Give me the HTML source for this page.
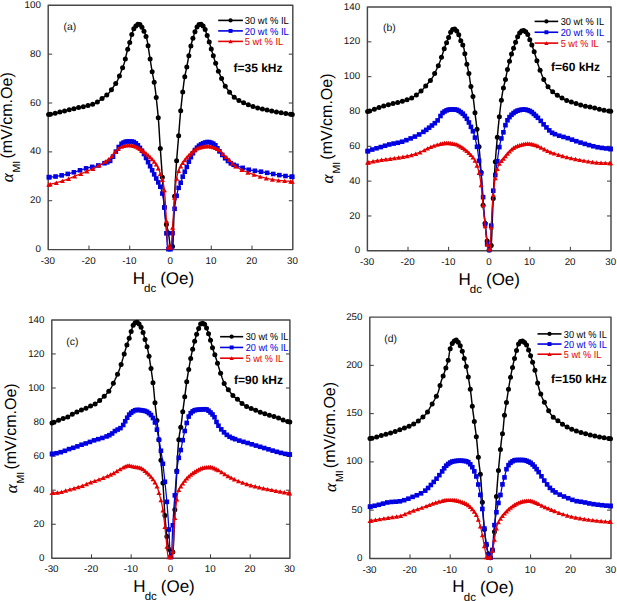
<!DOCTYPE html>
<html><head><meta charset="utf-8"><style>
html,body{margin:0;padding:0;background:#fff;}
svg{display:block;}
text{font-family:"Liberation Sans", sans-serif;text-rendering:geometricPrecision;}
.t{font-size:9.8px;fill:#111;}
.lg{font-size:10.2px;}
.pl{font-size:10.4px;fill:#111;}
.fq{font-size:12px;font-weight:bold;fill:#000;}
.ax{font-size:16px;fill:#000;}
.sub{font-size:10.5px;fill:#000;}
.axx{font-size:17px;fill:#000;}
.alpha{font-family:"Liberation Serif",serif !important;font-style:italic;font-size:17px;fill:#000;}
.subx{font-size:11.5px;fill:#000;}
</style></head><body>
<svg width="617" height="601" viewBox="0 0 617 601">
<rect width="617" height="601" fill="#fff"/>
<rect x="48.20" y="5.30" width="244.60" height="244.30" fill="none" stroke="#474747" stroke-width="1.45" stroke-linejoin="round"/>
<text x="40.90" y="252.20" text-anchor="end" class="t">0</text>
<path d="M48.20 200.74h4.0M292.80 200.74h-4.0" stroke="#3a3a3a" stroke-width="1"/>
<text x="40.90" y="203.34" text-anchor="end" class="t">20</text>
<path d="M48.20 151.88h4.0M292.80 151.88h-4.0" stroke="#3a3a3a" stroke-width="1"/>
<text x="40.90" y="154.48" text-anchor="end" class="t">40</text>
<path d="M48.20 103.02h4.0M292.80 103.02h-4.0" stroke="#3a3a3a" stroke-width="1"/>
<text x="40.90" y="105.62" text-anchor="end" class="t">60</text>
<path d="M48.20 54.16h4.0M292.80 54.16h-4.0" stroke="#3a3a3a" stroke-width="1"/>
<text x="40.90" y="56.76" text-anchor="end" class="t">80</text>
<text x="40.90" y="7.90" text-anchor="end" class="t">100</text>
<text x="47.90" y="264.10" text-anchor="middle" class="t">-30</text>
<path d="M88.97 249.60v-4.0" stroke="#3a3a3a" stroke-width="1"/>
<text x="88.67" y="264.10" text-anchor="middle" class="t">-20</text>
<path d="M129.73 249.60v-4.0" stroke="#3a3a3a" stroke-width="1"/>
<text x="129.43" y="264.10" text-anchor="middle" class="t">-10</text>
<path d="M170.50 249.60v-4.0" stroke="#3a3a3a" stroke-width="1"/>
<text x="170.20" y="264.10" text-anchor="middle" class="t">0</text>
<path d="M211.27 249.60v-4.0" stroke="#3a3a3a" stroke-width="1"/>
<text x="210.97" y="264.10" text-anchor="middle" class="t">10</text>
<path d="M252.03 249.60v-4.0" stroke="#3a3a3a" stroke-width="1"/>
<text x="251.73" y="264.10" text-anchor="middle" class="t">20</text>
<text x="292.50" y="264.10" text-anchor="middle" class="t">30</text>
<path d="M48.6 114.5 L49.0 114.5 L49.4 114.4 L49.8 114.3 L50.2 114.3 L50.6 114.2 L51.0 114.2 L51.4 114.1 L51.8 114.0 L52.2 113.9 L52.6 113.9 L53.0 113.8 L53.4 113.7 L53.8 113.6 L54.2 113.5 L54.6 113.4 L55.0 113.3 L55.4 113.2 L55.8 113.1 L56.2 113.0 L56.6 112.9 L57.0 112.7 L57.4 112.6 L57.8 112.5 L58.2 112.4 L58.6 112.4 L59.0 112.3 L59.4 112.2 L59.8 112.1 L60.2 112.0 L60.6 111.9 L61.0 111.8 L61.4 111.7 L61.8 111.7 L62.2 111.6 L62.6 111.5 L63.0 111.4 L63.4 111.3 L63.8 111.2 L64.2 111.1 L64.6 111.0 L65.0 110.9 L65.4 110.8 L65.8 110.7 L66.2 110.5 L66.6 110.4 L67.0 110.3 L67.4 110.2 L67.8 110.1 L68.2 110.0 L68.6 109.8 L69.0 109.8 L69.4 109.7 L69.8 109.6 L70.2 109.5 L70.6 109.4 L71.0 109.3 L71.4 109.3 L71.8 109.2 L72.2 109.1 L72.6 109.0 L73.0 108.9 L73.4 108.8 L73.8 108.7 L74.2 108.6 L74.6 108.5 L75.0 108.4 L75.4 108.3 L75.8 108.2 L76.2 108.1 L76.6 108.0 L77.0 107.9 L77.4 107.8 L77.8 107.8 L78.2 107.7 L78.6 107.6 L79.0 107.6 L79.4 107.5 L79.8 107.4 L80.2 107.4 L80.6 107.3 L81.0 107.2 L81.4 107.1 L81.8 107.1 L82.2 107.0 L82.6 106.9 L83.0 106.8 L83.4 106.8 L83.8 106.7 L84.2 106.6 L84.6 106.5 L85.0 106.4 L85.4 106.3 L85.8 106.2 L86.2 106.1 L86.6 106.0 L87.0 105.9 L87.4 105.7 L87.8 105.6 L88.2 105.5 L88.6 105.4 L89.0 105.3 L89.4 105.2 L89.8 105.1 L90.2 104.9 L90.6 104.8 L91.0 104.7 L91.4 104.6 L91.8 104.5 L92.2 104.4 L92.6 104.3 L93.0 104.1 L93.4 104.0 L93.8 103.8 L94.2 103.7 L94.6 103.5 L95.0 103.3 L95.4 103.1 L95.8 102.9 L96.2 102.6 L96.6 102.4 L97.0 102.2 L97.4 101.9 L97.8 101.7 L98.2 101.4 L98.6 101.1 L99.0 100.9 L99.4 100.6 L99.8 100.3 L100.2 100.0 L100.6 99.7 L101.0 99.3 L101.4 99.1 L101.8 98.8 L102.2 98.5 L102.6 98.2 L103.0 97.8 L103.4 97.5 L103.8 97.2 L104.2 96.9 L104.6 96.6 L105.0 96.3 L105.4 96.0 L105.8 95.6 L106.2 95.3 L106.6 95.0 L107.0 94.7 L107.4 94.4 L107.8 94.0 L108.2 93.7 L108.6 93.3 L109.0 92.9 L109.4 92.5 L109.8 92.1 L110.2 91.6 L110.6 91.1 L111.0 90.5 L111.4 89.9 L111.8 89.3 L112.2 88.7 L112.6 88.1 L113.0 87.5 L113.4 86.9 L113.8 86.3 L114.2 85.7 L114.6 85.1 L115.0 84.5 L115.4 83.9 L115.8 83.3 L116.2 82.7 L116.6 82.0 L117.0 81.3 L117.4 80.6 L117.8 79.8 L118.2 78.9 L118.6 78.0 L119.0 77.1 L119.4 76.1 L119.8 75.1 L120.2 74.0 L120.6 73.0 L121.0 71.9 L121.4 70.8 L121.8 69.8 L122.2 68.7 L122.6 67.7 L123.0 66.7 L123.4 65.6 L123.8 64.4 L124.2 63.2 L124.6 61.9 L125.0 60.4 L125.4 58.7 L125.8 57.0 L126.2 55.2 L126.6 53.5 L127.0 51.8 L127.4 50.3 L127.8 48.8 L128.2 47.5 L128.6 46.2 L129.0 44.9 L129.4 43.6 L129.8 42.3 L130.2 40.7 L130.6 39.1 L131.0 37.4 L131.4 35.7 L131.8 34.3 L132.2 33.1 L132.6 32.0 L133.0 30.8 L133.4 29.8 L133.8 28.9 L134.2 28.1 L134.6 27.4 L135.0 26.9 L135.4 26.4 L135.8 26.0 L136.2 25.6 L136.6 25.2 L137.0 24.8 L137.4 24.5 L137.8 24.3 L138.2 24.1 L138.6 24.0 L139.0 24.0 L139.4 24.1 L139.8 24.4 L140.2 24.7 L140.6 25.2 L141.0 25.8 L141.4 26.4 L141.8 27.1 L142.2 27.8 L142.6 28.5 L143.0 29.3 L143.4 30.0 L143.8 30.8 L144.2 31.6 L144.6 32.5 L145.0 33.4 L145.4 34.5 L145.8 35.7 L146.2 36.9 L146.6 38.3 L147.0 39.8 L147.4 41.7 L147.8 44.0 L148.2 46.4 L148.6 49.1 L149.0 51.8 L149.4 54.5 L149.8 57.0 L150.2 59.5 L150.6 62.0 L151.0 64.6 L151.4 67.1 L151.8 69.5 L152.2 71.9 L152.6 74.1 L153.0 76.1 L153.4 78.1 L153.8 80.1 L154.2 82.3 L154.6 84.6 L155.0 87.3 L155.4 90.3 L155.8 93.7 L156.2 97.3 L156.6 101.0 L157.0 104.8 L157.4 108.6 L157.8 112.6 L158.2 117.0 L158.6 121.8 L159.0 127.6 L159.4 134.2 L159.8 140.9 L160.2 146.9 L160.6 152.6 L161.0 158.1 L161.4 163.6 L161.8 169.1 L162.2 175.0 L162.6 181.3 L163.0 187.7 L163.4 194.0 L163.8 199.9 L164.2 204.9 L164.6 209.6 L165.0 213.9 L165.4 217.9 L165.8 221.1 L166.2 223.5 L166.6 225.4 L167.0 226.9 L167.4 228.4 L167.8 229.8 L168.2 231.5 L168.6 233.8 L169.0 236.7 L169.4 240.0 L169.8 243.3 L170.2 246.1 L170.6 248.1 L171.0 248.8 L171.4 248.6 L171.8 248.2 L172.2 247.4 L172.6 246.3 L173.0 243.6 L173.4 233.0 L173.8 218.2 L174.2 204.8 L174.6 195.7 L175.0 187.6 L175.4 180.1 L175.8 173.3 L176.2 166.9 L176.6 161.0 L177.0 155.8 L177.4 150.9 L177.8 146.2 L178.2 141.5 L178.6 136.5 L179.0 131.2 L179.4 126.0 L179.8 120.8 L180.2 116.0 L180.6 111.7 L181.0 107.6 L181.4 103.8 L181.8 100.2 L182.2 96.6 L182.6 93.2 L183.0 89.7 L183.4 86.3 L183.8 83.1 L184.2 80.2 L184.6 77.7 L185.0 75.5 L185.4 73.5 L185.8 71.6 L186.2 69.8 L186.6 67.9 L187.0 65.9 L187.4 63.7 L187.8 61.5 L188.2 59.2 L188.6 57.0 L189.0 54.9 L189.4 52.9 L189.8 50.9 L190.2 49.0 L190.6 47.2 L191.0 45.5 L191.4 43.9 L191.8 42.3 L192.2 40.8 L192.6 39.3 L193.0 37.9 L193.4 36.6 L193.8 35.4 L194.2 34.1 L194.6 32.9 L195.0 31.7 L195.4 30.5 L195.8 29.4 L196.2 28.5 L196.6 27.7 L197.0 27.0 L197.4 26.4 L197.8 25.9 L198.2 25.3 L198.6 24.8 L199.0 24.5 L199.4 24.2 L199.8 24.0 L200.2 24.0 L200.6 24.1 L201.0 24.2 L201.4 24.5 L201.8 24.7 L202.2 25.1 L202.6 25.4 L203.0 25.8 L203.4 26.3 L203.8 26.8 L204.2 27.3 L204.6 28.1 L205.0 29.1 L205.4 30.3 L205.8 31.5 L206.2 32.7 L206.6 33.9 L207.0 35.0 L207.4 36.2 L207.8 37.5 L208.2 38.7 L208.6 40.0 L209.0 41.3 L209.4 42.7 L209.8 44.0 L210.2 45.4 L210.6 46.8 L211.0 48.2 L211.4 49.6 L211.8 50.9 L212.2 52.2 L212.6 53.5 L213.0 54.8 L213.4 56.1 L213.8 57.4 L214.2 58.7 L214.6 60.0 L215.0 61.2 L215.4 62.5 L215.8 63.7 L216.2 65.0 L216.6 66.2 L217.0 67.4 L217.4 68.5 L217.8 69.6 L218.2 70.7 L218.6 71.7 L219.0 72.6 L219.4 73.5 L219.8 74.4 L220.2 75.3 L220.6 76.2 L221.0 77.1 L221.4 78.1 L221.8 79.1 L222.2 80.1 L222.6 81.1 L223.0 82.0 L223.4 82.9 L223.8 83.7 L224.2 84.4 L224.6 85.1 L225.0 85.8 L225.4 86.4 L225.8 87.0 L226.2 87.6 L226.6 88.1 L227.0 88.7 L227.4 89.2 L227.8 89.8 L228.2 90.3 L228.6 90.9 L229.0 91.4 L229.4 91.9 L229.8 92.4 L230.2 93.0 L230.6 93.4 L231.0 93.9 L231.4 94.4 L231.8 94.8 L232.2 95.2 L232.6 95.6 L233.0 96.0 L233.4 96.4 L233.8 96.7 L234.2 97.1 L234.6 97.4 L235.0 97.8 L235.4 98.1 L235.8 98.4 L236.2 98.7 L236.6 99.0 L237.0 99.3 L237.4 99.6 L237.8 99.8 L238.2 100.1 L238.6 100.3 L239.0 100.6 L239.4 100.8 L239.8 101.0 L240.2 101.2 L240.6 101.4 L241.0 101.6 L241.4 101.8 L241.8 102.0 L242.2 102.2 L242.6 102.4 L243.0 102.6 L243.4 102.7 L243.8 102.9 L244.2 103.1 L244.6 103.2 L245.0 103.4 L245.4 103.6 L245.8 103.8 L246.2 103.9 L246.6 104.1 L247.0 104.3 L247.4 104.4 L247.8 104.6 L248.2 104.7 L248.6 104.9 L249.0 105.1 L249.4 105.2 L249.8 105.4 L250.2 105.5 L250.6 105.7 L251.0 105.8 L251.4 106.0 L251.8 106.1 L252.2 106.2 L252.6 106.4 L253.0 106.5 L253.4 106.6 L253.8 106.8 L254.2 106.9 L254.6 107.0 L255.0 107.1 L255.4 107.3 L255.8 107.4 L256.2 107.5 L256.6 107.6 L257.0 107.7 L257.4 107.8 L257.8 107.9 L258.2 108.0 L258.6 108.1 L259.0 108.2 L259.4 108.3 L259.8 108.4 L260.2 108.5 L260.6 108.6 L261.0 108.7 L261.4 108.8 L261.8 108.9 L262.2 109.0 L262.6 109.1 L263.0 109.2 L263.4 109.3 L263.8 109.4 L264.2 109.5 L264.6 109.6 L265.0 109.7 L265.4 109.8 L265.8 109.8 L266.2 109.9 L266.6 110.0 L267.0 110.1 L267.4 110.2 L267.8 110.3 L268.2 110.3 L268.6 110.4 L269.0 110.5 L269.4 110.6 L269.8 110.7 L270.2 110.7 L270.6 110.8 L271.0 110.9 L271.4 111.0 L271.8 111.1 L272.2 111.1 L272.6 111.2 L273.0 111.3 L273.4 111.4 L273.8 111.4 L274.2 111.5 L274.6 111.6 L275.0 111.7 L275.4 111.7 L275.8 111.8 L276.2 111.9 L276.6 111.9 L277.0 112.0 L277.4 112.1 L277.8 112.2 L278.2 112.2 L278.6 112.3 L279.0 112.4 L279.4 112.4 L279.8 112.5 L280.2 112.6 L280.6 112.6 L281.0 112.7 L281.4 112.8 L281.8 112.8 L282.2 112.9 L282.6 113.0 L283.0 113.0 L283.4 113.1 L283.8 113.2 L284.2 113.2 L284.6 113.3 L285.0 113.4 L285.4 113.4 L285.8 113.5 L286.2 113.5 L286.6 113.6 L287.0 113.7 L287.4 113.7 L287.8 113.8 L288.2 113.9 L288.6 113.9 L289.0 114.0 L289.4 114.1 L289.8 114.1 L290.2 114.2 L290.6 114.2 L291.0 114.3 L291.4 114.4 L291.8 114.4 L292.2 114.5 L292.3 114.5" fill="none" stroke="#000" stroke-width="1.45" stroke-linejoin="round"/>
<circle cx="48.60" cy="114.50" r="2.50" fill="#000"/>
<circle cx="50.49" cy="114.24" r="2.50" fill="#000"/>
<circle cx="55.18" cy="113.23" r="2.50" fill="#000"/>
<circle cx="59.86" cy="112.07" r="2.50" fill="#000"/>
<circle cx="64.55" cy="111.01" r="2.50" fill="#000"/>
<circle cx="69.24" cy="109.70" r="2.50" fill="#000"/>
<circle cx="73.93" cy="108.66" r="2.50" fill="#000"/>
<circle cx="78.62" cy="107.62" r="2.50" fill="#000"/>
<circle cx="83.31" cy="106.77" r="2.50" fill="#000"/>
<circle cx="87.99" cy="105.56" r="2.50" fill="#000"/>
<circle cx="92.68" cy="104.25" r="2.50" fill="#000"/>
<circle cx="97.37" cy="101.96" r="2.50" fill="#000"/>
<circle cx="102.06" cy="98.56" r="2.50" fill="#000"/>
<circle cx="106.75" cy="94.89" r="2.50" fill="#000"/>
<circle cx="111.43" cy="89.87" r="2.50" fill="#000"/>
<circle cx="115.72" cy="83.45" r="2.50" fill="#000"/>
<circle cx="119.41" cy="76.07" r="2.50" fill="#000"/>
<circle cx="122.59" cy="67.73" r="2.50" fill="#000"/>
<circle cx="125.33" cy="59.00" r="2.50" fill="#000"/>
<circle cx="127.70" cy="49.20" r="2.50" fill="#000"/>
<circle cx="129.73" cy="42.49" r="2.50" fill="#000"/>
<circle cx="131.77" cy="34.40" r="2.50" fill="#000"/>
<circle cx="133.81" cy="28.86" r="2.50" fill="#000"/>
<circle cx="135.85" cy="25.93" r="2.50" fill="#000"/>
<circle cx="137.89" cy="24.26" r="2.50" fill="#000"/>
<circle cx="139.93" cy="24.47" r="2.50" fill="#000"/>
<circle cx="141.96" cy="27.36" r="2.50" fill="#000"/>
<circle cx="144.00" cy="31.16" r="2.50" fill="#000"/>
<circle cx="146.04" cy="36.39" r="2.50" fill="#000"/>
<circle cx="148.08" cy="45.67" r="2.50" fill="#000"/>
<circle cx="150.12" cy="58.96" r="2.50" fill="#000"/>
<circle cx="152.16" cy="71.64" r="2.50" fill="#000"/>
<circle cx="154.19" cy="82.22" r="2.50" fill="#000"/>
<circle cx="156.23" cy="97.59" r="2.50" fill="#000"/>
<circle cx="158.27" cy="117.79" r="2.50" fill="#000"/>
<circle cx="160.31" cy="148.50" r="2.50" fill="#000"/>
<circle cx="162.35" cy="177.25" r="2.50" fill="#000"/>
<circle cx="164.38" cy="207.07" r="2.50" fill="#000"/>
<circle cx="166.42" cy="224.61" r="2.50" fill="#000"/>
<circle cx="168.46" cy="232.88" r="2.50" fill="#000"/>
<circle cx="170.50" cy="247.66" r="2.50" fill="#000"/>
<circle cx="172.54" cy="246.52" r="2.50" fill="#000"/>
<circle cx="174.58" cy="196.21" r="2.50" fill="#000"/>
<circle cx="176.62" cy="160.82" r="2.50" fill="#000"/>
<circle cx="178.65" cy="135.77" r="2.50" fill="#000"/>
<circle cx="180.69" cy="110.73" r="2.50" fill="#000"/>
<circle cx="182.73" cy="92.03" r="2.50" fill="#000"/>
<circle cx="184.77" cy="76.74" r="2.50" fill="#000"/>
<circle cx="186.81" cy="66.89" r="2.50" fill="#000"/>
<circle cx="188.85" cy="55.70" r="2.50" fill="#000"/>
<circle cx="190.88" cy="45.99" r="2.50" fill="#000"/>
<circle cx="192.92" cy="38.21" r="2.50" fill="#000"/>
<circle cx="194.96" cy="31.79" r="2.50" fill="#000"/>
<circle cx="197.00" cy="27.00" r="2.50" fill="#000"/>
<circle cx="199.04" cy="24.43" r="2.50" fill="#000"/>
<circle cx="201.07" cy="24.27" r="2.50" fill="#000"/>
<circle cx="203.11" cy="25.96" r="2.50" fill="#000"/>
<circle cx="205.15" cy="29.55" r="2.50" fill="#000"/>
<circle cx="207.19" cy="35.61" r="2.50" fill="#000"/>
<circle cx="209.23" cy="42.08" r="2.50" fill="#000"/>
<circle cx="211.27" cy="49.12" r="2.50" fill="#000"/>
<circle cx="213.31" cy="55.83" r="2.50" fill="#000"/>
<circle cx="215.67" cy="63.31" r="2.50" fill="#000"/>
<circle cx="218.41" cy="71.20" r="2.50" fill="#000"/>
<circle cx="221.59" cy="78.58" r="2.50" fill="#000"/>
<circle cx="225.28" cy="86.22" r="2.50" fill="#000"/>
<circle cx="229.57" cy="92.14" r="2.50" fill="#000"/>
<circle cx="234.25" cy="97.14" r="2.50" fill="#000"/>
<circle cx="238.94" cy="100.52" r="2.50" fill="#000"/>
<circle cx="243.63" cy="102.83" r="2.50" fill="#000"/>
<circle cx="248.32" cy="104.80" r="2.50" fill="#000"/>
<circle cx="253.01" cy="106.51" r="2.50" fill="#000"/>
<circle cx="257.69" cy="107.90" r="2.50" fill="#000"/>
<circle cx="262.38" cy="109.07" r="2.50" fill="#000"/>
<circle cx="267.07" cy="110.11" r="2.50" fill="#000"/>
<circle cx="271.76" cy="111.05" r="2.50" fill="#000"/>
<circle cx="276.45" cy="111.92" r="2.50" fill="#000"/>
<circle cx="281.14" cy="112.72" r="2.50" fill="#000"/>
<circle cx="285.82" cy="113.48" r="2.50" fill="#000"/>
<circle cx="290.51" cy="114.23" r="2.50" fill="#000"/>
<circle cx="292.30" cy="114.50" r="2.50" fill="#000"/>
<path d="M48.8 177.2 L49.2 177.2 L49.6 177.2 L50.0 177.1 L50.4 177.1 L50.8 177.1 L51.2 177.0 L51.6 177.0 L52.0 176.9 L52.4 176.9 L52.8 176.9 L53.2 176.8 L53.6 176.8 L54.0 176.7 L54.4 176.7 L54.8 176.6 L55.2 176.6 L55.6 176.5 L56.0 176.4 L56.4 176.4 L56.8 176.3 L57.2 176.2 L57.6 176.2 L58.0 176.1 L58.4 176.0 L58.8 175.9 L59.2 175.9 L59.6 175.8 L60.0 175.7 L60.4 175.6 L60.8 175.5 L61.2 175.5 L61.6 175.4 L62.0 175.3 L62.4 175.2 L62.8 175.1 L63.2 175.0 L63.6 174.9 L64.0 174.8 L64.4 174.8 L64.8 174.7 L65.2 174.6 L65.6 174.5 L66.0 174.4 L66.4 174.3 L66.8 174.2 L67.2 174.1 L67.6 174.0 L68.0 173.9 L68.4 173.8 L68.8 173.7 L69.2 173.6 L69.6 173.5 L70.0 173.3 L70.4 173.2 L70.8 173.1 L71.2 173.0 L71.6 172.9 L72.0 172.8 L72.4 172.7 L72.8 172.6 L73.2 172.5 L73.6 172.4 L74.0 172.2 L74.4 172.1 L74.8 172.0 L75.2 171.9 L75.6 171.8 L76.0 171.6 L76.4 171.5 L76.8 171.4 L77.2 171.2 L77.6 171.1 L78.0 171.0 L78.4 170.9 L78.8 170.7 L79.2 170.6 L79.6 170.5 L80.0 170.3 L80.4 170.2 L80.8 170.1 L81.2 169.9 L81.6 169.8 L82.0 169.7 L82.4 169.5 L82.8 169.4 L83.2 169.3 L83.6 169.1 L84.0 169.0 L84.4 168.9 L84.8 168.8 L85.2 168.6 L85.6 168.5 L86.0 168.4 L86.4 168.3 L86.8 168.2 L87.2 168.0 L87.6 167.9 L88.0 167.8 L88.4 167.7 L88.8 167.6 L89.2 167.5 L89.6 167.4 L90.0 167.3 L90.4 167.3 L90.8 167.2 L91.2 167.1 L91.6 167.0 L92.0 166.9 L92.4 166.9 L92.8 166.8 L93.2 166.7 L93.6 166.6 L94.0 166.5 L94.4 166.5 L94.8 166.4 L95.2 166.3 L95.6 166.2 L96.0 166.1 L96.4 166.0 L96.8 165.9 L97.2 165.8 L97.6 165.7 L98.0 165.6 L98.4 165.4 L98.8 165.3 L99.2 165.2 L99.6 165.0 L100.0 164.9 L100.4 164.8 L100.8 164.6 L101.2 164.5 L101.6 164.3 L102.0 164.2 L102.4 164.0 L102.8 163.9 L103.2 163.7 L103.6 163.6 L104.0 163.4 L104.4 163.3 L104.8 163.1 L105.2 163.0 L105.6 162.8 L106.0 162.7 L106.4 162.6 L106.8 162.4 L107.2 162.3 L107.6 162.2 L108.0 162.0 L108.4 161.8 L108.8 161.7 L109.2 161.5 L109.6 161.2 L110.0 161.0 L110.4 160.7 L110.8 160.2 L111.2 159.7 L111.6 159.1 L112.0 158.5 L112.4 157.8 L112.8 157.1 L113.2 156.4 L113.6 155.7 L114.0 155.0 L114.4 154.3 L114.8 153.6 L115.2 152.9 L115.6 152.1 L116.0 151.4 L116.4 150.6 L116.8 149.9 L117.2 149.2 L117.6 148.6 L118.0 148.0 L118.4 147.5 L118.8 146.9 L119.2 146.4 L119.6 145.9 L120.0 145.4 L120.4 144.9 L120.8 144.5 L121.2 144.1 L121.6 143.8 L122.0 143.5 L122.4 143.3 L122.8 143.0 L123.2 142.8 L123.6 142.6 L124.0 142.4 L124.4 142.2 L124.8 142.0 L125.2 141.8 L125.6 141.7 L126.0 141.6 L126.4 141.5 L126.8 141.5 L127.2 141.5 L127.6 141.5 L128.0 141.5 L128.4 141.5 L128.8 141.5 L129.2 141.5 L129.6 141.5 L130.0 141.5 L130.4 141.5 L130.8 141.5 L131.2 141.5 L131.6 141.5 L132.0 141.5 L132.4 141.5 L132.8 141.6 L133.2 141.8 L133.6 141.9 L134.0 142.2 L134.4 142.4 L134.8 142.7 L135.2 142.9 L135.6 143.2 L136.0 143.5 L136.4 143.8 L136.8 144.2 L137.2 144.6 L137.6 145.0 L138.0 145.5 L138.4 145.9 L138.8 146.4 L139.2 147.0 L139.6 147.5 L140.0 148.0 L140.4 148.5 L140.8 149.1 L141.2 149.6 L141.6 150.2 L142.0 150.8 L142.4 151.4 L142.8 152.0 L143.2 152.7 L143.6 153.3 L144.0 154.0 L144.4 154.7 L144.8 155.5 L145.2 156.2 L145.6 157.0 L146.0 157.9 L146.4 158.7 L146.8 159.5 L147.2 160.4 L147.6 161.2 L148.0 162.0 L148.4 162.8 L148.8 163.6 L149.2 164.4 L149.6 165.2 L150.0 166.0 L150.4 166.8 L150.8 167.6 L151.2 168.4 L151.6 169.2 L152.0 170.0 L152.4 170.8 L152.8 171.6 L153.2 172.4 L153.6 173.2 L154.0 174.0 L154.4 174.8 L154.8 175.6 L155.2 176.4 L155.6 177.2 L156.0 178.0 L156.4 178.8 L156.8 179.6 L157.2 180.4 L157.6 181.2 L158.0 181.9 L158.4 182.6 L158.8 183.4 L159.2 184.2 L159.6 185.1 L160.0 186.0 L160.4 187.0 L160.8 188.0 L161.2 189.2 L161.6 190.5 L162.0 192.0 L162.4 193.8 L162.8 195.9 L163.2 198.4 L163.6 201.1 L164.0 204.2 L164.4 207.8 L164.8 212.2 L165.2 217.2 L165.6 222.4 L166.0 227.4 L166.4 233.0 L166.8 239.3 L167.2 244.9 L167.6 248.5 L168.0 249.1 L168.4 249.1 L168.8 249.2 L169.2 249.3 L169.6 249.3 L170.0 249.3 L170.4 249.2 L170.8 249.0 L171.2 248.7 L171.6 248.1 L172.0 246.8 L172.4 236.7 L172.8 228.8 L173.2 223.0 L173.6 217.9 L174.0 213.7 L174.4 210.2 L174.8 207.1 L175.2 204.2 L175.6 201.6 L176.0 199.2 L176.4 197.0 L176.8 194.9 L177.2 193.1 L177.6 191.4 L178.0 189.9 L178.4 188.6 L178.8 187.4 L179.2 186.4 L179.6 185.4 L180.0 184.4 L180.4 183.5 L180.8 182.5 L181.2 181.3 L181.6 180.1 L182.0 178.9 L182.4 177.6 L182.8 176.4 L183.2 175.4 L183.6 174.4 L184.0 173.4 L184.4 172.5 L184.8 171.6 L185.2 170.7 L185.6 169.8 L186.0 168.9 L186.4 167.9 L186.8 166.9 L187.2 165.9 L187.6 164.8 L188.0 163.8 L188.4 162.8 L188.8 161.8 L189.2 160.8 L189.6 159.9 L190.0 159.0 L190.4 158.2 L190.8 157.3 L191.2 156.5 L191.6 155.7 L192.0 154.9 L192.4 154.2 L192.8 153.4 L193.2 152.7 L193.6 152.0 L194.0 151.4 L194.4 150.8 L194.8 150.3 L195.2 149.8 L195.6 149.3 L196.0 148.8 L196.4 148.3 L196.8 147.9 L197.2 147.5 L197.6 147.0 L198.0 146.7 L198.4 146.3 L198.8 145.9 L199.2 145.6 L199.6 145.3 L200.0 145.0 L200.4 144.7 L200.8 144.5 L201.2 144.3 L201.6 144.1 L202.0 143.9 L202.4 143.7 L202.8 143.5 L203.2 143.3 L203.6 143.1 L204.0 142.9 L204.4 142.8 L204.8 142.6 L205.2 142.5 L205.6 142.4 L206.0 142.3 L206.4 142.2 L206.8 142.1 L207.2 142.0 L207.6 142.0 L208.0 142.0 L208.4 142.0 L208.8 142.1 L209.2 142.1 L209.6 142.2 L210.0 142.3 L210.4 142.4 L210.8 142.6 L211.2 142.7 L211.6 142.9 L212.0 143.1 L212.4 143.2 L212.8 143.4 L213.2 143.6 L213.6 143.8 L214.0 144.1 L214.4 144.3 L214.8 144.7 L215.2 145.1 L215.6 145.6 L216.0 146.1 L216.4 146.7 L216.8 147.3 L217.2 147.9 L217.6 148.6 L218.0 149.2 L218.4 149.8 L218.8 150.5 L219.2 151.1 L219.6 151.6 L220.0 152.1 L220.4 152.6 L220.8 153.1 L221.2 153.6 L221.6 154.1 L222.0 154.6 L222.4 155.1 L222.8 155.6 L223.2 156.1 L223.6 156.5 L224.0 157.0 L224.4 157.4 L224.8 157.9 L225.2 158.3 L225.6 158.7 L226.0 159.1 L226.4 159.5 L226.8 159.9 L227.2 160.3 L227.6 160.6 L228.0 161.0 L228.4 161.4 L228.8 161.8 L229.2 162.1 L229.6 162.4 L230.0 162.8 L230.4 163.1 L230.8 163.3 L231.2 163.6 L231.6 163.8 L232.0 164.1 L232.4 164.2 L232.8 164.4 L233.2 164.6 L233.6 164.8 L234.0 164.9 L234.4 165.1 L234.8 165.2 L235.2 165.4 L235.6 165.5 L236.0 165.7 L236.4 165.8 L236.8 165.9 L237.2 166.0 L237.6 166.2 L238.0 166.3 L238.4 166.4 L238.8 166.5 L239.2 166.7 L239.6 166.8 L240.0 166.9 L240.4 167.1 L240.8 167.2 L241.2 167.3 L241.6 167.5 L242.0 167.6 L242.4 167.8 L242.8 167.9 L243.2 168.0 L243.6 168.2 L244.0 168.3 L244.4 168.4 L244.8 168.6 L245.2 168.7 L245.6 168.8 L246.0 169.0 L246.4 169.1 L246.8 169.2 L247.2 169.3 L247.6 169.4 L248.0 169.6 L248.4 169.7 L248.8 169.8 L249.2 169.8 L249.6 169.9 L250.0 170.0 L250.4 170.1 L250.8 170.2 L251.2 170.2 L251.6 170.3 L252.0 170.4 L252.4 170.4 L252.8 170.5 L253.2 170.6 L253.6 170.6 L254.0 170.7 L254.4 170.7 L254.8 170.8 L255.2 170.8 L255.6 170.9 L256.0 170.9 L256.4 171.0 L256.8 171.0 L257.2 171.1 L257.6 171.2 L258.0 171.2 L258.4 171.3 L258.8 171.3 L259.2 171.4 L259.6 171.5 L260.0 171.5 L260.4 171.6 L260.8 171.7 L261.2 171.7 L261.6 171.8 L262.0 171.9 L262.4 171.9 L262.8 172.0 L263.2 172.1 L263.6 172.2 L264.0 172.2 L264.4 172.3 L264.8 172.4 L265.2 172.5 L265.6 172.5 L266.0 172.6 L266.4 172.7 L266.8 172.8 L267.2 172.8 L267.6 172.9 L268.0 173.0 L268.4 173.1 L268.8 173.1 L269.2 173.2 L269.6 173.3 L270.0 173.4 L270.4 173.5 L270.8 173.5 L271.2 173.6 L271.6 173.7 L272.0 173.8 L272.4 173.8 L272.8 173.9 L273.2 174.0 L273.6 174.0 L274.0 174.1 L274.4 174.2 L274.8 174.3 L275.2 174.3 L275.6 174.4 L276.0 174.5 L276.4 174.6 L276.8 174.6 L277.2 174.7 L277.6 174.8 L278.0 174.9 L278.4 174.9 L278.8 175.0 L279.2 175.1 L279.6 175.1 L280.0 175.2 L280.4 175.3 L280.8 175.3 L281.2 175.4 L281.6 175.5 L282.0 175.5 L282.4 175.6 L282.8 175.6 L283.2 175.7 L283.6 175.8 L284.0 175.8 L284.4 175.9 L284.8 175.9 L285.2 176.0 L285.6 176.0 L286.0 176.1 L286.4 176.1 L286.8 176.2 L287.2 176.2 L287.6 176.3 L288.0 176.3 L288.4 176.4 L288.8 176.4 L289.2 176.5 L289.6 176.5 L290.0 176.6 L290.4 176.6 L290.8 176.6 L291.2 176.7 L291.6 176.7 L292.0 176.8 L292.3 176.8" fill="none" stroke="#0000e0" stroke-width="1.25" stroke-linejoin="round"/>
<rect x="46.50" y="174.90" width="4.60" height="4.60" fill="#0000e0"/>
<rect x="47.12" y="174.86" width="4.60" height="4.60" fill="#0000e0"/>
<rect x="53.24" y="174.22" width="4.60" height="4.60" fill="#0000e0"/>
<rect x="59.35" y="173.07" width="4.60" height="4.60" fill="#0000e0"/>
<rect x="65.47" y="171.63" width="4.60" height="4.60" fill="#0000e0"/>
<rect x="71.58" y="169.98" width="4.60" height="4.60" fill="#0000e0"/>
<rect x="77.70" y="168.02" width="4.60" height="4.60" fill="#0000e0"/>
<rect x="83.81" y="166.06" width="4.60" height="4.60" fill="#0000e0"/>
<rect x="89.93" y="164.59" width="4.60" height="4.60" fill="#0000e0"/>
<rect x="96.04" y="163.15" width="4.60" height="4.60" fill="#0000e0"/>
<rect x="102.16" y="160.93" width="4.60" height="4.60" fill="#0000e0"/>
<rect x="105.01" y="159.96" width="4.60" height="4.60" fill="#0000e0"/>
<rect x="107.87" y="158.58" width="4.60" height="4.60" fill="#0000e0"/>
<rect x="110.72" y="154.39" width="4.60" height="4.60" fill="#0000e0"/>
<rect x="113.57" y="149.32" width="4.60" height="4.60" fill="#0000e0"/>
<rect x="116.43" y="144.71" width="4.60" height="4.60" fill="#0000e0"/>
<rect x="119.28" y="141.49" width="4.60" height="4.60" fill="#0000e0"/>
<rect x="121.32" y="140.26" width="4.60" height="4.60" fill="#0000e0"/>
<rect x="123.36" y="139.40" width="4.60" height="4.60" fill="#0000e0"/>
<rect x="125.40" y="139.20" width="4.60" height="4.60" fill="#0000e0"/>
<rect x="127.43" y="139.20" width="4.60" height="4.60" fill="#0000e0"/>
<rect x="129.47" y="139.20" width="4.60" height="4.60" fill="#0000e0"/>
<rect x="131.51" y="139.75" width="4.60" height="4.60" fill="#0000e0"/>
<rect x="133.55" y="141.09" width="4.60" height="4.60" fill="#0000e0"/>
<rect x="135.59" y="143.02" width="4.60" height="4.60" fill="#0000e0"/>
<rect x="137.62" y="145.60" width="4.60" height="4.60" fill="#0000e0"/>
<rect x="139.66" y="148.43" width="4.60" height="4.60" fill="#0000e0"/>
<rect x="141.70" y="151.70" width="4.60" height="4.60" fill="#0000e0"/>
<rect x="143.74" y="155.64" width="4.60" height="4.60" fill="#0000e0"/>
<rect x="145.78" y="159.86" width="4.60" height="4.60" fill="#0000e0"/>
<rect x="147.82" y="163.93" width="4.60" height="4.60" fill="#0000e0"/>
<rect x="149.85" y="168.01" width="4.60" height="4.60" fill="#0000e0"/>
<rect x="151.89" y="172.09" width="4.60" height="4.60" fill="#0000e0"/>
<rect x="153.93" y="176.16" width="4.60" height="4.60" fill="#0000e0"/>
<rect x="155.97" y="180.11" width="4.60" height="4.60" fill="#0000e0"/>
<rect x="158.01" y="184.46" width="4.60" height="4.60" fill="#0000e0"/>
<rect x="160.05" y="191.23" width="4.60" height="4.60" fill="#0000e0"/>
<rect x="162.08" y="205.31" width="4.60" height="4.60" fill="#0000e0"/>
<rect x="164.12" y="231.05" width="4.60" height="4.60" fill="#0000e0"/>
<rect x="166.16" y="246.86" width="4.60" height="4.60" fill="#0000e0"/>
<rect x="168.20" y="246.90" width="4.60" height="4.60" fill="#0000e0"/>
<rect x="170.24" y="230.88" width="4.60" height="4.60" fill="#0000e0"/>
<rect x="172.28" y="206.50" width="4.60" height="4.60" fill="#0000e0"/>
<rect x="174.31" y="193.55" width="4.60" height="4.60" fill="#0000e0"/>
<rect x="176.35" y="185.51" width="4.60" height="4.60" fill="#0000e0"/>
<rect x="178.39" y="180.44" width="4.60" height="4.60" fill="#0000e0"/>
<rect x="180.43" y="174.34" width="4.60" height="4.60" fill="#0000e0"/>
<rect x="182.47" y="169.41" width="4.60" height="4.60" fill="#0000e0"/>
<rect x="184.51" y="164.59" width="4.60" height="4.60" fill="#0000e0"/>
<rect x="186.55" y="159.36" width="4.60" height="4.60" fill="#0000e0"/>
<rect x="188.58" y="154.86" width="4.60" height="4.60" fill="#0000e0"/>
<rect x="190.62" y="150.89" width="4.60" height="4.60" fill="#0000e0"/>
<rect x="192.66" y="147.75" width="4.60" height="4.60" fill="#0000e0"/>
<rect x="194.70" y="145.37" width="4.60" height="4.60" fill="#0000e0"/>
<rect x="196.74" y="143.43" width="4.60" height="4.60" fill="#0000e0"/>
<rect x="198.77" y="142.06" width="4.60" height="4.60" fill="#0000e0"/>
<rect x="200.81" y="141.04" width="4.60" height="4.60" fill="#0000e0"/>
<rect x="202.85" y="140.20" width="4.60" height="4.60" fill="#0000e0"/>
<rect x="204.89" y="139.74" width="4.60" height="4.60" fill="#0000e0"/>
<rect x="206.93" y="139.83" width="4.60" height="4.60" fill="#0000e0"/>
<rect x="208.97" y="140.44" width="4.60" height="4.60" fill="#0000e0"/>
<rect x="211.00" y="141.39" width="4.60" height="4.60" fill="#0000e0"/>
<rect x="213.04" y="142.98" width="4.60" height="4.60" fill="#0000e0"/>
<rect x="215.08" y="145.93" width="4.60" height="4.60" fill="#0000e0"/>
<rect x="217.12" y="149.07" width="4.60" height="4.60" fill="#0000e0"/>
<rect x="219.97" y="152.65" width="4.60" height="4.60" fill="#0000e0"/>
<rect x="222.83" y="155.92" width="4.60" height="4.60" fill="#0000e0"/>
<rect x="225.68" y="158.71" width="4.60" height="4.60" fill="#0000e0"/>
<rect x="228.53" y="161.06" width="4.60" height="4.60" fill="#0000e0"/>
<rect x="231.39" y="162.52" width="4.60" height="4.60" fill="#0000e0"/>
<rect x="234.24" y="163.54" width="4.60" height="4.60" fill="#0000e0"/>
<rect x="240.36" y="165.55" width="4.60" height="4.60" fill="#0000e0"/>
<rect x="246.47" y="167.45" width="4.60" height="4.60" fill="#0000e0"/>
<rect x="252.59" y="168.49" width="4.60" height="4.60" fill="#0000e0"/>
<rect x="258.70" y="169.39" width="4.60" height="4.60" fill="#0000e0"/>
<rect x="264.82" y="170.52" width="4.60" height="4.60" fill="#0000e0"/>
<rect x="270.93" y="171.68" width="4.60" height="4.60" fill="#0000e0"/>
<rect x="277.05" y="172.80" width="4.60" height="4.60" fill="#0000e0"/>
<rect x="283.16" y="173.71" width="4.60" height="4.60" fill="#0000e0"/>
<rect x="289.28" y="174.43" width="4.60" height="4.60" fill="#0000e0"/>
<rect x="290.00" y="174.50" width="4.60" height="4.60" fill="#0000e0"/>
<path d="M48.8 184.5 L49.2 184.4 L49.6 184.3 L50.0 184.3 L50.4 184.2 L50.8 184.1 L51.2 184.0 L51.6 183.9 L52.0 183.8 L52.4 183.7 L52.8 183.6 L53.2 183.5 L53.6 183.4 L54.0 183.3 L54.4 183.2 L54.8 183.1 L55.2 183.0 L55.6 182.9 L56.0 182.8 L56.4 182.7 L56.8 182.6 L57.2 182.5 L57.6 182.4 L58.0 182.3 L58.4 182.1 L58.8 182.0 L59.2 181.9 L59.6 181.8 L60.0 181.7 L60.4 181.6 L60.8 181.4 L61.2 181.3 L61.6 181.2 L62.0 181.1 L62.4 180.9 L62.8 180.8 L63.2 180.7 L63.6 180.6 L64.0 180.4 L64.4 180.3 L64.8 180.2 L65.2 180.0 L65.6 179.9 L66.0 179.8 L66.4 179.6 L66.8 179.5 L67.2 179.3 L67.6 179.2 L68.0 179.0 L68.4 178.8 L68.8 178.7 L69.2 178.5 L69.6 178.4 L70.0 178.2 L70.4 178.0 L70.8 177.8 L71.2 177.7 L71.6 177.5 L72.0 177.3 L72.4 177.2 L72.8 177.0 L73.2 176.8 L73.6 176.6 L74.0 176.5 L74.4 176.3 L74.8 176.1 L75.2 176.0 L75.6 175.8 L76.0 175.7 L76.4 175.5 L76.8 175.3 L77.2 175.2 L77.6 175.0 L78.0 174.9 L78.4 174.7 L78.8 174.6 L79.2 174.5 L79.6 174.3 L80.0 174.2 L80.4 174.0 L80.8 173.8 L81.2 173.7 L81.6 173.5 L82.0 173.4 L82.4 173.2 L82.8 173.0 L83.2 172.8 L83.6 172.7 L84.0 172.5 L84.4 172.3 L84.8 172.1 L85.2 172.0 L85.6 171.8 L86.0 171.6 L86.4 171.4 L86.8 171.3 L87.2 171.1 L87.6 170.9 L88.0 170.8 L88.4 170.6 L88.8 170.4 L89.2 170.3 L89.6 170.1 L90.0 170.0 L90.4 169.9 L90.8 169.7 L91.2 169.6 L91.6 169.4 L92.0 169.3 L92.4 169.1 L92.8 169.0 L93.2 168.8 L93.6 168.6 L94.0 168.4 L94.4 168.2 L94.8 167.9 L95.2 167.6 L95.6 167.4 L96.0 167.1 L96.4 166.8 L96.8 166.6 L97.2 166.3 L97.6 166.1 L98.0 165.8 L98.4 165.6 L98.8 165.4 L99.2 165.2 L99.6 165.1 L100.0 164.9 L100.4 164.7 L100.8 164.5 L101.2 164.3 L101.6 164.1 L102.0 163.9 L102.4 163.7 L102.8 163.4 L103.2 163.1 L103.6 162.9 L104.0 162.5 L104.4 162.2 L104.8 161.9 L105.2 161.6 L105.6 161.3 L106.0 160.9 L106.4 160.6 L106.8 160.3 L107.2 160.1 L107.6 159.8 L108.0 159.6 L108.4 159.4 L108.8 159.1 L109.2 158.9 L109.6 158.6 L110.0 158.3 L110.4 157.9 L110.8 157.5 L111.2 156.9 L111.6 156.4 L112.0 155.8 L112.4 155.2 L112.8 154.6 L113.2 154.0 L113.6 153.5 L114.0 153.0 L114.4 152.5 L114.8 152.1 L115.2 151.7 L115.6 151.2 L116.0 150.8 L116.4 150.4 L116.8 150.0 L117.2 149.7 L117.6 149.3 L118.0 149.0 L118.4 148.7 L118.8 148.4 L119.2 148.1 L119.6 147.8 L120.0 147.5 L120.4 147.3 L120.8 147.0 L121.2 146.8 L121.6 146.6 L122.0 146.4 L122.4 146.2 L122.8 146.1 L123.2 145.9 L123.6 145.8 L124.0 145.7 L124.4 145.6 L124.8 145.5 L125.2 145.4 L125.6 145.3 L126.0 145.2 L126.4 145.1 L126.8 145.1 L127.2 145.0 L127.6 145.0 L128.0 145.0 L128.4 145.0 L128.8 145.0 L129.2 145.0 L129.6 145.1 L130.0 145.1 L130.4 145.1 L130.8 145.2 L131.2 145.2 L131.6 145.3 L132.0 145.3 L132.4 145.4 L132.8 145.5 L133.2 145.5 L133.6 145.6 L134.0 145.7 L134.4 145.9 L134.8 146.0 L135.2 146.2 L135.6 146.3 L136.0 146.5 L136.4 146.7 L136.8 146.9 L137.2 147.1 L137.6 147.3 L138.0 147.5 L138.4 147.7 L138.8 147.9 L139.2 148.2 L139.6 148.5 L140.0 148.7 L140.4 149.0 L140.8 149.3 L141.2 149.6 L141.6 149.9 L142.0 150.2 L142.4 150.5 L142.8 150.8 L143.2 151.1 L143.6 151.4 L144.0 151.8 L144.4 152.1 L144.8 152.4 L145.2 152.7 L145.6 153.0 L146.0 153.3 L146.4 153.6 L146.8 154.0 L147.2 154.3 L147.6 154.6 L148.0 155.0 L148.4 155.4 L148.8 155.7 L149.2 156.1 L149.6 156.5 L150.0 156.9 L150.4 157.3 L150.8 157.7 L151.2 158.1 L151.6 158.6 L152.0 159.0 L152.4 159.4 L152.8 159.9 L153.2 160.3 L153.6 160.8 L154.0 161.3 L154.4 161.8 L154.8 162.3 L155.2 162.8 L155.6 163.4 L156.0 164.0 L156.4 164.6 L156.8 165.3 L157.2 166.1 L157.6 166.9 L158.0 167.7 L158.4 168.6 L158.8 169.5 L159.2 170.5 L159.6 171.6 L160.0 172.9 L160.4 174.1 L160.8 175.4 L161.2 176.6 L161.6 177.7 L162.0 178.7 L162.4 179.9 L162.8 181.2 L163.2 182.9 L163.6 184.8 L164.0 187.2 L164.4 190.2 L164.8 194.1 L165.2 199.7 L165.6 206.4 L166.0 213.4 L166.4 220.2 L166.8 228.5 L167.2 236.9 L167.6 243.2 L168.0 245.6 L168.4 247.1 L168.8 248.2 L169.2 248.8 L169.6 249.0 L170.0 248.6 L170.4 247.6 L170.8 246.3 L171.2 244.5 L171.6 242.3 L172.0 236.9 L172.4 229.8 L172.8 223.5 L173.2 217.3 L173.6 211.2 L174.0 205.3 L174.4 199.9 L174.8 194.7 L175.2 189.6 L175.6 185.2 L176.0 181.9 L176.4 179.6 L176.8 177.5 L177.2 175.7 L177.6 174.2 L178.0 172.8 L178.4 171.5 L178.8 170.4 L179.2 169.4 L179.6 168.5 L180.0 167.6 L180.4 166.8 L180.8 166.0 L181.2 165.3 L181.6 164.6 L182.0 163.9 L182.4 163.3 L182.8 162.7 L183.2 162.1 L183.6 161.6 L184.0 161.0 L184.4 160.4 L184.8 159.9 L185.2 159.4 L185.6 158.8 L186.0 158.3 L186.4 157.8 L186.8 157.4 L187.2 156.9 L187.6 156.4 L188.0 156.0 L188.4 155.6 L188.8 155.2 L189.2 154.8 L189.6 154.4 L190.0 154.0 L190.4 153.6 L190.8 153.3 L191.2 152.9 L191.6 152.5 L192.0 152.1 L192.4 151.8 L192.8 151.4 L193.2 151.1 L193.6 150.7 L194.0 150.4 L194.4 150.1 L194.8 149.8 L195.2 149.5 L195.6 149.2 L196.0 149.0 L196.4 148.7 L196.8 148.5 L197.2 148.3 L197.6 148.1 L198.0 148.0 L198.4 147.9 L198.8 147.7 L199.2 147.6 L199.6 147.5 L200.0 147.4 L200.4 147.3 L200.8 147.1 L201.2 147.0 L201.6 146.9 L202.0 146.8 L202.4 146.7 L202.8 146.6 L203.2 146.5 L203.6 146.5 L204.0 146.4 L204.4 146.3 L204.8 146.2 L205.2 146.2 L205.6 146.1 L206.0 146.1 L206.4 146.1 L206.8 146.0 L207.2 146.0 L207.6 146.0 L208.0 146.0 L208.4 146.0 L208.8 146.0 L209.2 146.1 L209.6 146.1 L210.0 146.2 L210.4 146.2 L210.8 146.3 L211.2 146.4 L211.6 146.5 L212.0 146.6 L212.4 146.7 L212.8 146.9 L213.2 147.0 L213.6 147.1 L214.0 147.3 L214.4 147.4 L214.8 147.6 L215.2 147.8 L215.6 147.9 L216.0 148.1 L216.4 148.3 L216.8 148.5 L217.2 148.7 L217.6 148.9 L218.0 149.1 L218.4 149.3 L218.8 149.6 L219.2 149.9 L219.6 150.3 L220.0 150.7 L220.4 151.1 L220.8 151.5 L221.2 152.0 L221.6 152.5 L222.0 152.9 L222.4 153.4 L222.8 153.9 L223.2 154.3 L223.6 154.7 L224.0 155.1 L224.4 155.5 L224.8 155.8 L225.2 156.2 L225.6 156.5 L226.0 156.8 L226.4 157.2 L226.8 157.5 L227.2 157.9 L227.6 158.2 L228.0 158.6 L228.4 158.9 L228.8 159.3 L229.2 159.7 L229.6 160.1 L230.0 160.5 L230.4 161.0 L230.8 161.5 L231.2 161.9 L231.6 162.4 L232.0 162.9 L232.4 163.3 L232.8 163.8 L233.2 164.2 L233.6 164.6 L234.0 165.0 L234.4 165.3 L234.8 165.6 L235.2 165.9 L235.6 166.2 L236.0 166.5 L236.4 166.8 L236.8 167.1 L237.2 167.3 L237.6 167.6 L238.0 167.8 L238.4 168.1 L238.8 168.3 L239.2 168.5 L239.6 168.8 L240.0 169.0 L240.4 169.2 L240.8 169.4 L241.2 169.6 L241.6 169.8 L242.0 170.0 L242.4 170.2 L242.8 170.4 L243.2 170.5 L243.6 170.7 L244.0 170.9 L244.4 171.0 L244.8 171.2 L245.2 171.4 L245.6 171.5 L246.0 171.7 L246.4 171.8 L246.8 172.0 L247.2 172.1 L247.6 172.3 L248.0 172.4 L248.4 172.6 L248.8 172.7 L249.2 172.9 L249.6 173.0 L250.0 173.2 L250.4 173.3 L250.8 173.5 L251.2 173.6 L251.6 173.8 L252.0 173.9 L252.4 174.1 L252.8 174.2 L253.2 174.4 L253.6 174.5 L254.0 174.6 L254.4 174.8 L254.8 174.9 L255.2 175.0 L255.6 175.2 L256.0 175.3 L256.4 175.4 L256.8 175.6 L257.2 175.7 L257.6 175.8 L258.0 176.0 L258.4 176.1 L258.8 176.2 L259.2 176.3 L259.6 176.4 L260.0 176.6 L260.4 176.7 L260.8 176.8 L261.2 176.9 L261.6 177.0 L262.0 177.1 L262.4 177.2 L262.8 177.3 L263.2 177.5 L263.6 177.6 L264.0 177.7 L264.4 177.8 L264.8 177.9 L265.2 178.0 L265.6 178.1 L266.0 178.2 L266.4 178.3 L266.8 178.4 L267.2 178.5 L267.6 178.5 L268.0 178.6 L268.4 178.7 L268.8 178.8 L269.2 178.9 L269.6 179.0 L270.0 179.0 L270.4 179.1 L270.8 179.2 L271.2 179.3 L271.6 179.3 L272.0 179.4 L272.4 179.5 L272.8 179.5 L273.2 179.6 L273.6 179.7 L274.0 179.7 L274.4 179.8 L274.8 179.9 L275.2 179.9 L275.6 180.0 L276.0 180.0 L276.4 180.1 L276.8 180.2 L277.2 180.2 L277.6 180.3 L278.0 180.3 L278.4 180.4 L278.8 180.4 L279.2 180.4 L279.6 180.5 L280.0 180.5 L280.4 180.6 L280.8 180.6 L281.2 180.6 L281.6 180.7 L282.0 180.7 L282.4 180.7 L282.8 180.8 L283.2 180.8 L283.6 180.8 L284.0 180.9 L284.4 180.9 L284.8 180.9 L285.2 180.9 L285.6 181.0 L286.0 181.0 L286.4 181.0 L286.8 181.1 L287.2 181.1 L287.6 181.1 L288.0 181.2 L288.4 181.2 L288.8 181.2 L289.2 181.3 L289.6 181.3 L290.0 181.4 L290.4 181.4 L290.8 181.4 L291.2 181.5 L291.6 181.5 L292.0 181.6 L292.3 181.6" fill="none" stroke="#e40000" stroke-width="1.25" stroke-linejoin="round"/>
<path d="M46.30 186.70L48.80 182.30L51.30 186.70Z" fill="#e40000"/>
<path d="M47.74 186.41L50.24 182.01L52.74 186.41Z" fill="#e40000"/>
<path d="M53.85 184.92L56.35 180.52L58.85 184.92Z" fill="#e40000"/>
<path d="M59.97 183.12L62.47 178.72L64.97 183.12Z" fill="#e40000"/>
<path d="M66.08 180.97L68.58 176.57L71.08 180.97Z" fill="#e40000"/>
<path d="M72.20 178.38L74.70 173.98L77.20 178.38Z" fill="#e40000"/>
<path d="M78.31 176.03L80.81 171.63L83.31 176.03Z" fill="#e40000"/>
<path d="M84.43 173.42L86.93 169.02L89.43 173.42Z" fill="#e40000"/>
<path d="M90.54 171.06L93.04 166.66L95.54 171.06Z" fill="#e40000"/>
<path d="M96.66 167.46L99.16 163.06L101.66 167.46Z" fill="#e40000"/>
<path d="M102.77 163.72L105.27 159.32L107.77 163.72Z" fill="#e40000"/>
<path d="M106.03 161.49L108.53 157.09L111.03 161.49Z" fill="#e40000"/>
<path d="M109.30 158.30L111.80 153.90L114.30 158.30Z" fill="#e40000"/>
<path d="M112.56 154.01L115.06 149.61L117.56 154.01Z" fill="#e40000"/>
<path d="M115.82 150.96L118.32 146.56L120.82 150.96Z" fill="#e40000"/>
<path d="M119.08 148.79L121.58 144.39L124.08 148.79Z" fill="#e40000"/>
<path d="M121.12 148.02L123.62 143.62L126.12 148.02Z" fill="#e40000"/>
<path d="M123.16 147.48L125.66 143.08L128.16 147.48Z" fill="#e40000"/>
<path d="M125.20 147.21L127.70 142.81L130.20 147.21Z" fill="#e40000"/>
<path d="M127.23 147.28L129.73 142.88L132.23 147.28Z" fill="#e40000"/>
<path d="M129.27 147.51L131.77 143.11L134.27 147.51Z" fill="#e40000"/>
<path d="M131.31 147.88L133.81 143.48L136.31 147.88Z" fill="#e40000"/>
<path d="M133.35 148.64L135.85 144.24L138.35 148.64Z" fill="#e40000"/>
<path d="M135.39 149.64L137.89 145.24L140.39 149.64Z" fill="#e40000"/>
<path d="M137.43 150.89L139.93 146.49L142.43 150.89Z" fill="#e40000"/>
<path d="M139.46 152.41L141.96 148.01L144.46 152.41Z" fill="#e40000"/>
<path d="M141.50 153.95L144.00 149.55L146.50 153.95Z" fill="#e40000"/>
<path d="M143.54 155.54L146.04 151.14L148.54 155.54Z" fill="#e40000"/>
<path d="M145.58 157.27L148.08 152.87L150.58 157.27Z" fill="#e40000"/>
<path d="M147.62 159.21L150.12 154.81L152.62 159.21Z" fill="#e40000"/>
<path d="M149.66 161.37L152.16 156.97L154.66 161.37Z" fill="#e40000"/>
<path d="M151.69 163.71L154.19 159.31L156.69 163.71Z" fill="#e40000"/>
<path d="M153.73 166.57L156.23 162.17L158.73 166.57Z" fill="#e40000"/>
<path d="M155.77 170.50L158.27 166.10L160.77 170.50Z" fill="#e40000"/>
<path d="M157.81 176.04L160.31 171.64L162.81 176.04Z" fill="#e40000"/>
<path d="M159.85 181.92L162.35 177.52L164.85 181.92Z" fill="#e40000"/>
<path d="M161.88 192.25L164.38 187.85L166.88 192.25Z" fill="#e40000"/>
<path d="M163.92 222.86L166.42 218.46L168.92 222.86Z" fill="#e40000"/>
<path d="M165.96 249.50L168.46 245.10L170.96 249.50Z" fill="#e40000"/>
<path d="M168.00 249.54L170.50 245.14L173.00 249.54Z" fill="#e40000"/>
<path d="M170.04 229.65L172.54 225.25L175.04 229.65Z" fill="#e40000"/>
<path d="M172.08 199.82L174.58 195.42L177.08 199.82Z" fill="#e40000"/>
<path d="M174.12 180.64L176.62 176.24L179.12 180.64Z" fill="#e40000"/>
<path d="M176.15 173.01L178.65 168.61L181.15 173.01Z" fill="#e40000"/>
<path d="M178.19 168.39L180.69 163.99L183.19 168.39Z" fill="#e40000"/>
<path d="M180.23 165.02L182.73 160.62L185.23 165.02Z" fill="#e40000"/>
<path d="M182.27 162.14L184.77 157.74L187.27 162.14Z" fill="#e40000"/>
<path d="M184.31 159.55L186.81 155.15L189.31 159.55Z" fill="#e40000"/>
<path d="M186.35 157.32L188.85 152.92L191.35 157.32Z" fill="#e40000"/>
<path d="M188.38 155.38L190.88 150.98L193.38 155.38Z" fill="#e40000"/>
<path d="M190.42 153.52L192.92 149.12L195.42 153.52Z" fill="#e40000"/>
<path d="M192.46 151.86L194.96 147.46L197.46 151.86Z" fill="#e40000"/>
<path d="M194.50 150.61L197.00 146.21L199.50 150.61Z" fill="#e40000"/>
<path d="M196.54 149.87L199.04 145.47L201.54 149.87Z" fill="#e40000"/>
<path d="M198.57 149.27L201.07 144.87L203.57 149.27Z" fill="#e40000"/>
<path d="M200.61 148.76L203.11 144.36L205.61 148.76Z" fill="#e40000"/>
<path d="M202.65 148.40L205.15 144.00L207.65 148.40Z" fill="#e40000"/>
<path d="M204.69 148.21L207.19 143.81L209.69 148.21Z" fill="#e40000"/>
<path d="M206.73 148.27L209.23 143.87L211.73 148.27Z" fill="#e40000"/>
<path d="M208.77 148.63L211.27 144.23L213.77 148.63Z" fill="#e40000"/>
<path d="M210.81 149.23L213.31 144.83L215.81 149.23Z" fill="#e40000"/>
<path d="M212.84 150.03L215.34 145.63L217.84 150.03Z" fill="#e40000"/>
<path d="M214.88 150.95L217.38 146.55L219.88 150.95Z" fill="#e40000"/>
<path d="M216.92 152.30L219.42 147.90L221.92 152.30Z" fill="#e40000"/>
<path d="M220.18 155.93L222.68 151.53L225.18 155.93Z" fill="#e40000"/>
<path d="M223.44 159.00L225.94 154.60L228.44 159.00Z" fill="#e40000"/>
<path d="M226.70 161.90L229.20 157.50L231.70 161.90Z" fill="#e40000"/>
<path d="M229.97 165.59L232.47 161.19L234.97 165.59Z" fill="#e40000"/>
<path d="M233.23 168.54L235.73 164.14L238.23 168.54Z" fill="#e40000"/>
<path d="M239.34 172.11L241.84 167.71L244.34 172.11Z" fill="#e40000"/>
<path d="M245.46 174.63L247.96 170.23L250.46 174.63Z" fill="#e40000"/>
<path d="M251.57 176.86L254.07 172.46L256.57 176.86Z" fill="#e40000"/>
<path d="M257.69 178.81L260.19 174.41L262.69 178.81Z" fill="#e40000"/>
<path d="M263.80 180.45L266.30 176.05L268.80 180.45Z" fill="#e40000"/>
<path d="M269.92 181.68L272.42 177.28L274.92 181.68Z" fill="#e40000"/>
<path d="M276.03 182.57L278.53 178.17L281.03 182.57Z" fill="#e40000"/>
<path d="M282.15 183.10L284.65 178.70L287.15 183.10Z" fill="#e40000"/>
<path d="M288.26 183.64L290.76 179.24L293.26 183.64Z" fill="#e40000"/>
<path d="M289.80 183.80L292.30 179.40L294.80 183.80Z" fill="#e40000"/>
<text x="63.5" y="29.8" class="pl">(a)</text>
<path d="M218.2 20.40H242.9" stroke="#000" stroke-width="1.6"/>
<circle cx="230.55" cy="20.40" r="2.12" fill="#000"/>
<text x="244.7" y="24.10" class="lg" fill="#000" textLength="44.1" lengthAdjust="spacingAndGlyphs">30 wt % IL</text>
<path d="M218.2 30.90H242.9" stroke="#0000e0" stroke-width="1.6"/>
<rect x="228.59" y="28.95" width="3.91" height="3.91" fill="#0000e0"/>
<text x="244.7" y="34.60" class="lg" fill="#0000e0" textLength="44.1" lengthAdjust="spacingAndGlyphs">20 wt % IL</text>
<path d="M218.2 41.40H242.9" stroke="#e40000" stroke-width="1.6"/>
<path d="M228.43 43.27L230.55 39.53L232.68 43.27Z" fill="#e40000"/>
<text x="244.7" y="45.10" class="lg" fill="#e40000" textLength="38.5" lengthAdjust="spacingAndGlyphs">5 wt % IL</text>
<text x="233.5" y="72" class="fq">f=35 kHz</text>
<text x="132.64" y="284.00" class="axx">H</text>
<text x="144.04" y="292.30" class="subx">dc</text>
<text x="160.18" y="284.20" class="axx">(Oe)</text>
<text transform="translate(12.40,158.50) rotate(-90)" class="ax">(mV/cm.Oe)</text>
<text transform="translate(13.30,182.30) rotate(-90)" class="alpha">α</text>
<text transform="translate(20.40,172.40) rotate(-90)" class="sub">MI</text>
<rect x="367.40" y="7.00" width="243.60" height="243.80" fill="none" stroke="#474747" stroke-width="1.45" stroke-linejoin="round"/>
<text x="360.10" y="253.40" text-anchor="end" class="t">0</text>
<path d="M367.40 215.97h4.0M611.00 215.97h-4.0" stroke="#3a3a3a" stroke-width="1"/>
<text x="360.10" y="218.57" text-anchor="end" class="t">20</text>
<path d="M367.40 181.14h4.0M611.00 181.14h-4.0" stroke="#3a3a3a" stroke-width="1"/>
<text x="360.10" y="183.74" text-anchor="end" class="t">40</text>
<path d="M367.40 146.31h4.0M611.00 146.31h-4.0" stroke="#3a3a3a" stroke-width="1"/>
<text x="360.10" y="148.91" text-anchor="end" class="t">60</text>
<path d="M367.40 111.49h4.0M611.00 111.49h-4.0" stroke="#3a3a3a" stroke-width="1"/>
<text x="360.10" y="114.09" text-anchor="end" class="t">80</text>
<path d="M367.40 76.66h4.0M611.00 76.66h-4.0" stroke="#3a3a3a" stroke-width="1"/>
<text x="360.10" y="79.26" text-anchor="end" class="t">100</text>
<path d="M367.40 41.83h4.0M611.00 41.83h-4.0" stroke="#3a3a3a" stroke-width="1"/>
<text x="360.10" y="44.43" text-anchor="end" class="t">120</text>
<text x="360.10" y="9.60" text-anchor="end" class="t">140</text>
<text x="367.10" y="265.30" text-anchor="middle" class="t">-30</text>
<path d="M408.00 250.80v-4.0" stroke="#3a3a3a" stroke-width="1"/>
<text x="407.70" y="265.30" text-anchor="middle" class="t">-20</text>
<path d="M448.60 250.80v-4.0" stroke="#3a3a3a" stroke-width="1"/>
<text x="448.30" y="265.30" text-anchor="middle" class="t">-10</text>
<path d="M489.20 250.80v-4.0" stroke="#3a3a3a" stroke-width="1"/>
<text x="488.90" y="265.30" text-anchor="middle" class="t">0</text>
<path d="M529.80 250.80v-4.0" stroke="#3a3a3a" stroke-width="1"/>
<text x="529.50" y="265.30" text-anchor="middle" class="t">10</text>
<path d="M570.40 250.80v-4.0" stroke="#3a3a3a" stroke-width="1"/>
<text x="570.10" y="265.30" text-anchor="middle" class="t">20</text>
<text x="610.70" y="265.30" text-anchor="middle" class="t">30</text>
<path d="M367.6 111.4 L368.0 111.3 L368.4 111.2 L368.8 111.1 L369.2 111.1 L369.6 111.0 L370.0 110.9 L370.4 110.7 L370.8 110.6 L371.2 110.5 L371.6 110.4 L372.0 110.2 L372.4 110.1 L372.8 109.9 L373.2 109.8 L373.6 109.6 L374.0 109.4 L374.4 109.3 L374.8 109.1 L375.2 108.9 L375.6 108.7 L376.0 108.6 L376.4 108.4 L376.8 108.2 L377.2 108.1 L377.6 107.9 L378.0 107.8 L378.4 107.6 L378.8 107.5 L379.2 107.3 L379.6 107.2 L380.0 107.0 L380.4 106.9 L380.8 106.8 L381.2 106.6 L381.6 106.5 L382.0 106.4 L382.4 106.3 L382.8 106.1 L383.2 106.0 L383.6 105.9 L384.0 105.9 L384.4 105.8 L384.8 105.7 L385.2 105.6 L385.6 105.5 L386.0 105.4 L386.4 105.3 L386.8 105.2 L387.2 105.1 L387.6 105.1 L388.0 104.9 L388.4 104.8 L388.8 104.7 L389.2 104.6 L389.6 104.5 L390.0 104.3 L390.4 104.2 L390.8 104.1 L391.2 104.0 L391.6 103.9 L392.0 103.7 L392.4 103.6 L392.8 103.5 L393.2 103.4 L393.6 103.3 L394.0 103.3 L394.4 103.2 L394.8 103.1 L395.2 103.0 L395.6 103.0 L396.0 102.9 L396.4 102.8 L396.8 102.7 L397.2 102.7 L397.6 102.6 L398.0 102.5 L398.4 102.4 L398.8 102.3 L399.2 102.2 L399.6 102.1 L400.0 102.0 L400.4 101.9 L400.8 101.8 L401.2 101.7 L401.6 101.5 L402.0 101.4 L402.4 101.3 L402.8 101.1 L403.2 101.0 L403.6 100.8 L404.0 100.7 L404.4 100.6 L404.8 100.4 L405.2 100.3 L405.6 100.2 L406.0 100.1 L406.4 99.9 L406.8 99.8 L407.2 99.7 L407.6 99.6 L408.0 99.4 L408.4 99.3 L408.8 99.2 L409.2 99.0 L409.6 98.9 L410.0 98.8 L410.4 98.6 L410.8 98.4 L411.2 98.3 L411.6 98.1 L412.0 97.9 L412.4 97.6 L412.8 97.4 L413.2 97.2 L413.6 96.9 L414.0 96.6 L414.4 96.4 L414.8 96.1 L415.2 95.8 L415.6 95.5 L416.0 95.2 L416.4 94.9 L416.8 94.6 L417.2 94.3 L417.6 94.0 L418.0 93.7 L418.4 93.4 L418.8 93.0 L419.2 92.7 L419.6 92.3 L420.0 92.0 L420.4 91.6 L420.8 91.2 L421.2 90.9 L421.6 90.5 L422.0 90.1 L422.4 89.7 L422.8 89.3 L423.2 88.9 L423.6 88.4 L424.0 88.0 L424.4 87.6 L424.8 87.1 L425.2 86.7 L425.6 86.2 L426.0 85.7 L426.4 85.3 L426.8 84.8 L427.2 84.3 L427.6 83.8 L428.0 83.3 L428.4 82.8 L428.8 82.3 L429.2 81.9 L429.6 81.4 L430.0 80.9 L430.4 80.4 L430.8 79.9 L431.2 79.4 L431.6 78.8 L432.0 78.3 L432.4 77.7 L432.8 77.0 L433.2 76.3 L433.6 75.6 L434.0 74.8 L434.4 74.0 L434.8 73.1 L435.2 72.3 L435.6 71.4 L436.0 70.6 L436.4 69.7 L436.8 68.9 L437.2 68.0 L437.6 67.2 L438.0 66.3 L438.4 65.4 L438.8 64.5 L439.2 63.6 L439.6 62.6 L440.0 61.6 L440.4 60.4 L440.8 59.3 L441.2 58.1 L441.6 56.9 L442.0 55.6 L442.4 54.4 L442.8 53.2 L443.2 52.0 L443.6 50.8 L444.0 49.5 L444.4 48.3 L444.8 47.2 L445.2 46.1 L445.6 45.1 L446.0 44.1 L446.4 43.2 L446.8 42.2 L447.2 41.3 L447.6 40.2 L448.0 39.1 L448.4 38.0 L448.8 36.9 L449.2 35.8 L449.6 34.8 L450.0 33.8 L450.4 32.7 L450.8 31.8 L451.2 30.9 L451.6 30.3 L452.0 29.9 L452.4 29.7 L452.8 29.5 L453.2 29.3 L453.6 29.1 L454.0 29.0 L454.4 29.0 L454.8 29.0 L455.2 29.3 L455.6 29.6 L456.0 30.0 L456.4 30.6 L456.8 31.2 L457.2 31.8 L457.6 32.5 L458.0 33.2 L458.4 34.0 L458.8 35.0 L459.2 36.1 L459.6 37.3 L460.0 38.5 L460.4 39.6 L460.8 40.7 L461.2 41.7 L461.6 42.6 L462.0 43.4 L462.4 44.2 L462.8 45.1 L463.2 46.1 L463.6 47.2 L464.0 48.7 L464.4 51.0 L464.8 53.5 L465.2 55.9 L465.6 58.0 L466.0 60.0 L466.4 62.0 L466.8 63.9 L467.2 65.7 L467.6 67.4 L468.0 69.1 L468.4 70.9 L468.8 72.9 L469.2 75.3 L469.6 77.9 L470.0 80.7 L470.4 83.4 L470.8 85.9 L471.2 88.0 L471.6 89.9 L472.0 91.7 L472.4 93.5 L472.8 95.6 L473.2 97.9 L473.6 100.8 L474.0 104.1 L474.4 107.7 L474.8 111.2 L475.2 114.5 L475.6 117.8 L476.0 121.0 L476.4 124.2 L476.8 127.5 L477.2 130.9 L477.6 134.1 L478.0 137.4 L478.4 140.8 L478.8 144.4 L479.2 148.3 L479.6 152.7 L480.0 157.5 L480.4 162.7 L480.8 168.2 L481.2 173.9 L481.6 180.4 L482.0 187.7 L482.4 195.0 L482.8 201.4 L483.2 206.2 L483.6 210.2 L484.0 213.7 L484.4 216.9 L484.8 220.2 L485.2 223.8 L485.6 227.7 L486.0 231.6 L486.4 235.4 L486.8 238.6 L487.2 241.3 L487.6 244.0 L488.0 246.6 L488.4 248.6 L488.8 249.8 L489.2 250.0 L489.6 249.7 L490.0 249.2 L490.4 248.5 L490.8 247.5 L491.2 245.7 L491.6 239.4 L492.0 229.7 L492.4 218.7 L492.8 208.2 L493.2 199.7 L493.6 191.6 L494.0 183.6 L494.4 176.0 L494.8 169.0 L495.2 163.0 L495.6 157.5 L496.0 152.5 L496.4 147.7 L496.8 143.2 L497.2 138.6 L497.6 134.2 L498.0 129.9 L498.4 125.8 L498.8 121.9 L499.2 118.1 L499.6 114.5 L500.0 111.0 L500.4 107.7 L500.8 104.5 L501.2 101.5 L501.6 98.6 L502.0 95.9 L502.4 93.3 L502.8 91.0 L503.2 88.9 L503.6 87.1 L504.0 85.4 L504.4 83.8 L504.8 82.3 L505.2 80.6 L505.6 78.9 L506.0 77.0 L506.4 74.9 L506.8 72.8 L507.2 70.8 L507.6 68.9 L508.0 67.2 L508.4 65.5 L508.8 63.9 L509.2 62.4 L509.6 60.9 L510.0 59.4 L510.4 58.0 L510.8 56.6 L511.2 55.2 L511.6 53.9 L512.0 52.7 L512.4 51.5 L512.8 50.3 L513.2 49.2 L513.6 48.1 L514.0 46.9 L514.4 45.7 L514.8 44.5 L515.2 43.3 L515.6 42.1 L516.0 41.0 L516.4 39.9 L516.8 38.9 L517.2 37.8 L517.6 36.8 L518.0 35.8 L518.4 35.0 L518.8 34.3 L519.2 33.7 L519.6 33.2 L520.0 32.7 L520.4 32.2 L520.8 31.7 L521.2 31.3 L521.6 30.9 L522.0 30.7 L522.4 30.5 L522.8 30.4 L523.2 30.4 L523.6 30.5 L524.0 30.7 L524.4 30.9 L524.8 31.1 L525.2 31.4 L525.6 31.7 L526.0 32.1 L526.4 32.5 L526.8 32.9 L527.2 33.4 L527.6 34.1 L528.0 35.0 L528.4 36.0 L528.8 37.0 L529.2 38.1 L529.6 39.2 L530.0 40.2 L530.4 41.2 L530.8 42.3 L531.2 43.3 L531.6 44.3 L532.0 45.4 L532.4 46.5 L532.8 47.6 L533.2 48.8 L533.6 49.9 L534.0 51.2 L534.4 52.4 L534.8 53.7 L535.2 54.9 L535.6 56.2 L536.0 57.5 L536.4 58.9 L536.8 60.3 L537.2 61.6 L537.6 63.0 L538.0 64.2 L538.4 65.4 L538.8 66.6 L539.2 67.7 L539.6 68.8 L540.0 70.0 L540.4 71.0 L540.8 72.1 L541.2 73.1 L541.6 74.2 L542.0 75.2 L542.4 76.2 L542.8 77.2 L543.2 78.2 L543.6 79.2 L544.0 80.1 L544.4 80.9 L544.8 81.7 L545.2 82.4 L545.6 83.1 L546.0 83.8 L546.4 84.5 L546.8 85.1 L547.2 85.7 L547.6 86.2 L548.0 86.8 L548.4 87.3 L548.8 87.8 L549.2 88.3 L549.6 88.7 L550.0 89.2 L550.4 89.6 L550.8 90.0 L551.2 90.5 L551.6 90.9 L552.0 91.2 L552.4 91.6 L552.8 92.0 L553.2 92.3 L553.6 92.7 L554.0 93.0 L554.4 93.3 L554.8 93.6 L555.2 93.9 L555.6 94.2 L556.0 94.5 L556.4 94.7 L556.8 95.0 L557.2 95.3 L557.6 95.5 L558.0 95.8 L558.4 96.0 L558.8 96.3 L559.2 96.5 L559.6 96.7 L560.0 97.0 L560.4 97.2 L560.8 97.4 L561.2 97.6 L561.6 97.9 L562.0 98.1 L562.4 98.3 L562.8 98.5 L563.2 98.7 L563.6 98.9 L564.0 99.1 L564.4 99.3 L564.8 99.5 L565.2 99.7 L565.6 99.9 L566.0 100.1 L566.4 100.3 L566.8 100.4 L567.2 100.6 L567.6 100.8 L568.0 100.9 L568.4 101.1 L568.8 101.2 L569.2 101.4 L569.6 101.5 L570.0 101.7 L570.4 101.8 L570.8 101.9 L571.2 102.1 L571.6 102.2 L572.0 102.3 L572.4 102.4 L572.8 102.6 L573.2 102.7 L573.6 102.8 L574.0 102.9 L574.4 103.0 L574.8 103.2 L575.2 103.3 L575.6 103.4 L576.0 103.5 L576.4 103.7 L576.8 103.8 L577.2 103.9 L577.6 104.0 L578.0 104.1 L578.4 104.3 L578.8 104.4 L579.2 104.5 L579.6 104.6 L580.0 104.7 L580.4 104.9 L580.8 105.0 L581.2 105.1 L581.6 105.2 L582.0 105.3 L582.4 105.4 L582.8 105.5 L583.2 105.6 L583.6 105.7 L584.0 105.8 L584.4 105.9 L584.8 106.0 L585.2 106.1 L585.6 106.2 L586.0 106.3 L586.4 106.3 L586.8 106.4 L587.2 106.5 L587.6 106.6 L588.0 106.7 L588.4 106.7 L588.8 106.8 L589.2 106.9 L589.6 107.0 L590.0 107.0 L590.4 107.1 L590.8 107.2 L591.2 107.3 L591.6 107.3 L592.0 107.4 L592.4 107.5 L592.8 107.6 L593.2 107.7 L593.6 107.8 L594.0 107.8 L594.4 107.9 L594.8 108.0 L595.2 108.1 L595.6 108.2 L596.0 108.3 L596.4 108.4 L596.8 108.6 L597.2 108.7 L597.6 108.8 L598.0 108.9 L598.4 109.0 L598.8 109.1 L599.2 109.2 L599.6 109.3 L600.0 109.4 L600.4 109.5 L600.8 109.6 L601.2 109.7 L601.6 109.8 L602.0 109.8 L602.4 109.9 L602.8 110.0 L603.2 110.1 L603.6 110.1 L604.0 110.2 L604.4 110.3 L604.8 110.3 L605.2 110.4 L605.6 110.5 L606.0 110.5 L606.4 110.6 L606.8 110.6 L607.2 110.7 L607.6 110.8 L608.0 110.8 L608.4 110.9 L608.8 110.9 L609.2 111.0 L609.6 111.1 L610.0 111.1 L610.4 111.2 L610.7 111.2" fill="none" stroke="#000" stroke-width="1.45" stroke-linejoin="round"/>
<circle cx="367.60" cy="111.40" r="2.50" fill="#000"/>
<circle cx="369.68" cy="110.94" r="2.50" fill="#000"/>
<circle cx="374.35" cy="109.28" r="2.50" fill="#000"/>
<circle cx="379.02" cy="107.40" r="2.50" fill="#000"/>
<circle cx="383.69" cy="105.92" r="2.50" fill="#000"/>
<circle cx="388.35" cy="104.85" r="2.50" fill="#000"/>
<circle cx="393.02" cy="103.47" r="2.50" fill="#000"/>
<circle cx="397.69" cy="102.58" r="2.50" fill="#000"/>
<circle cx="402.36" cy="101.28" r="2.50" fill="#000"/>
<circle cx="407.03" cy="99.74" r="2.50" fill="#000"/>
<circle cx="411.70" cy="98.01" r="2.50" fill="#000"/>
<circle cx="416.37" cy="94.95" r="2.50" fill="#000"/>
<circle cx="421.04" cy="91.02" r="2.50" fill="#000"/>
<circle cx="425.71" cy="86.08" r="2.50" fill="#000"/>
<circle cx="430.38" cy="80.44" r="2.50" fill="#000"/>
<circle cx="434.64" cy="73.46" r="2.50" fill="#000"/>
<circle cx="438.32" cy="65.63" r="2.50" fill="#000"/>
<circle cx="441.48" cy="57.22" r="2.50" fill="#000"/>
<circle cx="444.22" cy="48.87" r="2.50" fill="#000"/>
<circle cx="446.57" cy="42.80" r="2.50" fill="#000"/>
<circle cx="448.60" cy="37.42" r="2.50" fill="#000"/>
<circle cx="450.63" cy="32.16" r="2.50" fill="#000"/>
<circle cx="452.66" cy="29.55" r="2.50" fill="#000"/>
<circle cx="454.69" cy="29.02" r="2.50" fill="#000"/>
<circle cx="456.72" cy="31.06" r="2.50" fill="#000"/>
<circle cx="458.75" cy="34.85" r="2.50" fill="#000"/>
<circle cx="460.78" cy="40.69" r="2.50" fill="#000"/>
<circle cx="462.81" cy="45.08" r="2.50" fill="#000"/>
<circle cx="464.84" cy="53.77" r="2.50" fill="#000"/>
<circle cx="466.87" cy="64.23" r="2.50" fill="#000"/>
<circle cx="468.90" cy="73.45" r="2.50" fill="#000"/>
<circle cx="470.93" cy="86.62" r="2.50" fill="#000"/>
<circle cx="472.96" cy="96.46" r="2.50" fill="#000"/>
<circle cx="474.99" cy="112.82" r="2.50" fill="#000"/>
<circle cx="477.02" cy="129.37" r="2.50" fill="#000"/>
<circle cx="479.05" cy="146.77" r="2.50" fill="#000"/>
<circle cx="481.08" cy="172.16" r="2.50" fill="#000"/>
<circle cx="483.11" cy="205.26" r="2.50" fill="#000"/>
<circle cx="485.14" cy="223.28" r="2.50" fill="#000"/>
<circle cx="487.17" cy="241.12" r="2.50" fill="#000"/>
<circle cx="489.20" cy="249.97" r="2.50" fill="#000"/>
<circle cx="491.23" cy="245.38" r="2.50" fill="#000"/>
<circle cx="493.26" cy="198.52" r="2.50" fill="#000"/>
<circle cx="495.29" cy="161.69" r="2.50" fill="#000"/>
<circle cx="497.32" cy="137.30" r="2.50" fill="#000"/>
<circle cx="499.35" cy="116.76" r="2.50" fill="#000"/>
<circle cx="501.38" cy="100.22" r="2.50" fill="#000"/>
<circle cx="503.41" cy="87.91" r="2.50" fill="#000"/>
<circle cx="505.44" cy="79.62" r="2.50" fill="#000"/>
<circle cx="507.47" cy="69.49" r="2.50" fill="#000"/>
<circle cx="509.50" cy="61.27" r="2.50" fill="#000"/>
<circle cx="511.53" cy="54.12" r="2.50" fill="#000"/>
<circle cx="513.56" cy="48.17" r="2.50" fill="#000"/>
<circle cx="515.59" cy="42.13" r="2.50" fill="#000"/>
<circle cx="517.62" cy="36.72" r="2.50" fill="#000"/>
<circle cx="519.65" cy="33.12" r="2.50" fill="#000"/>
<circle cx="521.68" cy="30.88" r="2.50" fill="#000"/>
<circle cx="523.71" cy="30.54" r="2.50" fill="#000"/>
<circle cx="525.74" cy="31.86" r="2.50" fill="#000"/>
<circle cx="527.77" cy="34.44" r="2.50" fill="#000"/>
<circle cx="529.80" cy="39.75" r="2.50" fill="#000"/>
<circle cx="531.83" cy="44.95" r="2.50" fill="#000"/>
<circle cx="534.18" cy="51.74" r="2.50" fill="#000"/>
<circle cx="536.92" cy="60.69" r="2.50" fill="#000"/>
<circle cx="540.08" cy="70.18" r="2.50" fill="#000"/>
<circle cx="543.76" cy="79.52" r="2.50" fill="#000"/>
<circle cx="548.02" cy="86.79" r="2.50" fill="#000"/>
<circle cx="552.69" cy="91.87" r="2.50" fill="#000"/>
<circle cx="557.36" cy="95.37" r="2.50" fill="#000"/>
<circle cx="562.03" cy="98.10" r="2.50" fill="#000"/>
<circle cx="566.70" cy="100.40" r="2.50" fill="#000"/>
<circle cx="571.37" cy="102.12" r="2.50" fill="#000"/>
<circle cx="576.04" cy="103.54" r="2.50" fill="#000"/>
<circle cx="580.71" cy="104.95" r="2.50" fill="#000"/>
<circle cx="585.38" cy="106.13" r="2.50" fill="#000"/>
<circle cx="590.05" cy="107.04" r="2.50" fill="#000"/>
<circle cx="594.71" cy="108.01" r="2.50" fill="#000"/>
<circle cx="599.38" cy="109.24" r="2.50" fill="#000"/>
<circle cx="604.05" cy="110.21" r="2.50" fill="#000"/>
<circle cx="608.72" cy="110.93" r="2.50" fill="#000"/>
<circle cx="610.70" cy="111.20" r="2.50" fill="#000"/>
<path d="M367.6 151.2 L368.0 151.1 L368.4 150.9 L368.8 150.8 L369.2 150.6 L369.6 150.5 L370.0 150.3 L370.4 150.2 L370.8 150.0 L371.2 149.9 L371.6 149.8 L372.0 149.6 L372.4 149.5 L372.8 149.4 L373.2 149.3 L373.6 149.1 L374.0 149.0 L374.4 148.9 L374.8 148.8 L375.2 148.6 L375.6 148.5 L376.0 148.4 L376.4 148.3 L376.8 148.2 L377.2 148.1 L377.6 148.0 L378.0 147.9 L378.4 147.8 L378.8 147.6 L379.2 147.5 L379.6 147.4 L380.0 147.3 L380.4 147.2 L380.8 147.1 L381.2 146.9 L381.6 146.8 L382.0 146.7 L382.4 146.6 L382.8 146.4 L383.2 146.3 L383.6 146.2 L384.0 146.1 L384.4 145.9 L384.8 145.8 L385.2 145.7 L385.6 145.5 L386.0 145.4 L386.4 145.3 L386.8 145.2 L387.2 145.1 L387.6 144.9 L388.0 144.8 L388.4 144.7 L388.8 144.6 L389.2 144.5 L389.6 144.4 L390.0 144.3 L390.4 144.2 L390.8 144.1 L391.2 144.0 L391.6 143.9 L392.0 143.9 L392.4 143.8 L392.8 143.7 L393.2 143.6 L393.6 143.6 L394.0 143.5 L394.4 143.4 L394.8 143.4 L395.2 143.3 L395.6 143.2 L396.0 143.1 L396.4 143.1 L396.8 143.0 L397.2 142.9 L397.6 142.8 L398.0 142.8 L398.4 142.7 L398.8 142.6 L399.2 142.5 L399.6 142.4 L400.0 142.3 L400.4 142.2 L400.8 142.1 L401.2 142.0 L401.6 141.9 L402.0 141.7 L402.4 141.6 L402.8 141.5 L403.2 141.3 L403.6 141.2 L404.0 141.1 L404.4 140.9 L404.8 140.8 L405.2 140.6 L405.6 140.5 L406.0 140.3 L406.4 140.2 L406.8 140.0 L407.2 139.8 L407.6 139.7 L408.0 139.5 L408.4 139.4 L408.8 139.2 L409.2 139.0 L409.6 138.9 L410.0 138.7 L410.4 138.5 L410.8 138.4 L411.2 138.2 L411.6 138.0 L412.0 137.9 L412.4 137.7 L412.8 137.5 L413.2 137.4 L413.6 137.2 L414.0 137.0 L414.4 136.8 L414.8 136.6 L415.2 136.5 L415.6 136.3 L416.0 136.1 L416.4 135.9 L416.8 135.7 L417.2 135.5 L417.6 135.3 L418.0 135.1 L418.4 134.9 L418.8 134.7 L419.2 134.4 L419.6 134.2 L420.0 134.0 L420.4 133.8 L420.8 133.5 L421.2 133.3 L421.6 133.1 L422.0 132.8 L422.4 132.5 L422.8 132.3 L423.2 132.0 L423.6 131.8 L424.0 131.5 L424.4 131.2 L424.8 130.9 L425.2 130.6 L425.6 130.3 L426.0 130.0 L426.4 129.8 L426.8 129.5 L427.2 129.2 L427.6 128.9 L428.0 128.5 L428.4 128.2 L428.8 127.9 L429.2 127.6 L429.6 127.3 L430.0 127.0 L430.4 126.7 L430.8 126.4 L431.2 126.1 L431.6 125.8 L432.0 125.5 L432.4 125.1 L432.8 124.8 L433.2 124.5 L433.6 124.2 L434.0 123.8 L434.4 123.5 L434.8 123.2 L435.2 122.8 L435.6 122.4 L436.0 122.1 L436.4 121.7 L436.8 121.3 L437.2 120.9 L437.6 120.4 L438.0 120.0 L438.4 119.5 L438.8 118.9 L439.2 118.3 L439.6 117.6 L440.0 116.9 L440.4 116.2 L440.8 115.4 L441.2 114.8 L441.6 114.1 L442.0 113.5 L442.4 113.0 L442.8 112.7 L443.2 112.4 L443.6 112.1 L444.0 111.8 L444.4 111.6 L444.8 111.3 L445.2 111.1 L445.6 110.9 L446.0 110.6 L446.4 110.4 L446.8 110.3 L447.2 110.1 L447.6 109.9 L448.0 109.8 L448.4 109.7 L448.8 109.6 L449.2 109.6 L449.6 109.5 L450.0 109.5 L450.4 109.5 L450.8 109.5 L451.2 109.5 L451.6 109.5 L452.0 109.5 L452.4 109.5 L452.8 109.5 L453.2 109.5 L453.6 109.5 L454.0 109.5 L454.4 109.5 L454.8 109.5 L455.2 109.5 L455.6 109.5 L456.0 109.6 L456.4 109.7 L456.8 109.8 L457.2 110.0 L457.6 110.2 L458.0 110.3 L458.4 110.6 L458.8 110.8 L459.2 111.0 L459.6 111.3 L460.0 111.6 L460.4 111.8 L460.8 112.1 L461.2 112.4 L461.6 112.7 L462.0 113.0 L462.4 113.3 L462.8 113.7 L463.2 114.0 L463.6 114.5 L464.0 114.9 L464.4 115.4 L464.8 115.9 L465.2 116.4 L465.6 117.0 L466.0 117.5 L466.4 118.1 L466.8 118.7 L467.2 119.3 L467.6 120.0 L468.0 120.7 L468.4 121.5 L468.8 122.3 L469.2 123.1 L469.6 123.9 L470.0 124.8 L470.4 125.7 L470.8 126.6 L471.2 127.4 L471.6 128.3 L472.0 129.1 L472.4 130.0 L472.8 130.9 L473.2 131.8 L473.6 132.9 L474.0 134.0 L474.4 135.3 L474.8 136.8 L475.2 138.5 L475.6 140.2 L476.0 142.0 L476.4 143.8 L476.8 145.7 L477.2 147.7 L477.6 150.0 L478.0 152.7 L478.4 155.8 L478.8 159.0 L479.2 161.9 L479.6 164.4 L480.0 166.6 L480.4 168.9 L480.8 171.4 L481.2 174.3 L481.6 178.1 L482.0 182.7 L482.4 187.7 L482.8 192.9 L483.2 198.4 L483.6 204.5 L484.0 210.4 L484.4 215.8 L484.8 220.5 L485.2 225.0 L485.6 229.1 L486.0 233.0 L486.4 236.9 L486.8 240.7 L487.2 244.0 L487.6 246.3 L488.0 247.8 L488.4 249.1 L488.8 249.9 L489.2 250.0 L489.6 249.9 L490.0 249.6 L490.4 249.1 L490.8 239.9 L491.2 226.2 L491.6 221.0 L492.0 215.8 L492.4 206.9 L492.8 197.2 L493.2 191.4 L493.6 187.3 L494.0 183.8 L494.4 180.9 L494.8 178.3 L495.2 175.7 L495.6 172.9 L496.0 170.1 L496.4 167.4 L496.8 164.7 L497.2 162.1 L497.6 159.3 L498.0 156.2 L498.4 153.1 L498.8 150.2 L499.2 147.9 L499.6 145.8 L500.0 144.0 L500.4 142.2 L500.8 140.6 L501.2 139.1 L501.6 137.7 L502.0 136.4 L502.4 135.2 L502.8 134.1 L503.2 132.9 L503.6 131.7 L504.0 130.3 L504.4 128.7 L504.8 127.3 L505.2 125.9 L505.6 124.7 L506.0 123.7 L506.4 122.7 L506.8 121.7 L507.2 120.9 L507.6 120.1 L508.0 119.3 L508.4 118.7 L508.8 118.1 L509.2 117.5 L509.6 117.0 L510.0 116.5 L510.4 116.0 L510.8 115.5 L511.2 115.1 L511.6 114.7 L512.0 114.3 L512.4 114.0 L512.8 113.7 L513.2 113.3 L513.6 113.0 L514.0 112.7 L514.4 112.4 L514.8 112.1 L515.2 111.9 L515.6 111.6 L516.0 111.4 L516.4 111.1 L516.8 110.9 L517.2 110.8 L517.6 110.6 L518.0 110.5 L518.4 110.4 L518.8 110.3 L519.2 110.2 L519.6 110.1 L520.0 110.0 L520.4 109.9 L520.8 109.8 L521.2 109.8 L521.6 109.7 L522.0 109.6 L522.4 109.6 L522.8 109.6 L523.2 109.5 L523.6 109.5 L524.0 109.5 L524.4 109.5 L524.8 109.5 L525.2 109.6 L525.6 109.6 L526.0 109.7 L526.4 109.8 L526.8 109.9 L527.2 110.0 L527.6 110.1 L528.0 110.3 L528.4 110.4 L528.8 110.5 L529.2 110.7 L529.6 110.8 L530.0 111.0 L530.4 111.2 L530.8 111.4 L531.2 111.7 L531.6 111.9 L532.0 112.3 L532.4 112.6 L532.8 113.0 L533.2 113.3 L533.6 113.7 L534.0 114.1 L534.4 114.5 L534.8 114.8 L535.2 115.2 L535.6 115.5 L536.0 115.9 L536.4 116.3 L536.8 116.7 L537.2 117.1 L537.6 117.5 L538.0 117.9 L538.4 118.3 L538.8 118.7 L539.2 119.1 L539.6 119.6 L540.0 120.0 L540.4 120.4 L540.8 120.9 L541.2 121.4 L541.6 121.9 L542.0 122.4 L542.4 122.9 L542.8 123.4 L543.2 123.9 L543.6 124.4 L544.0 124.9 L544.4 125.3 L544.8 125.8 L545.2 126.2 L545.6 126.6 L546.0 127.0 L546.4 127.4 L546.8 127.8 L547.2 128.2 L547.6 128.5 L548.0 128.9 L548.4 129.3 L548.8 129.8 L549.2 130.3 L549.6 130.8 L550.0 131.3 L550.4 131.6 L550.8 131.9 L551.2 132.2 L551.6 132.5 L552.0 132.7 L552.4 132.9 L552.8 133.2 L553.2 133.4 L553.6 133.6 L554.0 133.7 L554.4 133.9 L554.8 134.1 L555.2 134.3 L555.6 134.4 L556.0 134.6 L556.4 134.7 L556.8 134.9 L557.2 135.0 L557.6 135.2 L558.0 135.3 L558.4 135.4 L558.8 135.6 L559.2 135.7 L559.6 135.8 L560.0 136.0 L560.4 136.1 L560.8 136.2 L561.2 136.3 L561.6 136.4 L562.0 136.5 L562.4 136.6 L562.8 136.7 L563.2 136.9 L563.6 137.0 L564.0 137.1 L564.4 137.2 L564.8 137.3 L565.2 137.4 L565.6 137.5 L566.0 137.6 L566.4 137.7 L566.8 137.8 L567.2 138.0 L567.6 138.1 L568.0 138.2 L568.4 138.4 L568.8 138.5 L569.2 138.6 L569.6 138.8 L570.0 138.9 L570.4 139.1 L570.8 139.2 L571.2 139.4 L571.6 139.5 L572.0 139.7 L572.4 139.8 L572.8 140.0 L573.2 140.1 L573.6 140.2 L574.0 140.4 L574.4 140.5 L574.8 140.7 L575.2 140.8 L575.6 141.0 L576.0 141.1 L576.4 141.2 L576.8 141.4 L577.2 141.5 L577.6 141.6 L578.0 141.8 L578.4 141.9 L578.8 142.0 L579.2 142.1 L579.6 142.3 L580.0 142.4 L580.4 142.5 L580.8 142.7 L581.2 142.8 L581.6 142.9 L582.0 143.0 L582.4 143.2 L582.8 143.3 L583.2 143.4 L583.6 143.5 L584.0 143.6 L584.4 143.8 L584.8 143.9 L585.2 144.0 L585.6 144.1 L586.0 144.2 L586.4 144.3 L586.8 144.5 L587.2 144.6 L587.6 144.7 L588.0 144.8 L588.4 144.9 L588.8 145.0 L589.2 145.1 L589.6 145.2 L590.0 145.4 L590.4 145.5 L590.8 145.6 L591.2 145.7 L591.6 145.8 L592.0 145.9 L592.4 146.0 L592.8 146.1 L593.2 146.2 L593.6 146.3 L594.0 146.4 L594.4 146.5 L594.8 146.6 L595.2 146.7 L595.6 146.8 L596.0 146.9 L596.4 147.0 L596.8 147.1 L597.2 147.1 L597.6 147.2 L598.0 147.3 L598.4 147.4 L598.8 147.4 L599.2 147.5 L599.6 147.6 L600.0 147.6 L600.4 147.7 L600.8 147.8 L601.2 147.8 L601.6 147.9 L602.0 147.9 L602.4 148.0 L602.8 148.0 L603.2 148.1 L603.6 148.1 L604.0 148.2 L604.4 148.2 L604.8 148.3 L605.2 148.3 L605.6 148.4 L606.0 148.4 L606.4 148.5 L606.8 148.5 L607.2 148.6 L607.6 148.6 L608.0 148.7 L608.4 148.7 L608.8 148.8 L609.2 148.8 L609.6 148.9 L610.0 148.9 L610.4 149.0 L610.7 149.0" fill="none" stroke="#0000e0" stroke-width="1.25" stroke-linejoin="round"/>
<rect x="365.30" y="148.90" width="4.60" height="4.60" fill="#0000e0"/>
<rect x="365.71" y="148.75" width="4.60" height="4.60" fill="#0000e0"/>
<rect x="369.97" y="147.25" width="4.60" height="4.60" fill="#0000e0"/>
<rect x="374.23" y="145.96" width="4.60" height="4.60" fill="#0000e0"/>
<rect x="378.50" y="144.76" width="4.60" height="4.60" fill="#0000e0"/>
<rect x="382.76" y="143.42" width="4.60" height="4.60" fill="#0000e0"/>
<rect x="387.02" y="142.17" width="4.60" height="4.60" fill="#0000e0"/>
<rect x="391.29" y="141.27" width="4.60" height="4.60" fill="#0000e0"/>
<rect x="395.55" y="140.49" width="4.60" height="4.60" fill="#0000e0"/>
<rect x="399.81" y="139.39" width="4.60" height="4.60" fill="#0000e0"/>
<rect x="404.08" y="137.86" width="4.60" height="4.60" fill="#0000e0"/>
<rect x="408.34" y="136.14" width="4.60" height="4.60" fill="#0000e0"/>
<rect x="412.60" y="134.29" width="4.60" height="4.60" fill="#0000e0"/>
<rect x="416.86" y="132.16" width="4.60" height="4.60" fill="#0000e0"/>
<rect x="421.13" y="129.57" width="4.60" height="4.60" fill="#0000e0"/>
<rect x="423.97" y="127.55" width="4.60" height="4.60" fill="#0000e0"/>
<rect x="426.81" y="125.39" width="4.60" height="4.60" fill="#0000e0"/>
<rect x="429.65" y="123.19" width="4.60" height="4.60" fill="#0000e0"/>
<rect x="432.50" y="120.87" width="4.60" height="4.60" fill="#0000e0"/>
<rect x="435.34" y="118.10" width="4.60" height="4.60" fill="#0000e0"/>
<rect x="438.18" y="113.71" width="4.60" height="4.60" fill="#0000e0"/>
<rect x="440.21" y="110.63" width="4.60" height="4.60" fill="#0000e0"/>
<rect x="442.24" y="109.18" width="4.60" height="4.60" fill="#0000e0"/>
<rect x="444.27" y="108.07" width="4.60" height="4.60" fill="#0000e0"/>
<rect x="446.30" y="107.36" width="4.60" height="4.60" fill="#0000e0"/>
<rect x="448.33" y="107.20" width="4.60" height="4.60" fill="#0000e0"/>
<rect x="450.36" y="107.20" width="4.60" height="4.60" fill="#0000e0"/>
<rect x="452.39" y="107.20" width="4.60" height="4.60" fill="#0000e0"/>
<rect x="454.42" y="107.50" width="4.60" height="4.60" fill="#0000e0"/>
<rect x="456.45" y="108.46" width="4.60" height="4.60" fill="#0000e0"/>
<rect x="458.48" y="109.82" width="4.60" height="4.60" fill="#0000e0"/>
<rect x="460.51" y="111.37" width="4.60" height="4.60" fill="#0000e0"/>
<rect x="462.54" y="113.64" width="4.60" height="4.60" fill="#0000e0"/>
<rect x="464.57" y="116.50" width="4.60" height="4.60" fill="#0000e0"/>
<rect x="466.60" y="120.17" width="4.60" height="4.60" fill="#0000e0"/>
<rect x="468.63" y="124.55" width="4.60" height="4.60" fill="#0000e0"/>
<rect x="470.66" y="128.94" width="4.60" height="4.60" fill="#0000e0"/>
<rect x="472.69" y="135.29" width="4.60" height="4.60" fill="#0000e0"/>
<rect x="474.72" y="144.50" width="4.60" height="4.60" fill="#0000e0"/>
<rect x="476.75" y="158.55" width="4.60" height="4.60" fill="#0000e0"/>
<rect x="478.78" y="171.05" width="4.60" height="4.60" fill="#0000e0"/>
<rect x="480.81" y="194.84" width="4.60" height="4.60" fill="#0000e0"/>
<rect x="482.84" y="222.03" width="4.60" height="4.60" fill="#0000e0"/>
<rect x="484.87" y="241.52" width="4.60" height="4.60" fill="#0000e0"/>
<rect x="486.90" y="247.69" width="4.60" height="4.60" fill="#0000e0"/>
<rect x="488.93" y="223.36" width="4.60" height="4.60" fill="#0000e0"/>
<rect x="490.96" y="188.42" width="4.60" height="4.60" fill="#0000e0"/>
<rect x="492.99" y="172.77" width="4.60" height="4.60" fill="#0000e0"/>
<rect x="495.02" y="158.95" width="4.60" height="4.60" fill="#0000e0"/>
<rect x="497.05" y="144.81" width="4.60" height="4.60" fill="#0000e0"/>
<rect x="499.08" y="136.13" width="4.60" height="4.60" fill="#0000e0"/>
<rect x="501.11" y="129.99" width="4.60" height="4.60" fill="#0000e0"/>
<rect x="503.14" y="122.87" width="4.60" height="4.60" fill="#0000e0"/>
<rect x="505.17" y="118.01" width="4.60" height="4.60" fill="#0000e0"/>
<rect x="507.20" y="114.80" width="4.60" height="4.60" fill="#0000e0"/>
<rect x="509.23" y="112.49" width="4.60" height="4.60" fill="#0000e0"/>
<rect x="511.26" y="110.76" width="4.60" height="4.60" fill="#0000e0"/>
<rect x="513.29" y="109.32" width="4.60" height="4.60" fill="#0000e0"/>
<rect x="515.32" y="108.31" width="4.60" height="4.60" fill="#0000e0"/>
<rect x="517.35" y="107.78" width="4.60" height="4.60" fill="#0000e0"/>
<rect x="519.38" y="107.39" width="4.60" height="4.60" fill="#0000e0"/>
<rect x="521.41" y="107.20" width="4.60" height="4.60" fill="#0000e0"/>
<rect x="523.44" y="107.37" width="4.60" height="4.60" fill="#0000e0"/>
<rect x="525.47" y="107.89" width="4.60" height="4.60" fill="#0000e0"/>
<rect x="527.50" y="108.62" width="4.60" height="4.60" fill="#0000e0"/>
<rect x="529.53" y="109.82" width="4.60" height="4.60" fill="#0000e0"/>
<rect x="531.56" y="111.64" width="4.60" height="4.60" fill="#0000e0"/>
<rect x="533.59" y="113.51" width="4.60" height="4.60" fill="#0000e0"/>
<rect x="535.62" y="115.50" width="4.60" height="4.60" fill="#0000e0"/>
<rect x="538.46" y="118.57" width="4.60" height="4.60" fill="#0000e0"/>
<rect x="541.30" y="122.08" width="4.60" height="4.60" fill="#0000e0"/>
<rect x="544.15" y="125.14" width="4.60" height="4.60" fill="#0000e0"/>
<rect x="546.99" y="128.08" width="4.60" height="4.60" fill="#0000e0"/>
<rect x="549.83" y="130.48" width="4.60" height="4.60" fill="#0000e0"/>
<rect x="552.67" y="131.86" width="4.60" height="4.60" fill="#0000e0"/>
<rect x="556.94" y="133.43" width="4.60" height="4.60" fill="#0000e0"/>
<rect x="561.20" y="134.63" width="4.60" height="4.60" fill="#0000e0"/>
<rect x="565.46" y="135.85" width="4.60" height="4.60" fill="#0000e0"/>
<rect x="569.72" y="137.36" width="4.60" height="4.60" fill="#0000e0"/>
<rect x="573.99" y="138.90" width="4.60" height="4.60" fill="#0000e0"/>
<rect x="578.25" y="140.28" width="4.60" height="4.60" fill="#0000e0"/>
<rect x="582.51" y="141.59" width="4.60" height="4.60" fill="#0000e0"/>
<rect x="586.78" y="142.80" width="4.60" height="4.60" fill="#0000e0"/>
<rect x="591.04" y="143.96" width="4.60" height="4.60" fill="#0000e0"/>
<rect x="595.30" y="144.93" width="4.60" height="4.60" fill="#0000e0"/>
<rect x="599.57" y="145.60" width="4.60" height="4.60" fill="#0000e0"/>
<rect x="603.83" y="146.15" width="4.60" height="4.60" fill="#0000e0"/>
<rect x="608.09" y="146.67" width="4.60" height="4.60" fill="#0000e0"/>
<rect x="608.40" y="146.70" width="4.60" height="4.60" fill="#0000e0"/>
<path d="M367.6 162.5 L368.0 162.4 L368.4 162.3 L368.8 162.2 L369.2 162.1 L369.6 162.0 L370.0 161.9 L370.4 161.8 L370.8 161.8 L371.2 161.7 L371.6 161.6 L372.0 161.5 L372.4 161.4 L372.8 161.3 L373.2 161.2 L373.6 161.2 L374.0 161.1 L374.4 161.0 L374.8 160.9 L375.2 160.8 L375.6 160.8 L376.0 160.7 L376.4 160.6 L376.8 160.5 L377.2 160.5 L377.6 160.4 L378.0 160.3 L378.4 160.3 L378.8 160.2 L379.2 160.1 L379.6 160.1 L380.0 160.0 L380.4 159.9 L380.8 159.9 L381.2 159.8 L381.6 159.8 L382.0 159.7 L382.4 159.7 L382.8 159.6 L383.2 159.5 L383.6 159.5 L384.0 159.4 L384.4 159.4 L384.8 159.3 L385.2 159.3 L385.6 159.2 L386.0 159.2 L386.4 159.2 L386.8 159.1 L387.2 159.1 L387.6 159.0 L388.0 159.0 L388.4 158.9 L388.8 158.9 L389.2 158.8 L389.6 158.8 L390.0 158.7 L390.4 158.6 L390.8 158.6 L391.2 158.5 L391.6 158.5 L392.0 158.4 L392.4 158.4 L392.8 158.3 L393.2 158.3 L393.6 158.2 L394.0 158.2 L394.4 158.1 L394.8 158.1 L395.2 158.0 L395.6 158.0 L396.0 157.9 L396.4 157.8 L396.8 157.8 L397.2 157.7 L397.6 157.7 L398.0 157.6 L398.4 157.6 L398.8 157.5 L399.2 157.4 L399.6 157.4 L400.0 157.3 L400.4 157.2 L400.8 157.2 L401.2 157.1 L401.6 157.0 L402.0 157.0 L402.4 156.9 L402.8 156.8 L403.2 156.7 L403.6 156.7 L404.0 156.6 L404.4 156.5 L404.8 156.4 L405.2 156.4 L405.6 156.3 L406.0 156.2 L406.4 156.1 L406.8 156.0 L407.2 155.9 L407.6 155.9 L408.0 155.8 L408.4 155.7 L408.8 155.6 L409.2 155.5 L409.6 155.4 L410.0 155.3 L410.4 155.2 L410.8 155.1 L411.2 155.0 L411.6 154.9 L412.0 154.8 L412.4 154.7 L412.8 154.6 L413.2 154.5 L413.6 154.3 L414.0 154.2 L414.4 154.1 L414.8 154.0 L415.2 153.9 L415.6 153.7 L416.0 153.6 L416.4 153.5 L416.8 153.3 L417.2 153.2 L417.6 153.1 L418.0 152.9 L418.4 152.8 L418.8 152.6 L419.2 152.5 L419.6 152.4 L420.0 152.2 L420.4 152.0 L420.8 151.9 L421.2 151.7 L421.6 151.5 L422.0 151.3 L422.4 151.1 L422.8 150.9 L423.2 150.7 L423.6 150.5 L424.0 150.3 L424.4 150.1 L424.8 149.8 L425.2 149.6 L425.6 149.4 L426.0 149.2 L426.4 148.9 L426.8 148.7 L427.2 148.5 L427.6 148.3 L428.0 148.1 L428.4 147.9 L428.8 147.7 L429.2 147.5 L429.6 147.4 L430.0 147.2 L430.4 147.0 L430.8 146.9 L431.2 146.7 L431.6 146.6 L432.0 146.4 L432.4 146.3 L432.8 146.1 L433.2 145.9 L433.6 145.8 L434.0 145.7 L434.4 145.5 L434.8 145.4 L435.2 145.2 L435.6 145.1 L436.0 145.0 L436.4 144.8 L436.8 144.7 L437.2 144.6 L437.6 144.5 L438.0 144.4 L438.4 144.3 L438.8 144.2 L439.2 144.1 L439.6 144.0 L440.0 143.9 L440.4 143.8 L440.8 143.7 L441.2 143.7 L441.6 143.6 L442.0 143.5 L442.4 143.4 L442.8 143.4 L443.2 143.3 L443.6 143.2 L444.0 143.2 L444.4 143.1 L444.8 143.0 L445.2 143.0 L445.6 143.0 L446.0 142.9 L446.4 142.9 L446.8 142.9 L447.2 142.9 L447.6 142.9 L448.0 142.9 L448.4 142.9 L448.8 143.0 L449.2 143.0 L449.6 143.0 L450.0 143.1 L450.4 143.1 L450.8 143.2 L451.2 143.2 L451.6 143.3 L452.0 143.3 L452.4 143.4 L452.8 143.5 L453.2 143.6 L453.6 143.6 L454.0 143.7 L454.4 143.8 L454.8 143.9 L455.2 143.9 L455.6 144.0 L456.0 144.2 L456.4 144.3 L456.8 144.4 L457.2 144.6 L457.6 144.8 L458.0 145.0 L458.4 145.2 L458.8 145.4 L459.2 145.6 L459.6 145.8 L460.0 146.0 L460.4 146.3 L460.8 146.5 L461.2 146.8 L461.6 147.0 L462.0 147.3 L462.4 147.5 L462.8 147.8 L463.2 148.0 L463.6 148.3 L464.0 148.6 L464.4 148.9 L464.8 149.2 L465.2 149.5 L465.6 149.8 L466.0 150.1 L466.4 150.5 L466.8 150.8 L467.2 151.2 L467.6 151.5 L468.0 151.9 L468.4 152.3 L468.8 152.7 L469.2 153.1 L469.6 153.5 L470.0 153.9 L470.4 154.3 L470.8 154.7 L471.2 155.2 L471.6 155.6 L472.0 156.0 L472.4 156.5 L472.8 157.0 L473.2 157.6 L473.6 158.2 L474.0 158.8 L474.4 159.5 L474.8 160.2 L475.2 161.0 L475.6 161.9 L476.0 162.8 L476.4 163.8 L476.8 164.9 L477.2 166.1 L477.6 167.3 L478.0 168.6 L478.4 170.0 L478.8 171.6 L479.2 173.4 L479.6 175.4 L480.0 177.5 L480.4 179.9 L480.8 182.7 L481.2 186.1 L481.6 189.9 L482.0 193.9 L482.4 197.8 L482.8 201.8 L483.2 206.1 L483.6 210.5 L484.0 214.9 L484.4 219.0 L484.8 222.9 L485.2 226.6 L485.6 230.3 L486.0 233.8 L486.4 237.2 L486.8 240.8 L487.2 244.8 L487.6 248.1 L488.0 249.5 L488.4 249.5 L488.8 249.5 L489.2 249.4 L489.6 249.3 L490.0 249.1 L490.4 248.4 L490.8 239.3 L491.2 228.0 L491.6 219.9 L492.0 212.4 L492.4 206.0 L492.8 200.6 L493.2 195.6 L493.6 191.1 L494.0 187.2 L494.4 183.9 L494.8 181.1 L495.2 178.5 L495.6 176.2 L496.0 174.1 L496.4 172.2 L496.8 170.6 L497.2 169.2 L497.6 168.0 L498.0 166.8 L498.4 165.8 L498.8 164.8 L499.2 163.9 L499.6 163.2 L500.0 162.5 L500.4 161.9 L500.8 161.4 L501.2 160.9 L501.6 160.5 L502.0 160.1 L502.4 159.7 L502.8 159.2 L503.2 158.8 L503.6 158.3 L504.0 157.8 L504.4 157.3 L504.8 156.8 L505.2 156.3 L505.6 155.8 L506.0 155.3 L506.4 154.8 L506.8 154.3 L507.2 153.9 L507.6 153.4 L508.0 153.0 L508.4 152.6 L508.8 152.2 L509.2 151.7 L509.6 151.3 L510.0 150.9 L510.4 150.5 L510.8 150.1 L511.2 149.7 L511.6 149.3 L512.0 149.0 L512.4 148.6 L512.8 148.3 L513.2 148.0 L513.6 147.7 L514.0 147.5 L514.4 147.3 L514.8 147.1 L515.2 146.9 L515.6 146.7 L516.0 146.5 L516.4 146.3 L516.8 146.1 L517.2 145.9 L517.6 145.8 L518.0 145.6 L518.4 145.5 L518.8 145.4 L519.2 145.2 L519.6 145.1 L520.0 145.0 L520.4 144.9 L520.8 144.8 L521.2 144.7 L521.6 144.6 L522.0 144.5 L522.4 144.4 L522.8 144.3 L523.2 144.2 L523.6 144.1 L524.0 144.0 L524.4 143.9 L524.8 143.8 L525.2 143.8 L525.6 143.7 L526.0 143.6 L526.4 143.6 L526.8 143.6 L527.2 143.5 L527.6 143.5 L528.0 143.5 L528.4 143.5 L528.8 143.5 L529.2 143.6 L529.6 143.6 L530.0 143.7 L530.4 143.7 L530.8 143.8 L531.2 143.9 L531.6 143.9 L532.0 144.0 L532.4 144.1 L532.8 144.2 L533.2 144.3 L533.6 144.4 L534.0 144.5 L534.4 144.6 L534.8 144.7 L535.2 144.9 L535.6 145.0 L536.0 145.2 L536.4 145.3 L536.8 145.5 L537.2 145.7 L537.6 145.9 L538.0 146.1 L538.4 146.2 L538.8 146.4 L539.2 146.6 L539.6 146.8 L540.0 147.0 L540.4 147.2 L540.8 147.4 L541.2 147.6 L541.6 147.8 L542.0 148.0 L542.4 148.2 L542.8 148.4 L543.2 148.6 L543.6 148.8 L544.0 149.0 L544.4 149.2 L544.8 149.4 L545.2 149.6 L545.6 149.8 L546.0 150.0 L546.4 150.2 L546.8 150.4 L547.2 150.6 L547.6 150.8 L548.0 151.0 L548.4 151.2 L548.8 151.4 L549.2 151.6 L549.6 151.7 L550.0 151.9 L550.4 152.1 L550.8 152.2 L551.2 152.4 L551.6 152.5 L552.0 152.7 L552.4 152.8 L552.8 152.9 L553.2 153.1 L553.6 153.2 L554.0 153.3 L554.4 153.5 L554.8 153.6 L555.2 153.7 L555.6 153.9 L556.0 154.0 L556.4 154.1 L556.8 154.2 L557.2 154.4 L557.6 154.5 L558.0 154.6 L558.4 154.7 L558.8 154.8 L559.2 155.0 L559.6 155.1 L560.0 155.2 L560.4 155.3 L560.8 155.4 L561.2 155.6 L561.6 155.7 L562.0 155.8 L562.4 155.9 L562.8 156.0 L563.2 156.1 L563.6 156.2 L564.0 156.3 L564.4 156.5 L564.8 156.6 L565.2 156.7 L565.6 156.8 L566.0 156.9 L566.4 157.0 L566.8 157.1 L567.2 157.2 L567.6 157.3 L568.0 157.4 L568.4 157.5 L568.8 157.6 L569.2 157.6 L569.6 157.7 L570.0 157.8 L570.4 157.9 L570.8 158.0 L571.2 158.1 L571.6 158.2 L572.0 158.3 L572.4 158.3 L572.8 158.4 L573.2 158.5 L573.6 158.6 L574.0 158.7 L574.4 158.8 L574.8 158.8 L575.2 158.9 L575.6 159.0 L576.0 159.1 L576.4 159.2 L576.8 159.2 L577.2 159.3 L577.6 159.4 L578.0 159.5 L578.4 159.6 L578.8 159.6 L579.2 159.7 L579.6 159.8 L580.0 159.9 L580.4 160.0 L580.8 160.0 L581.2 160.1 L581.6 160.2 L582.0 160.3 L582.4 160.3 L582.8 160.4 L583.2 160.5 L583.6 160.6 L584.0 160.6 L584.4 160.7 L584.8 160.8 L585.2 160.9 L585.6 160.9 L586.0 161.0 L586.4 161.1 L586.8 161.1 L587.2 161.2 L587.6 161.2 L588.0 161.3 L588.4 161.4 L588.8 161.4 L589.2 161.5 L589.6 161.6 L590.0 161.6 L590.4 161.7 L590.8 161.8 L591.2 161.8 L591.6 161.9 L592.0 161.9 L592.4 162.0 L592.8 162.0 L593.2 162.1 L593.6 162.2 L594.0 162.2 L594.4 162.3 L594.8 162.3 L595.2 162.4 L595.6 162.4 L596.0 162.4 L596.4 162.5 L596.8 162.5 L597.2 162.5 L597.6 162.6 L598.0 162.6 L598.4 162.6 L598.8 162.6 L599.2 162.7 L599.6 162.7 L600.0 162.7 L600.4 162.7 L600.8 162.7 L601.2 162.7 L601.6 162.8 L602.0 162.8 L602.4 162.8 L602.8 162.8 L603.2 162.8 L603.6 162.8 L604.0 162.8 L604.4 162.9 L604.8 162.9 L605.2 162.9 L605.6 162.9 L606.0 162.9 L606.4 162.9 L606.8 162.9 L607.2 162.9 L607.6 163.0 L608.0 163.0 L608.4 163.0 L608.8 163.0 L609.2 163.0 L609.6 163.0 L610.0 163.1 L610.4 163.1 L610.7 163.1" fill="none" stroke="#e40000" stroke-width="1.25" stroke-linejoin="round"/>
<path d="M365.10 164.70L367.60 160.30L370.10 164.70Z" fill="#e40000"/>
<path d="M366.32 164.41L368.82 160.01L371.32 164.41Z" fill="#e40000"/>
<path d="M370.58 163.47L373.08 159.07L375.58 163.47Z" fill="#e40000"/>
<path d="M374.85 162.64L377.35 158.24L379.85 162.64Z" fill="#e40000"/>
<path d="M379.11 161.96L381.61 157.56L384.11 161.96Z" fill="#e40000"/>
<path d="M383.37 161.42L385.87 157.02L388.37 161.42Z" fill="#e40000"/>
<path d="M387.64 160.88L390.14 156.48L392.64 160.88Z" fill="#e40000"/>
<path d="M391.90 160.32L394.40 155.92L396.90 160.32Z" fill="#e40000"/>
<path d="M396.16 159.71L398.66 155.31L401.16 159.71Z" fill="#e40000"/>
<path d="M400.42 158.99L402.92 154.59L405.42 158.99Z" fill="#e40000"/>
<path d="M404.69 158.15L407.19 153.75L409.69 158.15Z" fill="#e40000"/>
<path d="M408.95 157.13L411.45 152.73L413.95 157.13Z" fill="#e40000"/>
<path d="M413.21 155.90L415.71 151.50L418.21 155.90Z" fill="#e40000"/>
<path d="M417.48 154.41L419.98 150.01L422.48 154.41Z" fill="#e40000"/>
<path d="M421.74 152.34L424.24 147.94L426.74 152.34Z" fill="#e40000"/>
<path d="M424.99 150.57L427.49 146.17L429.99 150.57Z" fill="#e40000"/>
<path d="M428.24 149.11L430.74 144.71L433.24 149.11Z" fill="#e40000"/>
<path d="M431.48 147.86L433.98 143.46L436.48 147.86Z" fill="#e40000"/>
<path d="M434.73 146.78L437.23 142.38L439.73 146.78Z" fill="#e40000"/>
<path d="M437.98 146.01L440.48 141.61L442.98 146.01Z" fill="#e40000"/>
<path d="M440.01 145.61L442.51 141.21L445.01 145.61Z" fill="#e40000"/>
<path d="M442.04 145.27L444.54 140.87L447.04 145.27Z" fill="#e40000"/>
<path d="M444.07 145.11L446.57 140.71L449.07 145.11Z" fill="#e40000"/>
<path d="M446.10 145.15L448.60 140.75L451.10 145.15Z" fill="#e40000"/>
<path d="M448.13 145.35L450.63 140.95L453.13 145.35Z" fill="#e40000"/>
<path d="M450.16 145.66L452.66 141.26L455.16 145.66Z" fill="#e40000"/>
<path d="M452.19 146.04L454.69 141.64L457.19 146.04Z" fill="#e40000"/>
<path d="M454.22 146.60L456.72 142.20L459.22 146.60Z" fill="#e40000"/>
<path d="M456.25 147.53L458.75 143.13L461.25 147.53Z" fill="#e40000"/>
<path d="M458.28 148.70L460.78 144.30L463.28 148.70Z" fill="#e40000"/>
<path d="M460.31 149.98L462.81 145.58L465.31 149.98Z" fill="#e40000"/>
<path d="M462.34 151.40L464.84 147.00L467.34 151.40Z" fill="#e40000"/>
<path d="M464.37 153.08L466.87 148.68L469.37 153.08Z" fill="#e40000"/>
<path d="M466.40 154.99L468.90 150.59L471.40 154.99Z" fill="#e40000"/>
<path d="M468.43 157.06L470.93 152.66L473.43 157.06Z" fill="#e40000"/>
<path d="M470.46 159.46L472.96 155.06L475.46 159.46Z" fill="#e40000"/>
<path d="M472.49 162.80L474.99 158.40L477.49 162.80Z" fill="#e40000"/>
<path d="M474.52 167.73L477.02 163.33L479.52 167.73Z" fill="#e40000"/>
<path d="M476.55 174.91L479.05 170.51L481.55 174.91Z" fill="#e40000"/>
<path d="M478.58 187.25L481.08 182.85L483.58 187.25Z" fill="#e40000"/>
<path d="M480.61 207.37L483.11 202.97L485.61 207.37Z" fill="#e40000"/>
<path d="M482.64 228.28L485.14 223.88L487.64 228.28Z" fill="#e40000"/>
<path d="M484.67 246.73L487.17 242.33L489.67 246.73Z" fill="#e40000"/>
<path d="M486.70 251.58L489.20 247.18L491.70 251.58Z" fill="#e40000"/>
<path d="M488.73 229.58L491.23 225.18L493.73 229.58Z" fill="#e40000"/>
<path d="M490.76 197.07L493.26 192.67L495.76 197.07Z" fill="#e40000"/>
<path d="M492.79 180.16L495.29 175.76L497.79 180.16Z" fill="#e40000"/>
<path d="M494.82 171.04L497.32 166.64L499.82 171.04Z" fill="#e40000"/>
<path d="M496.85 165.85L499.35 161.45L501.85 165.85Z" fill="#e40000"/>
<path d="M498.88 162.93L501.38 158.53L503.88 162.93Z" fill="#e40000"/>
<path d="M500.91 160.71L503.41 156.31L505.91 160.71Z" fill="#e40000"/>
<path d="M502.94 158.19L505.44 153.79L507.94 158.19Z" fill="#e40000"/>
<path d="M504.97 155.77L507.47 151.37L509.97 155.77Z" fill="#e40000"/>
<path d="M507.00 153.62L509.50 149.22L512.00 153.62Z" fill="#e40000"/>
<path d="M509.03 151.59L511.53 147.19L514.03 151.59Z" fill="#e40000"/>
<path d="M511.06 149.97L513.56 145.57L516.06 149.97Z" fill="#e40000"/>
<path d="M513.09 148.86L515.59 144.46L518.09 148.86Z" fill="#e40000"/>
<path d="M515.12 147.97L517.62 143.57L520.12 147.97Z" fill="#e40000"/>
<path d="M517.15 147.30L519.65 142.90L522.15 147.30Z" fill="#e40000"/>
<path d="M519.18 146.75L521.68 142.35L524.18 146.75Z" fill="#e40000"/>
<path d="M521.21 146.25L523.71 141.85L526.21 146.25Z" fill="#e40000"/>
<path d="M523.24 145.87L525.74 141.47L528.24 145.87Z" fill="#e40000"/>
<path d="M525.27 145.70L527.77 141.30L530.27 145.70Z" fill="#e40000"/>
<path d="M527.30 145.83L529.80 141.43L532.30 145.83Z" fill="#e40000"/>
<path d="M529.33 146.19L531.83 141.79L534.33 146.19Z" fill="#e40000"/>
<path d="M531.36 146.67L533.86 142.27L536.36 146.67Z" fill="#e40000"/>
<path d="M533.39 147.31L535.89 142.91L538.39 147.31Z" fill="#e40000"/>
<path d="M535.42 148.22L537.92 143.82L540.42 148.22Z" fill="#e40000"/>
<path d="M538.67 149.75L541.17 145.35L543.67 149.75Z" fill="#e40000"/>
<path d="M541.92 151.41L544.42 147.01L546.92 151.41Z" fill="#e40000"/>
<path d="M545.16 153.03L547.66 148.63L550.16 153.03Z" fill="#e40000"/>
<path d="M548.41 154.46L550.91 150.06L553.41 154.46Z" fill="#e40000"/>
<path d="M551.66 155.60L554.16 151.20L556.66 155.60Z" fill="#e40000"/>
<path d="M555.92 156.93L558.42 152.53L560.92 156.93Z" fill="#e40000"/>
<path d="M560.19 158.18L562.69 153.78L565.19 158.18Z" fill="#e40000"/>
<path d="M564.45 159.31L566.95 154.91L569.45 159.31Z" fill="#e40000"/>
<path d="M568.71 160.29L571.21 155.89L573.71 160.29Z" fill="#e40000"/>
<path d="M572.98 161.17L575.48 156.77L577.98 161.17Z" fill="#e40000"/>
<path d="M577.24 162.03L579.74 157.63L582.24 162.03Z" fill="#e40000"/>
<path d="M581.50 162.84L584.00 158.44L586.50 162.84Z" fill="#e40000"/>
<path d="M585.76 163.55L588.26 159.15L590.76 163.55Z" fill="#e40000"/>
<path d="M590.03 164.21L592.53 159.81L595.03 164.21Z" fill="#e40000"/>
<path d="M594.29 164.71L596.79 160.31L599.29 164.71Z" fill="#e40000"/>
<path d="M598.55 164.94L601.05 160.54L603.55 164.94Z" fill="#e40000"/>
<path d="M602.82 165.08L605.32 160.68L607.82 165.08Z" fill="#e40000"/>
<path d="M607.08 165.24L609.58 160.84L612.08 165.24Z" fill="#e40000"/>
<path d="M608.20 165.30L610.70 160.90L613.20 165.30Z" fill="#e40000"/>
<text x="383.0" y="31.2" class="pl">(b)</text>
<path d="M534.6 21.40H558.2" stroke="#000" stroke-width="1.6"/>
<circle cx="546.40" cy="21.40" r="2.12" fill="#000"/>
<text x="560.7" y="25.10" class="lg" fill="#000" textLength="43.4" lengthAdjust="spacingAndGlyphs">30 wt % IL</text>
<path d="M534.6 32.25H558.2" stroke="#0000e0" stroke-width="1.6"/>
<rect x="544.45" y="30.30" width="3.91" height="3.91" fill="#0000e0"/>
<text x="560.7" y="35.95" class="lg" fill="#0000e0" textLength="43.4" lengthAdjust="spacingAndGlyphs">20 wt % IL</text>
<path d="M534.6 43.10H558.2" stroke="#e40000" stroke-width="1.6"/>
<path d="M544.28 44.97L546.40 41.23L548.53 44.97Z" fill="#e40000"/>
<text x="560.7" y="46.80" class="lg" fill="#e40000" textLength="37.9" lengthAdjust="spacingAndGlyphs">5 wt % IL</text>
<text x="551" y="71" class="fq">f=60 kHz</text>
<text x="458.44" y="284.80" class="axx">H</text>
<text x="469.84" y="293.10" class="subx">dc</text>
<text x="485.98" y="285.00" class="axx">(Oe)</text>
<text transform="translate(331.80,159.70) rotate(-90)" class="ax">(mV/cm.Oe)</text>
<text transform="translate(332.70,183.50) rotate(-90)" class="alpha">α</text>
<text transform="translate(339.80,173.60) rotate(-90)" class="sub">MI</text>
<rect x="51.80" y="319.90" width="238.10" height="238.40" fill="none" stroke="#474747" stroke-width="1.45" stroke-linejoin="round"/>
<text x="44.50" y="560.90" text-anchor="end" class="t">0</text>
<path d="M51.80 524.24h4.0M289.90 524.24h-4.0" stroke="#3a3a3a" stroke-width="1"/>
<text x="44.50" y="526.84" text-anchor="end" class="t">20</text>
<path d="M51.80 490.19h4.0M289.90 490.19h-4.0" stroke="#3a3a3a" stroke-width="1"/>
<text x="44.50" y="492.79" text-anchor="end" class="t">40</text>
<path d="M51.80 456.13h4.0M289.90 456.13h-4.0" stroke="#3a3a3a" stroke-width="1"/>
<text x="44.50" y="458.73" text-anchor="end" class="t">60</text>
<path d="M51.80 422.07h4.0M289.90 422.07h-4.0" stroke="#3a3a3a" stroke-width="1"/>
<text x="44.50" y="424.67" text-anchor="end" class="t">80</text>
<path d="M51.80 388.01h4.0M289.90 388.01h-4.0" stroke="#3a3a3a" stroke-width="1"/>
<text x="44.50" y="390.61" text-anchor="end" class="t">100</text>
<path d="M51.80 353.96h4.0M289.90 353.96h-4.0" stroke="#3a3a3a" stroke-width="1"/>
<text x="44.50" y="356.56" text-anchor="end" class="t">120</text>
<text x="44.50" y="322.50" text-anchor="end" class="t">140</text>
<text x="51.50" y="572.10" text-anchor="middle" class="t">-30</text>
<path d="M91.48 558.30v-4.0" stroke="#3a3a3a" stroke-width="1"/>
<text x="91.18" y="572.10" text-anchor="middle" class="t">-20</text>
<path d="M131.17 558.30v-4.0" stroke="#3a3a3a" stroke-width="1"/>
<text x="130.87" y="572.10" text-anchor="middle" class="t">-10</text>
<path d="M170.85 558.30v-4.0" stroke="#3a3a3a" stroke-width="1"/>
<text x="170.55" y="572.10" text-anchor="middle" class="t">0</text>
<path d="M210.53 558.30v-4.0" stroke="#3a3a3a" stroke-width="1"/>
<text x="210.23" y="572.10" text-anchor="middle" class="t">10</text>
<path d="M250.22 558.30v-4.0" stroke="#3a3a3a" stroke-width="1"/>
<text x="249.92" y="572.10" text-anchor="middle" class="t">20</text>
<text x="289.60" y="572.10" text-anchor="middle" class="t">30</text>
<path d="M52.0 423.0 L52.4 422.8 L52.8 422.7 L53.2 422.5 L53.6 422.4 L54.0 422.2 L54.4 422.0 L54.8 421.9 L55.2 421.7 L55.6 421.5 L56.0 421.4 L56.4 421.2 L56.8 421.0 L57.2 420.9 L57.6 420.7 L58.0 420.5 L58.4 420.4 L58.8 420.2 L59.2 420.0 L59.6 419.8 L60.0 419.7 L60.4 419.5 L60.8 419.4 L61.2 419.2 L61.6 419.1 L62.0 418.9 L62.4 418.8 L62.8 418.7 L63.2 418.5 L63.6 418.4 L64.0 418.3 L64.4 418.2 L64.8 418.1 L65.2 418.0 L65.6 417.8 L66.0 417.7 L66.4 417.6 L66.8 417.4 L67.2 417.3 L67.6 417.1 L68.0 417.0 L68.4 416.8 L68.8 416.5 L69.2 416.3 L69.6 416.0 L70.0 415.8 L70.4 415.5 L70.8 415.2 L71.2 415.0 L71.6 414.7 L72.0 414.5 L72.4 414.3 L72.8 414.1 L73.2 413.8 L73.6 413.6 L74.0 413.4 L74.4 413.2 L74.8 413.0 L75.2 412.8 L75.6 412.6 L76.0 412.4 L76.4 412.3 L76.8 412.1 L77.2 411.9 L77.6 411.7 L78.0 411.6 L78.4 411.4 L78.8 411.2 L79.2 411.1 L79.6 410.9 L80.0 410.7 L80.4 410.6 L80.8 410.4 L81.2 410.2 L81.6 410.0 L82.0 409.8 L82.4 409.7 L82.8 409.5 L83.2 409.3 L83.6 409.1 L84.0 408.9 L84.4 408.8 L84.8 408.6 L85.2 408.4 L85.6 408.3 L86.0 408.1 L86.4 408.0 L86.8 407.8 L87.2 407.7 L87.6 407.5 L88.0 407.3 L88.4 407.2 L88.8 407.0 L89.2 406.8 L89.6 406.6 L90.0 406.3 L90.4 406.1 L90.8 405.9 L91.2 405.7 L91.6 405.5 L92.0 405.3 L92.4 405.1 L92.8 405.0 L93.2 404.8 L93.6 404.6 L94.0 404.4 L94.4 404.3 L94.8 404.1 L95.2 403.9 L95.6 403.6 L96.0 403.4 L96.4 403.1 L96.8 402.8 L97.2 402.4 L97.6 402.1 L98.0 401.8 L98.4 401.4 L98.8 401.1 L99.2 400.8 L99.6 400.5 L100.0 400.1 L100.4 399.8 L100.8 399.5 L101.2 399.1 L101.6 398.8 L102.0 398.4 L102.4 398.1 L102.8 397.7 L103.2 397.3 L103.6 396.9 L104.0 396.5 L104.4 396.1 L104.8 395.7 L105.2 395.3 L105.6 394.9 L106.0 394.4 L106.4 394.0 L106.8 393.5 L107.2 393.1 L107.6 392.6 L108.0 392.1 L108.4 391.6 L108.8 391.1 L109.2 390.6 L109.6 390.1 L110.0 389.5 L110.4 388.9 L110.8 388.3 L111.2 387.7 L111.6 387.0 L112.0 386.2 L112.4 385.4 L112.8 384.5 L113.2 383.7 L113.6 382.8 L114.0 381.9 L114.4 381.0 L114.8 380.1 L115.2 379.3 L115.6 378.4 L116.0 377.6 L116.4 376.7 L116.8 375.8 L117.2 375.0 L117.6 374.1 L118.0 373.1 L118.4 372.2 L118.8 371.2 L119.2 370.1 L119.6 369.0 L120.0 367.8 L120.4 366.6 L120.8 365.4 L121.2 364.1 L121.6 362.9 L122.0 361.6 L122.4 360.2 L122.8 358.9 L123.2 357.4 L123.6 356.0 L124.0 354.6 L124.4 353.2 L124.8 351.9 L125.2 350.5 L125.6 349.2 L126.0 347.9 L126.4 346.6 L126.8 345.3 L127.2 344.1 L127.6 342.9 L128.0 341.8 L128.4 340.7 L128.8 339.5 L129.2 338.3 L129.6 337.0 L130.0 335.6 L130.4 334.1 L130.8 332.7 L131.2 331.3 L131.6 330.0 L132.0 328.6 L132.4 327.2 L132.8 326.1 L133.2 325.2 L133.6 324.6 L134.0 324.0 L134.4 323.5 L134.8 323.0 L135.2 322.6 L135.6 322.3 L136.0 322.1 L136.4 322.0 L136.8 322.0 L137.2 322.2 L137.6 322.4 L138.0 322.8 L138.4 323.2 L138.8 323.6 L139.2 324.1 L139.6 324.6 L140.0 325.1 L140.4 325.8 L140.8 326.5 L141.2 327.4 L141.6 328.4 L142.0 329.5 L142.4 330.6 L142.8 331.7 L143.2 332.9 L143.6 334.2 L144.0 335.6 L144.4 337.0 L144.8 338.5 L145.2 340.0 L145.6 341.4 L146.0 342.9 L146.4 344.3 L146.8 345.8 L147.2 347.4 L147.6 349.1 L148.0 350.9 L148.4 352.9 L148.8 355.1 L149.2 357.4 L149.6 359.7 L150.0 362.1 L150.4 364.6 L150.8 367.1 L151.2 369.7 L151.6 372.5 L152.0 375.3 L152.4 378.2 L152.8 381.3 L153.2 384.5 L153.6 388.0 L154.0 392.0 L154.4 396.5 L154.8 401.0 L155.2 404.9 L155.6 408.5 L156.0 412.0 L156.4 415.4 L156.8 419.0 L157.2 422.8 L157.6 426.5 L158.0 430.4 L158.4 434.3 L158.8 438.2 L159.2 442.2 L159.6 446.3 L160.0 450.4 L160.4 454.6 L160.8 458.9 L161.2 463.2 L161.6 467.6 L162.0 472.0 L162.4 476.7 L162.8 481.6 L163.2 486.9 L163.6 493.2 L164.0 500.4 L164.4 507.7 L164.8 514.2 L165.2 519.2 L165.6 523.8 L166.0 528.1 L166.4 532.1 L166.8 535.8 L167.2 539.2 L167.6 542.2 L168.0 544.8 L168.4 546.9 L168.8 548.9 L169.2 550.9 L169.6 552.7 L170.0 554.3 L170.4 555.7 L170.8 556.7 L171.2 557.4 L171.6 557.5 L172.0 556.6 L172.4 554.8 L172.8 552.2 L173.2 548.9 L173.6 542.9 L174.0 531.3 L174.4 519.3 L174.8 510.2 L175.2 501.9 L175.6 494.1 L176.0 486.5 L176.4 478.9 L176.8 470.9 L177.2 462.8 L177.6 455.3 L178.0 449.0 L178.4 443.9 L178.8 439.6 L179.2 436.3 L179.6 433.7 L180.0 431.5 L180.4 429.4 L180.8 427.1 L181.2 424.4 L181.6 421.3 L182.0 418.1 L182.4 414.7 L182.8 411.5 L183.2 408.4 L183.6 405.3 L184.0 402.3 L184.4 399.4 L184.8 396.4 L185.2 393.4 L185.6 390.3 L186.0 387.2 L186.4 384.2 L186.8 381.3 L187.2 378.6 L187.6 376.1 L188.0 373.7 L188.4 371.3 L188.8 369.0 L189.2 366.8 L189.6 364.5 L190.0 362.2 L190.4 360.0 L190.8 357.9 L191.2 355.9 L191.6 354.0 L192.0 352.2 L192.4 350.5 L192.8 348.7 L193.2 347.1 L193.6 345.4 L194.0 343.8 L194.4 342.3 L194.8 340.7 L195.2 339.3 L195.6 337.8 L196.0 336.3 L196.4 334.9 L196.8 333.6 L197.2 332.4 L197.6 331.2 L198.0 330.1 L198.4 329.0 L198.8 328.1 L199.2 327.1 L199.6 326.2 L200.0 325.2 L200.4 324.3 L200.8 323.6 L201.2 323.1 L201.6 323.0 L202.0 323.0 L202.4 323.1 L202.8 323.2 L203.2 323.4 L203.6 323.6 L204.0 323.8 L204.4 324.0 L204.8 324.3 L205.2 324.7 L205.6 325.5 L206.0 326.5 L206.4 327.6 L206.8 328.7 L207.2 329.8 L207.6 330.9 L208.0 332.0 L208.4 333.2 L208.8 334.5 L209.2 335.7 L209.6 337.0 L210.0 338.3 L210.4 339.7 L210.8 341.2 L211.2 342.7 L211.6 344.3 L212.0 345.8 L212.4 347.3 L212.8 348.7 L213.2 350.0 L213.6 351.2 L214.0 352.4 L214.4 353.5 L214.8 354.6 L215.2 355.8 L215.6 357.0 L216.0 358.2 L216.4 359.5 L216.8 360.9 L217.2 362.2 L217.6 363.6 L218.0 364.9 L218.4 366.2 L218.8 367.5 L219.2 368.8 L219.6 370.1 L220.0 371.4 L220.4 372.6 L220.8 373.8 L221.2 375.0 L221.6 376.2 L222.0 377.4 L222.4 378.5 L222.8 379.7 L223.2 380.8 L223.6 381.9 L224.0 382.9 L224.4 383.9 L224.8 384.7 L225.2 385.4 L225.6 386.1 L226.0 386.7 L226.4 387.3 L226.8 387.8 L227.2 388.4 L227.6 388.9 L228.0 389.4 L228.4 389.9 L228.8 390.4 L229.2 390.9 L229.6 391.4 L230.0 391.9 L230.4 392.5 L230.8 393.0 L231.2 393.5 L231.6 394.0 L232.0 394.4 L232.4 394.9 L232.8 395.4 L233.2 395.8 L233.6 396.2 L234.0 396.6 L234.4 397.0 L234.8 397.3 L235.2 397.6 L235.6 397.9 L236.0 398.2 L236.4 398.5 L236.8 398.8 L237.2 399.1 L237.6 399.4 L238.0 399.8 L238.4 400.1 L238.8 400.5 L239.2 400.8 L239.6 401.2 L240.0 401.6 L240.4 402.0 L240.8 402.4 L241.2 402.8 L241.6 403.1 L242.0 403.5 L242.4 403.8 L242.8 404.2 L243.2 404.4 L243.6 404.7 L244.0 405.0 L244.4 405.2 L244.8 405.5 L245.2 405.7 L245.6 405.9 L246.0 406.2 L246.4 406.4 L246.8 406.6 L247.2 406.8 L247.6 407.0 L248.0 407.2 L248.4 407.4 L248.8 407.5 L249.2 407.7 L249.6 407.9 L250.0 408.0 L250.4 408.2 L250.8 408.3 L251.2 408.5 L251.6 408.6 L252.0 408.7 L252.4 408.9 L252.8 409.0 L253.2 409.2 L253.6 409.3 L254.0 409.5 L254.4 409.6 L254.8 409.8 L255.2 409.9 L255.6 410.1 L256.0 410.3 L256.4 410.4 L256.8 410.6 L257.2 410.8 L257.6 411.0 L258.0 411.1 L258.4 411.3 L258.8 411.5 L259.2 411.7 L259.6 411.8 L260.0 412.0 L260.4 412.2 L260.8 412.4 L261.2 412.5 L261.6 412.7 L262.0 412.8 L262.4 413.0 L262.8 413.1 L263.2 413.3 L263.6 413.4 L264.0 413.5 L264.4 413.6 L264.8 413.8 L265.2 413.9 L265.6 414.0 L266.0 414.1 L266.4 414.3 L266.8 414.4 L267.2 414.5 L267.6 414.6 L268.0 414.7 L268.4 414.9 L268.8 415.0 L269.2 415.1 L269.6 415.2 L270.0 415.4 L270.4 415.5 L270.8 415.6 L271.2 415.7 L271.6 415.8 L272.0 415.9 L272.4 416.1 L272.8 416.2 L273.2 416.3 L273.6 416.4 L274.0 416.5 L274.4 416.6 L274.8 416.8 L275.2 416.9 L275.6 417.0 L276.0 417.1 L276.4 417.3 L276.8 417.4 L277.2 417.5 L277.6 417.7 L278.0 417.8 L278.4 418.0 L278.8 418.2 L279.2 418.3 L279.6 418.5 L280.0 418.7 L280.4 418.9 L280.8 419.0 L281.2 419.2 L281.6 419.4 L282.0 419.6 L282.4 419.8 L282.8 419.9 L283.2 420.1 L283.6 420.3 L284.0 420.4 L284.4 420.6 L284.8 420.7 L285.2 420.9 L285.6 421.0 L286.0 421.1 L286.4 421.2 L286.8 421.3 L287.2 421.4 L287.6 421.5 L288.0 421.6 L288.4 421.7 L288.8 421.8 L289.2 421.9 L289.6 422.0 L289.8 422.0" fill="none" stroke="#000" stroke-width="1.45" stroke-linejoin="round"/>
<circle cx="52.00" cy="423.00" r="2.50" fill="#000"/>
<circle cx="54.03" cy="422.18" r="2.50" fill="#000"/>
<circle cx="58.59" cy="420.27" r="2.50" fill="#000"/>
<circle cx="63.15" cy="418.56" r="2.50" fill="#000"/>
<circle cx="67.72" cy="417.08" r="2.50" fill="#000"/>
<circle cx="72.28" cy="414.34" r="2.50" fill="#000"/>
<circle cx="76.85" cy="412.07" r="2.50" fill="#000"/>
<circle cx="81.41" cy="410.12" r="2.50" fill="#000"/>
<circle cx="85.97" cy="408.13" r="2.50" fill="#000"/>
<circle cx="90.54" cy="406.05" r="2.50" fill="#000"/>
<circle cx="95.10" cy="403.91" r="2.50" fill="#000"/>
<circle cx="99.66" cy="400.40" r="2.50" fill="#000"/>
<circle cx="104.23" cy="396.31" r="2.50" fill="#000"/>
<circle cx="108.79" cy="391.14" r="2.50" fill="#000"/>
<circle cx="113.35" cy="383.33" r="2.50" fill="#000"/>
<circle cx="117.52" cy="374.23" r="2.50" fill="#000"/>
<circle cx="121.11" cy="364.41" r="2.50" fill="#000"/>
<circle cx="124.21" cy="353.89" r="2.50" fill="#000"/>
<circle cx="126.88" cy="345.06" r="2.50" fill="#000"/>
<circle cx="129.18" cy="338.37" r="2.50" fill="#000"/>
<circle cx="131.17" cy="331.44" r="2.50" fill="#000"/>
<circle cx="133.15" cy="325.25" r="2.50" fill="#000"/>
<circle cx="135.13" cy="322.67" r="2.50" fill="#000"/>
<circle cx="137.12" cy="322.14" r="2.50" fill="#000"/>
<circle cx="139.10" cy="323.98" r="2.50" fill="#000"/>
<circle cx="141.09" cy="327.18" r="2.50" fill="#000"/>
<circle cx="143.07" cy="332.50" r="2.50" fill="#000"/>
<circle cx="145.06" cy="339.47" r="2.50" fill="#000"/>
<circle cx="147.04" cy="346.78" r="2.50" fill="#000"/>
<circle cx="149.02" cy="356.37" r="2.50" fill="#000"/>
<circle cx="151.01" cy="368.47" r="2.50" fill="#000"/>
<circle cx="152.99" cy="382.80" r="2.50" fill="#000"/>
<circle cx="154.98" cy="402.77" r="2.50" fill="#000"/>
<circle cx="156.96" cy="420.50" r="2.50" fill="#000"/>
<circle cx="158.94" cy="439.65" r="2.50" fill="#000"/>
<circle cx="160.93" cy="460.30" r="2.50" fill="#000"/>
<circle cx="162.91" cy="483.05" r="2.50" fill="#000"/>
<circle cx="164.90" cy="515.50" r="2.50" fill="#000"/>
<circle cx="166.88" cy="536.57" r="2.50" fill="#000"/>
<circle cx="168.87" cy="549.23" r="2.50" fill="#000"/>
<circle cx="170.85" cy="556.84" r="2.50" fill="#000"/>
<circle cx="172.83" cy="551.93" r="2.50" fill="#000"/>
<circle cx="174.82" cy="509.79" r="2.50" fill="#000"/>
<circle cx="176.80" cy="470.87" r="2.50" fill="#000"/>
<circle cx="178.79" cy="439.69" r="2.50" fill="#000"/>
<circle cx="180.77" cy="427.28" r="2.50" fill="#000"/>
<circle cx="182.75" cy="411.83" r="2.50" fill="#000"/>
<circle cx="184.74" cy="396.85" r="2.50" fill="#000"/>
<circle cx="186.72" cy="381.80" r="2.50" fill="#000"/>
<circle cx="188.71" cy="369.58" r="2.50" fill="#000"/>
<circle cx="190.69" cy="358.46" r="2.50" fill="#000"/>
<circle cx="192.68" cy="349.27" r="2.50" fill="#000"/>
<circle cx="194.66" cy="341.27" r="2.50" fill="#000"/>
<circle cx="196.64" cy="334.13" r="2.50" fill="#000"/>
<circle cx="198.63" cy="328.46" r="2.50" fill="#000"/>
<circle cx="200.61" cy="323.88" r="2.50" fill="#000"/>
<circle cx="202.60" cy="323.16" r="2.50" fill="#000"/>
<circle cx="204.58" cy="324.17" r="2.50" fill="#000"/>
<circle cx="206.56" cy="328.09" r="2.50" fill="#000"/>
<circle cx="208.55" cy="333.68" r="2.50" fill="#000"/>
<circle cx="210.53" cy="340.22" r="2.50" fill="#000"/>
<circle cx="212.52" cy="347.69" r="2.50" fill="#000"/>
<circle cx="214.82" cy="354.69" r="2.50" fill="#000"/>
<circle cx="217.49" cy="363.20" r="2.50" fill="#000"/>
<circle cx="220.59" cy="373.18" r="2.50" fill="#000"/>
<circle cx="224.18" cy="383.38" r="2.50" fill="#000"/>
<circle cx="228.35" cy="389.80" r="2.50" fill="#000"/>
<circle cx="232.91" cy="395.48" r="2.50" fill="#000"/>
<circle cx="237.47" cy="399.35" r="2.50" fill="#000"/>
<circle cx="242.04" cy="403.54" r="2.50" fill="#000"/>
<circle cx="246.60" cy="406.48" r="2.50" fill="#000"/>
<circle cx="251.16" cy="408.45" r="2.50" fill="#000"/>
<circle cx="255.73" cy="410.14" r="2.50" fill="#000"/>
<circle cx="260.29" cy="412.15" r="2.50" fill="#000"/>
<circle cx="264.85" cy="413.79" r="2.50" fill="#000"/>
<circle cx="269.42" cy="415.17" r="2.50" fill="#000"/>
<circle cx="273.98" cy="416.51" r="2.50" fill="#000"/>
<circle cx="278.55" cy="418.06" r="2.50" fill="#000"/>
<circle cx="283.11" cy="420.06" r="2.50" fill="#000"/>
<circle cx="287.67" cy="421.54" r="2.50" fill="#000"/>
<circle cx="289.80" cy="422.00" r="2.50" fill="#000"/>
<path d="M52.0 454.0 L52.4 453.9 L52.8 453.9 L53.2 453.8 L53.6 453.8 L54.0 453.7 L54.4 453.6 L54.8 453.6 L55.2 453.5 L55.6 453.4 L56.0 453.3 L56.4 453.2 L56.8 453.2 L57.2 453.1 L57.6 453.0 L58.0 452.9 L58.4 452.8 L58.8 452.7 L59.2 452.6 L59.6 452.5 L60.0 452.4 L60.4 452.3 L60.8 452.2 L61.2 452.0 L61.6 451.9 L62.0 451.8 L62.4 451.7 L62.8 451.5 L63.2 451.4 L63.6 451.3 L64.0 451.1 L64.4 451.0 L64.8 450.8 L65.2 450.7 L65.6 450.5 L66.0 450.4 L66.4 450.2 L66.8 450.0 L67.2 449.8 L67.6 449.7 L68.0 449.5 L68.4 449.3 L68.8 449.2 L69.2 449.0 L69.6 448.9 L70.0 448.8 L70.4 448.6 L70.8 448.5 L71.2 448.4 L71.6 448.3 L72.0 448.2 L72.4 448.0 L72.8 447.9 L73.2 447.8 L73.6 447.7 L74.0 447.6 L74.4 447.5 L74.8 447.3 L75.2 447.2 L75.6 447.1 L76.0 446.9 L76.4 446.8 L76.8 446.6 L77.2 446.5 L77.6 446.3 L78.0 446.1 L78.4 446.0 L78.8 445.8 L79.2 445.6 L79.6 445.5 L80.0 445.3 L80.4 445.1 L80.8 445.0 L81.2 444.8 L81.6 444.7 L82.0 444.6 L82.4 444.4 L82.8 444.3 L83.2 444.2 L83.6 444.1 L84.0 444.0 L84.4 443.8 L84.8 443.7 L85.2 443.6 L85.6 443.5 L86.0 443.4 L86.4 443.2 L86.8 443.1 L87.2 443.0 L87.6 442.8 L88.0 442.7 L88.4 442.5 L88.8 442.4 L89.2 442.2 L89.6 442.0 L90.0 441.9 L90.4 441.7 L90.8 441.5 L91.2 441.4 L91.6 441.2 L92.0 441.1 L92.4 440.9 L92.8 440.8 L93.2 440.6 L93.6 440.5 L94.0 440.4 L94.4 440.3 L94.8 440.1 L95.2 440.0 L95.6 439.9 L96.0 439.8 L96.4 439.7 L96.8 439.6 L97.2 439.5 L97.6 439.3 L98.0 439.2 L98.4 439.1 L98.8 439.0 L99.2 438.9 L99.6 438.8 L100.0 438.6 L100.4 438.5 L100.8 438.4 L101.2 438.3 L101.6 438.2 L102.0 438.1 L102.4 437.9 L102.8 437.8 L103.2 437.7 L103.6 437.6 L104.0 437.4 L104.4 437.3 L104.8 437.1 L105.2 437.0 L105.6 436.8 L106.0 436.7 L106.4 436.5 L106.8 436.4 L107.2 436.2 L107.6 436.0 L108.0 435.8 L108.4 435.7 L108.8 435.5 L109.2 435.3 L109.6 435.1 L110.0 434.9 L110.4 434.6 L110.8 434.4 L111.2 434.2 L111.6 433.9 L112.0 433.6 L112.4 433.2 L112.8 432.9 L113.2 432.5 L113.6 432.1 L114.0 431.8 L114.4 431.5 L114.8 431.1 L115.2 430.9 L115.6 430.6 L116.0 430.4 L116.4 430.2 L116.8 430.0 L117.2 429.8 L117.6 429.6 L118.0 429.4 L118.4 429.2 L118.8 429.0 L119.2 428.8 L119.6 428.6 L120.0 428.4 L120.4 428.2 L120.8 427.9 L121.2 427.6 L121.6 427.3 L122.0 426.9 L122.4 426.4 L122.8 425.8 L123.2 425.1 L123.6 424.3 L124.0 423.5 L124.4 422.7 L124.8 422.0 L125.2 421.3 L125.6 420.6 L126.0 419.9 L126.4 419.1 L126.8 418.4 L127.2 417.7 L127.6 417.0 L128.0 416.3 L128.4 415.7 L128.8 415.1 L129.2 414.6 L129.6 414.2 L130.0 413.8 L130.4 413.5 L130.8 413.1 L131.2 412.8 L131.6 412.5 L132.0 412.1 L132.4 411.8 L132.8 411.6 L133.2 411.3 L133.6 411.0 L134.0 410.8 L134.4 410.6 L134.8 410.4 L135.2 410.2 L135.6 410.1 L136.0 410.0 L136.4 409.9 L136.8 409.9 L137.2 409.9 L137.6 409.9 L138.0 409.9 L138.4 409.9 L138.8 410.0 L139.2 410.0 L139.6 410.0 L140.0 410.1 L140.4 410.1 L140.8 410.2 L141.2 410.2 L141.6 410.3 L142.0 410.4 L142.4 410.4 L142.8 410.5 L143.2 410.6 L143.6 410.6 L144.0 410.7 L144.4 410.8 L144.8 410.9 L145.2 411.0 L145.6 411.1 L146.0 411.3 L146.4 411.5 L146.8 411.7 L147.2 411.9 L147.6 412.1 L148.0 412.4 L148.4 412.7 L148.8 413.0 L149.2 413.3 L149.6 413.7 L150.0 414.0 L150.4 414.4 L150.8 414.8 L151.2 415.2 L151.6 415.7 L152.0 416.3 L152.4 417.0 L152.8 417.7 L153.2 418.4 L153.6 419.2 L154.0 420.1 L154.4 421.0 L154.8 422.0 L155.2 423.1 L155.6 424.4 L156.0 425.8 L156.4 427.4 L156.8 429.0 L157.2 430.8 L157.6 432.7 L158.0 434.8 L158.4 436.9 L158.8 439.0 L159.2 441.1 L159.6 443.2 L160.0 445.4 L160.4 447.7 L160.8 450.0 L161.2 452.4 L161.6 454.8 L162.0 457.3 L162.4 460.0 L162.8 462.9 L163.2 466.1 L163.6 469.6 L164.0 473.3 L164.4 477.1 L164.8 480.9 L165.2 484.7 L165.6 488.4 L166.0 492.3 L166.4 496.5 L166.8 500.9 L167.2 505.7 L167.6 510.9 L168.0 516.5 L168.4 522.3 L168.8 528.4 L169.2 535.3 L169.6 544.7 L170.0 553.3 L170.4 557.0 L170.8 557.0 L171.2 557.0 L171.6 556.4 L172.0 546.0 L172.4 533.8 L172.8 525.9 L173.2 518.8 L173.6 512.4 L174.0 506.4 L174.4 500.9 L174.8 495.6 L175.2 490.4 L175.6 485.3 L176.0 480.5 L176.4 475.9 L176.8 471.7 L177.2 467.9 L177.6 464.6 L178.0 461.9 L178.4 459.7 L178.8 457.7 L179.2 456.1 L179.6 454.5 L180.0 453.1 L180.4 451.5 L180.8 449.9 L181.2 448.1 L181.6 446.1 L182.0 444.0 L182.4 441.9 L182.8 439.9 L183.2 438.1 L183.6 436.2 L184.0 434.3 L184.4 432.5 L184.8 430.7 L185.2 428.9 L185.6 427.2 L186.0 425.6 L186.4 424.1 L186.8 422.7 L187.2 421.3 L187.6 420.0 L188.0 418.7 L188.4 417.5 L188.8 416.3 L189.2 415.3 L189.6 414.5 L190.0 413.9 L190.4 413.5 L190.8 413.0 L191.2 412.6 L191.6 412.3 L192.0 411.9 L192.4 411.6 L192.8 411.3 L193.2 411.0 L193.6 410.8 L194.0 410.5 L194.4 410.4 L194.8 410.2 L195.2 410.1 L195.6 410.0 L196.0 409.9 L196.4 409.9 L196.8 409.8 L197.2 409.8 L197.6 409.7 L198.0 409.7 L198.4 409.7 L198.8 409.7 L199.2 409.7 L199.6 409.6 L200.0 409.6 L200.4 409.6 L200.8 409.5 L201.2 409.5 L201.6 409.5 L202.0 409.4 L202.4 409.4 L202.8 409.3 L203.2 409.3 L203.6 409.3 L204.0 409.3 L204.4 409.2 L204.8 409.2 L205.2 409.2 L205.6 409.2 L206.0 409.2 L206.4 409.4 L206.8 409.5 L207.2 409.7 L207.6 410.0 L208.0 410.2 L208.4 410.6 L208.8 410.9 L209.2 411.2 L209.6 411.6 L210.0 412.0 L210.4 412.4 L210.8 412.7 L211.2 413.1 L211.6 413.5 L212.0 413.9 L212.4 414.3 L212.8 414.8 L213.2 415.3 L213.6 415.9 L214.0 416.5 L214.4 417.1 L214.8 417.8 L215.2 418.6 L215.6 419.6 L216.0 420.7 L216.4 421.7 L216.8 422.7 L217.2 423.6 L217.6 424.3 L218.0 425.0 L218.4 425.6 L218.8 426.2 L219.2 426.8 L219.6 427.4 L220.0 427.9 L220.4 428.4 L220.8 428.9 L221.2 429.3 L221.6 429.8 L222.0 430.2 L222.4 430.6 L222.8 431.1 L223.2 431.5 L223.6 431.9 L224.0 432.3 L224.4 432.7 L224.8 433.1 L225.2 433.5 L225.6 433.8 L226.0 434.2 L226.4 434.5 L226.8 434.9 L227.2 435.2 L227.6 435.5 L228.0 435.8 L228.4 436.0 L228.8 436.3 L229.2 436.5 L229.6 436.8 L230.0 437.0 L230.4 437.2 L230.8 437.4 L231.2 437.6 L231.6 437.8 L232.0 437.9 L232.4 438.1 L232.8 438.3 L233.2 438.4 L233.6 438.6 L234.0 438.8 L234.4 438.9 L234.8 439.1 L235.2 439.2 L235.6 439.3 L236.0 439.5 L236.4 439.6 L236.8 439.8 L237.2 439.9 L237.6 440.0 L238.0 440.2 L238.4 440.3 L238.8 440.4 L239.2 440.6 L239.6 440.7 L240.0 440.8 L240.4 440.9 L240.8 441.1 L241.2 441.2 L241.6 441.3 L242.0 441.4 L242.4 441.5 L242.8 441.6 L243.2 441.8 L243.6 441.9 L244.0 442.0 L244.4 442.1 L244.8 442.2 L245.2 442.3 L245.6 442.4 L246.0 442.5 L246.4 442.6 L246.8 442.8 L247.2 442.9 L247.6 443.0 L248.0 443.1 L248.4 443.2 L248.8 443.4 L249.2 443.5 L249.6 443.6 L250.0 443.7 L250.4 443.9 L250.8 444.0 L251.2 444.1 L251.6 444.2 L252.0 444.4 L252.4 444.5 L252.8 444.6 L253.2 444.7 L253.6 444.8 L254.0 445.0 L254.4 445.1 L254.8 445.2 L255.2 445.3 L255.6 445.5 L256.0 445.6 L256.4 445.7 L256.8 445.8 L257.2 446.0 L257.6 446.1 L258.0 446.2 L258.4 446.3 L258.8 446.4 L259.2 446.5 L259.6 446.7 L260.0 446.8 L260.4 446.9 L260.8 447.0 L261.2 447.1 L261.6 447.3 L262.0 447.4 L262.4 447.5 L262.8 447.6 L263.2 447.7 L263.6 447.8 L264.0 448.0 L264.4 448.1 L264.8 448.2 L265.2 448.3 L265.6 448.4 L266.0 448.6 L266.4 448.7 L266.8 448.8 L267.2 448.9 L267.6 449.1 L268.0 449.2 L268.4 449.3 L268.8 449.4 L269.2 449.6 L269.6 449.7 L270.0 449.8 L270.4 449.9 L270.8 450.1 L271.2 450.2 L271.6 450.3 L272.0 450.4 L272.4 450.5 L272.8 450.7 L273.2 450.8 L273.6 450.9 L274.0 451.0 L274.4 451.1 L274.8 451.2 L275.2 451.4 L275.6 451.5 L276.0 451.6 L276.4 451.7 L276.8 451.8 L277.2 451.9 L277.6 452.0 L278.0 452.1 L278.4 452.2 L278.8 452.3 L279.2 452.4 L279.6 452.5 L280.0 452.6 L280.4 452.7 L280.8 452.8 L281.2 452.9 L281.6 453.0 L282.0 453.1 L282.4 453.2 L282.8 453.3 L283.2 453.4 L283.6 453.5 L284.0 453.6 L284.4 453.7 L284.8 453.8 L285.2 453.8 L285.6 453.9 L286.0 454.0 L286.4 454.1 L286.8 454.1 L287.2 454.2 L287.6 454.3 L288.0 454.3 L288.4 454.4 L288.8 454.5 L289.2 454.5 L289.6 454.6 L289.8 454.6" fill="none" stroke="#0000e0" stroke-width="1.25" stroke-linejoin="round"/>
<rect x="49.70" y="451.70" width="4.60" height="4.60" fill="#0000e0"/>
<rect x="50.10" y="451.65" width="4.60" height="4.60" fill="#0000e0"/>
<rect x="54.26" y="450.91" width="4.60" height="4.60" fill="#0000e0"/>
<rect x="58.43" y="449.88" width="4.60" height="4.60" fill="#0000e0"/>
<rect x="62.60" y="448.50" width="4.60" height="4.60" fill="#0000e0"/>
<rect x="66.76" y="446.79" width="4.60" height="4.60" fill="#0000e0"/>
<rect x="70.93" y="445.51" width="4.60" height="4.60" fill="#0000e0"/>
<rect x="75.10" y="444.07" width="4.60" height="4.60" fill="#0000e0"/>
<rect x="79.26" y="442.41" width="4.60" height="4.60" fill="#0000e0"/>
<rect x="83.43" y="441.14" width="4.60" height="4.60" fill="#0000e0"/>
<rect x="87.60" y="439.61" width="4.60" height="4.60" fill="#0000e0"/>
<rect x="91.76" y="438.06" width="4.60" height="4.60" fill="#0000e0"/>
<rect x="95.93" y="436.87" width="4.60" height="4.60" fill="#0000e0"/>
<rect x="100.10" y="435.64" width="4.60" height="4.60" fill="#0000e0"/>
<rect x="104.26" y="434.15" width="4.60" height="4.60" fill="#0000e0"/>
<rect x="107.04" y="432.91" width="4.60" height="4.60" fill="#0000e0"/>
<rect x="109.82" y="431.18" width="4.60" height="4.60" fill="#0000e0"/>
<rect x="112.60" y="428.77" width="4.60" height="4.60" fill="#0000e0"/>
<rect x="115.37" y="427.26" width="4.60" height="4.60" fill="#0000e0"/>
<rect x="118.15" y="425.83" width="4.60" height="4.60" fill="#0000e0"/>
<rect x="120.93" y="422.70" width="4.60" height="4.60" fill="#0000e0"/>
<rect x="122.91" y="418.97" width="4.60" height="4.60" fill="#0000e0"/>
<rect x="124.90" y="415.41" width="4.60" height="4.60" fill="#0000e0"/>
<rect x="126.88" y="412.35" width="4.60" height="4.60" fill="#0000e0"/>
<rect x="128.87" y="410.52" width="4.60" height="4.60" fill="#0000e0"/>
<rect x="130.85" y="409.01" width="4.60" height="4.60" fill="#0000e0"/>
<rect x="132.83" y="407.95" width="4.60" height="4.60" fill="#0000e0"/>
<rect x="134.82" y="407.60" width="4.60" height="4.60" fill="#0000e0"/>
<rect x="136.80" y="407.69" width="4.60" height="4.60" fill="#0000e0"/>
<rect x="138.79" y="407.92" width="4.60" height="4.60" fill="#0000e0"/>
<rect x="140.77" y="408.25" width="4.60" height="4.60" fill="#0000e0"/>
<rect x="142.76" y="408.66" width="4.60" height="4.60" fill="#0000e0"/>
<rect x="144.74" y="409.50" width="4.60" height="4.60" fill="#0000e0"/>
<rect x="146.72" y="410.89" width="4.60" height="4.60" fill="#0000e0"/>
<rect x="148.71" y="412.72" width="4.60" height="4.60" fill="#0000e0"/>
<rect x="150.69" y="415.72" width="4.60" height="4.60" fill="#0000e0"/>
<rect x="152.68" y="420.16" width="4.60" height="4.60" fill="#0000e0"/>
<rect x="154.66" y="427.38" width="4.60" height="4.60" fill="#0000e0"/>
<rect x="156.64" y="437.46" width="4.60" height="4.60" fill="#0000e0"/>
<rect x="158.63" y="448.47" width="4.60" height="4.60" fill="#0000e0"/>
<rect x="160.61" y="461.47" width="4.60" height="4.60" fill="#0000e0"/>
<rect x="162.60" y="479.52" width="4.60" height="4.60" fill="#0000e0"/>
<rect x="164.58" y="499.56" width="4.60" height="4.60" fill="#0000e0"/>
<rect x="166.57" y="527.18" width="4.60" height="4.60" fill="#0000e0"/>
<rect x="168.55" y="554.70" width="4.60" height="4.60" fill="#0000e0"/>
<rect x="170.53" y="523.01" width="4.60" height="4.60" fill="#0000e0"/>
<rect x="172.52" y="493.05" width="4.60" height="4.60" fill="#0000e0"/>
<rect x="174.50" y="469.37" width="4.60" height="4.60" fill="#0000e0"/>
<rect x="176.49" y="455.51" width="4.60" height="4.60" fill="#0000e0"/>
<rect x="178.47" y="447.72" width="4.60" height="4.60" fill="#0000e0"/>
<rect x="180.45" y="437.87" width="4.60" height="4.60" fill="#0000e0"/>
<rect x="182.44" y="428.67" width="4.60" height="4.60" fill="#0000e0"/>
<rect x="184.42" y="420.63" width="4.60" height="4.60" fill="#0000e0"/>
<rect x="186.41" y="414.26" width="4.60" height="4.60" fill="#0000e0"/>
<rect x="188.39" y="410.84" width="4.60" height="4.60" fill="#0000e0"/>
<rect x="190.38" y="409.07" width="4.60" height="4.60" fill="#0000e0"/>
<rect x="192.36" y="407.95" width="4.60" height="4.60" fill="#0000e0"/>
<rect x="194.34" y="407.53" width="4.60" height="4.60" fill="#0000e0"/>
<rect x="196.33" y="407.39" width="4.60" height="4.60" fill="#0000e0"/>
<rect x="198.31" y="407.25" width="4.60" height="4.60" fill="#0000e0"/>
<rect x="200.30" y="407.06" width="4.60" height="4.60" fill="#0000e0"/>
<rect x="202.28" y="406.92" width="4.60" height="4.60" fill="#0000e0"/>
<rect x="204.26" y="407.11" width="4.60" height="4.60" fill="#0000e0"/>
<rect x="206.25" y="408.38" width="4.60" height="4.60" fill="#0000e0"/>
<rect x="208.23" y="410.18" width="4.60" height="4.60" fill="#0000e0"/>
<rect x="210.22" y="412.17" width="4.60" height="4.60" fill="#0000e0"/>
<rect x="212.20" y="414.94" width="4.60" height="4.60" fill="#0000e0"/>
<rect x="214.19" y="419.65" width="4.60" height="4.60" fill="#0000e0"/>
<rect x="216.17" y="423.45" width="4.60" height="4.60" fill="#0000e0"/>
<rect x="218.95" y="427.07" width="4.60" height="4.60" fill="#0000e0"/>
<rect x="221.73" y="430.02" width="4.60" height="4.60" fill="#0000e0"/>
<rect x="224.50" y="432.56" width="4.60" height="4.60" fill="#0000e0"/>
<rect x="227.28" y="434.46" width="4.60" height="4.60" fill="#0000e0"/>
<rect x="230.06" y="435.80" width="4.60" height="4.60" fill="#0000e0"/>
<rect x="232.84" y="436.88" width="4.60" height="4.60" fill="#0000e0"/>
<rect x="237.00" y="438.30" width="4.60" height="4.60" fill="#0000e0"/>
<rect x="241.17" y="439.53" width="4.60" height="4.60" fill="#0000e0"/>
<rect x="245.34" y="440.71" width="4.60" height="4.60" fill="#0000e0"/>
<rect x="249.50" y="441.99" width="4.60" height="4.60" fill="#0000e0"/>
<rect x="253.67" y="443.28" width="4.60" height="4.60" fill="#0000e0"/>
<rect x="257.84" y="444.52" width="4.60" height="4.60" fill="#0000e0"/>
<rect x="262.00" y="445.75" width="4.60" height="4.60" fill="#0000e0"/>
<rect x="266.17" y="447.03" width="4.60" height="4.60" fill="#0000e0"/>
<rect x="270.34" y="448.32" width="4.60" height="4.60" fill="#0000e0"/>
<rect x="274.50" y="449.49" width="4.60" height="4.60" fill="#0000e0"/>
<rect x="278.67" y="450.59" width="4.60" height="4.60" fill="#0000e0"/>
<rect x="282.84" y="451.53" width="4.60" height="4.60" fill="#0000e0"/>
<rect x="287.00" y="452.23" width="4.60" height="4.60" fill="#0000e0"/>
<rect x="287.50" y="452.30" width="4.60" height="4.60" fill="#0000e0"/>
<path d="M52.0 492.9 L52.4 492.9 L52.8 492.9 L53.2 492.9 L53.6 492.9 L54.0 492.8 L54.4 492.8 L54.8 492.8 L55.2 492.8 L55.6 492.7 L56.0 492.7 L56.4 492.7 L56.8 492.6 L57.2 492.6 L57.6 492.5 L58.0 492.5 L58.4 492.4 L58.8 492.4 L59.2 492.3 L59.6 492.3 L60.0 492.2 L60.4 492.1 L60.8 492.0 L61.2 491.9 L61.6 491.8 L62.0 491.7 L62.4 491.6 L62.8 491.5 L63.2 491.4 L63.6 491.2 L64.0 491.1 L64.4 491.0 L64.8 490.8 L65.2 490.7 L65.6 490.6 L66.0 490.5 L66.4 490.4 L66.8 490.2 L67.2 490.1 L67.6 490.0 L68.0 489.9 L68.4 489.8 L68.8 489.7 L69.2 489.6 L69.6 489.5 L70.0 489.3 L70.4 489.2 L70.8 489.1 L71.2 489.0 L71.6 488.9 L72.0 488.8 L72.4 488.6 L72.8 488.5 L73.2 488.4 L73.6 488.3 L74.0 488.2 L74.4 488.1 L74.8 488.0 L75.2 487.9 L75.6 487.7 L76.0 487.6 L76.4 487.5 L76.8 487.4 L77.2 487.3 L77.6 487.2 L78.0 487.1 L78.4 487.0 L78.8 486.9 L79.2 486.8 L79.6 486.7 L80.0 486.6 L80.4 486.4 L80.8 486.3 L81.2 486.2 L81.6 486.1 L82.0 485.9 L82.4 485.8 L82.8 485.6 L83.2 485.5 L83.6 485.3 L84.0 485.2 L84.4 485.0 L84.8 484.8 L85.2 484.6 L85.6 484.4 L86.0 484.2 L86.4 484.0 L86.8 483.9 L87.2 483.7 L87.6 483.5 L88.0 483.3 L88.4 483.1 L88.8 482.9 L89.2 482.8 L89.6 482.6 L90.0 482.5 L90.4 482.3 L90.8 482.2 L91.2 482.0 L91.6 481.9 L92.0 481.8 L92.4 481.6 L92.8 481.5 L93.2 481.4 L93.6 481.2 L94.0 481.1 L94.4 481.0 L94.8 480.9 L95.2 480.7 L95.6 480.6 L96.0 480.5 L96.4 480.4 L96.8 480.2 L97.2 480.1 L97.6 479.9 L98.0 479.8 L98.4 479.6 L98.8 479.5 L99.2 479.3 L99.6 479.2 L100.0 479.0 L100.4 478.9 L100.8 478.7 L101.2 478.6 L101.6 478.4 L102.0 478.3 L102.4 478.1 L102.8 477.9 L103.2 477.8 L103.6 477.6 L104.0 477.4 L104.4 477.3 L104.8 477.1 L105.2 476.9 L105.6 476.8 L106.0 476.6 L106.4 476.4 L106.8 476.2 L107.2 476.1 L107.6 475.9 L108.0 475.7 L108.4 475.5 L108.8 475.4 L109.2 475.2 L109.6 475.0 L110.0 474.8 L110.4 474.6 L110.8 474.4 L111.2 474.3 L111.6 474.1 L112.0 473.9 L112.4 473.7 L112.8 473.5 L113.2 473.3 L113.6 473.0 L114.0 472.8 L114.4 472.6 L114.8 472.4 L115.2 472.1 L115.6 471.9 L116.0 471.6 L116.4 471.4 L116.8 471.1 L117.2 470.8 L117.6 470.6 L118.0 470.3 L118.4 470.1 L118.8 469.8 L119.2 469.6 L119.6 469.3 L120.0 469.1 L120.4 468.9 L120.8 468.7 L121.2 468.5 L121.6 468.3 L122.0 468.1 L122.4 467.9 L122.8 467.6 L123.2 467.4 L123.6 467.2 L124.0 467.0 L124.4 466.8 L124.8 466.6 L125.2 466.4 L125.6 466.2 L126.0 466.0 L126.4 465.9 L126.8 465.7 L127.2 465.6 L127.6 465.5 L128.0 465.5 L128.4 465.4 L128.8 465.4 L129.2 465.4 L129.6 465.5 L130.0 465.5 L130.4 465.6 L130.8 465.7 L131.2 465.8 L131.6 466.0 L132.0 466.1 L132.4 466.2 L132.8 466.3 L133.2 466.4 L133.6 466.4 L134.0 466.5 L134.4 466.6 L134.8 466.6 L135.2 466.7 L135.6 466.8 L136.0 466.8 L136.4 466.9 L136.8 467.0 L137.2 467.0 L137.6 467.1 L138.0 467.2 L138.4 467.3 L138.8 467.3 L139.2 467.4 L139.6 467.5 L140.0 467.6 L140.4 467.7 L140.8 467.9 L141.2 468.0 L141.6 468.2 L142.0 468.4 L142.4 468.6 L142.8 468.9 L143.2 469.2 L143.6 469.5 L144.0 469.8 L144.4 470.1 L144.8 470.5 L145.2 470.9 L145.6 471.2 L146.0 471.6 L146.4 471.9 L146.8 472.3 L147.2 472.7 L147.6 473.0 L148.0 473.4 L148.4 473.8 L148.8 474.2 L149.2 474.6 L149.6 475.0 L150.0 475.5 L150.4 475.9 L150.8 476.4 L151.2 476.8 L151.6 477.3 L152.0 477.8 L152.4 478.4 L152.8 478.9 L153.2 479.5 L153.6 480.0 L154.0 480.6 L154.4 481.3 L154.8 481.9 L155.2 482.6 L155.6 483.4 L156.0 484.2 L156.4 485.0 L156.8 485.9 L157.2 486.9 L157.6 488.1 L158.0 489.4 L158.4 490.7 L158.8 492.2 L159.2 493.7 L159.6 495.2 L160.0 496.6 L160.4 498.1 L160.8 499.6 L161.2 501.2 L161.6 503.0 L162.0 504.9 L162.4 507.0 L162.8 509.6 L163.2 512.5 L163.6 515.6 L164.0 518.9 L164.4 522.2 L164.8 525.9 L165.2 529.8 L165.6 533.8 L166.0 537.7 L166.4 541.4 L166.8 545.7 L167.2 550.1 L167.6 553.8 L168.0 556.4 L168.4 557.0 L168.8 557.0 L169.2 557.0 L169.6 557.0 L170.0 557.0 L170.4 557.0 L170.8 557.0 L171.2 557.0 L171.6 557.0 L172.0 557.0 L172.4 555.4 L172.8 551.4 L173.2 546.4 L173.6 538.8 L174.0 529.6 L174.4 523.2 L174.8 518.1 L175.2 513.7 L175.6 509.8 L176.0 506.2 L176.4 502.6 L176.8 499.2 L177.2 496.2 L177.6 493.7 L178.0 492.0 L178.4 490.8 L178.8 489.8 L179.2 488.9 L179.6 488.1 L180.0 487.4 L180.4 486.8 L180.8 486.2 L181.2 485.7 L181.6 485.1 L182.0 484.5 L182.4 483.9 L182.8 483.3 L183.2 482.7 L183.6 482.2 L184.0 481.6 L184.4 481.1 L184.8 480.6 L185.2 480.1 L185.6 479.6 L186.0 479.1 L186.4 478.7 L186.8 478.2 L187.2 477.8 L187.6 477.4 L188.0 477.0 L188.4 476.6 L188.8 476.2 L189.2 475.9 L189.6 475.5 L190.0 475.2 L190.4 474.8 L190.8 474.5 L191.2 474.2 L191.6 473.9 L192.0 473.5 L192.4 473.2 L192.8 472.9 L193.2 472.7 L193.6 472.4 L194.0 472.1 L194.4 471.9 L194.8 471.6 L195.2 471.4 L195.6 471.1 L196.0 470.9 L196.4 470.7 L196.8 470.5 L197.2 470.2 L197.6 470.0 L198.0 469.8 L198.4 469.6 L198.8 469.4 L199.2 469.2 L199.6 469.0 L200.0 468.8 L200.4 468.6 L200.8 468.4 L201.2 468.3 L201.6 468.1 L202.0 468.0 L202.4 467.8 L202.8 467.7 L203.2 467.6 L203.6 467.6 L204.0 467.5 L204.4 467.4 L204.8 467.4 L205.2 467.3 L205.6 467.2 L206.0 467.2 L206.4 467.1 L206.8 467.1 L207.2 467.0 L207.6 467.0 L208.0 467.0 L208.4 466.9 L208.8 466.9 L209.2 466.9 L209.6 466.9 L210.0 466.9 L210.4 466.9 L210.8 467.0 L211.2 467.0 L211.6 467.1 L212.0 467.2 L212.4 467.4 L212.8 467.5 L213.2 467.6 L213.6 467.8 L214.0 468.0 L214.4 468.2 L214.8 468.4 L215.2 468.6 L215.6 468.8 L216.0 469.0 L216.4 469.2 L216.8 469.4 L217.2 469.6 L217.6 469.8 L218.0 469.9 L218.4 470.1 L218.8 470.3 L219.2 470.5 L219.6 470.8 L220.0 471.0 L220.4 471.2 L220.8 471.5 L221.2 471.7 L221.6 472.0 L222.0 472.2 L222.4 472.5 L222.8 472.7 L223.2 473.0 L223.6 473.2 L224.0 473.5 L224.4 473.8 L224.8 474.0 L225.2 474.3 L225.6 474.5 L226.0 474.8 L226.4 475.0 L226.8 475.3 L227.2 475.5 L227.6 475.7 L228.0 476.0 L228.4 476.2 L228.8 476.4 L229.2 476.6 L229.6 476.8 L230.0 477.0 L230.4 477.3 L230.8 477.5 L231.2 477.7 L231.6 477.9 L232.0 478.1 L232.4 478.3 L232.8 478.5 L233.2 478.7 L233.6 478.9 L234.0 479.1 L234.4 479.3 L234.8 479.5 L235.2 479.7 L235.6 479.9 L236.0 480.1 L236.4 480.3 L236.8 480.4 L237.2 480.6 L237.6 480.8 L238.0 480.9 L238.4 481.1 L238.8 481.3 L239.2 481.4 L239.6 481.6 L240.0 481.7 L240.4 481.9 L240.8 482.0 L241.2 482.2 L241.6 482.3 L242.0 482.4 L242.4 482.6 L242.8 482.7 L243.2 482.8 L243.6 483.0 L244.0 483.1 L244.4 483.2 L244.8 483.4 L245.2 483.5 L245.6 483.6 L246.0 483.7 L246.4 483.9 L246.8 484.0 L247.2 484.1 L247.6 484.2 L248.0 484.3 L248.4 484.5 L248.8 484.6 L249.2 484.7 L249.6 484.8 L250.0 484.9 L250.4 485.0 L250.8 485.2 L251.2 485.3 L251.6 485.4 L252.0 485.5 L252.4 485.6 L252.8 485.7 L253.2 485.8 L253.6 485.9 L254.0 486.0 L254.4 486.1 L254.8 486.2 L255.2 486.3 L255.6 486.4 L256.0 486.5 L256.4 486.6 L256.8 486.7 L257.2 486.8 L257.6 486.9 L258.0 487.0 L258.4 487.1 L258.8 487.2 L259.2 487.3 L259.6 487.4 L260.0 487.5 L260.4 487.6 L260.8 487.7 L261.2 487.7 L261.6 487.8 L262.0 487.9 L262.4 488.0 L262.8 488.1 L263.2 488.2 L263.6 488.3 L264.0 488.4 L264.4 488.4 L264.8 488.5 L265.2 488.6 L265.6 488.7 L266.0 488.8 L266.4 488.9 L266.8 488.9 L267.2 489.0 L267.6 489.1 L268.0 489.2 L268.4 489.3 L268.8 489.3 L269.2 489.4 L269.6 489.5 L270.0 489.6 L270.4 489.6 L270.8 489.7 L271.2 489.8 L271.6 489.9 L272.0 490.0 L272.4 490.0 L272.8 490.1 L273.2 490.2 L273.6 490.3 L274.0 490.3 L274.4 490.4 L274.8 490.5 L275.2 490.6 L275.6 490.6 L276.0 490.7 L276.4 490.8 L276.8 490.9 L277.2 491.0 L277.6 491.0 L278.0 491.1 L278.4 491.2 L278.8 491.3 L279.2 491.3 L279.6 491.4 L280.0 491.5 L280.4 491.6 L280.8 491.7 L281.2 491.7 L281.6 491.8 L282.0 491.9 L282.4 492.0 L282.8 492.0 L283.2 492.1 L283.6 492.2 L284.0 492.2 L284.4 492.3 L284.8 492.4 L285.2 492.5 L285.6 492.5 L286.0 492.6 L286.4 492.7 L286.8 492.7 L287.2 492.8 L287.6 492.9 L288.0 492.9 L288.4 493.0 L288.8 493.1 L289.2 493.1 L289.6 493.2 L289.8 493.2" fill="none" stroke="#e40000" stroke-width="1.25" stroke-linejoin="round"/>
<path d="M49.50 495.10L52.00 490.70L54.50 495.10Z" fill="#e40000"/>
<path d="M50.69 495.08L53.19 490.68L55.69 495.08Z" fill="#e40000"/>
<path d="M54.86 494.76L57.36 490.36L59.86 494.76Z" fill="#e40000"/>
<path d="M59.02 494.05L61.52 489.65L64.02 494.05Z" fill="#e40000"/>
<path d="M63.19 492.77L65.69 488.37L68.19 492.77Z" fill="#e40000"/>
<path d="M67.36 491.58L69.86 487.18L72.36 491.58Z" fill="#e40000"/>
<path d="M71.52 490.38L74.02 485.98L76.52 490.38Z" fill="#e40000"/>
<path d="M75.69 489.26L78.19 484.86L80.69 489.26Z" fill="#e40000"/>
<path d="M79.86 488.01L82.36 483.61L84.86 488.01Z" fill="#e40000"/>
<path d="M84.02 486.19L86.52 481.79L89.02 486.19Z" fill="#e40000"/>
<path d="M88.19 484.41L90.69 480.01L93.19 484.41Z" fill="#e40000"/>
<path d="M92.36 483.05L94.86 478.65L97.36 483.05Z" fill="#e40000"/>
<path d="M96.52 481.61L99.02 477.21L101.52 481.61Z" fill="#e40000"/>
<path d="M100.69 479.97L103.19 475.57L105.69 479.97Z" fill="#e40000"/>
<path d="M104.86 478.20L107.36 473.80L109.86 478.20Z" fill="#e40000"/>
<path d="M108.03 476.77L110.53 472.37L113.03 476.77Z" fill="#e40000"/>
<path d="M111.21 475.18L113.71 470.78L116.21 475.18Z" fill="#e40000"/>
<path d="M114.38 473.24L116.88 468.84L119.38 473.24Z" fill="#e40000"/>
<path d="M117.56 471.29L120.06 466.89L122.56 471.29Z" fill="#e40000"/>
<path d="M120.73 469.61L123.23 465.21L125.73 469.61Z" fill="#e40000"/>
<path d="M122.71 468.57L125.21 464.17L127.71 468.57Z" fill="#e40000"/>
<path d="M124.70 467.82L127.20 463.42L129.70 467.82Z" fill="#e40000"/>
<path d="M126.68 467.62L129.18 463.22L131.68 467.62Z" fill="#e40000"/>
<path d="M128.67 468.03L131.17 463.63L133.67 468.03Z" fill="#e40000"/>
<path d="M130.65 468.55L133.15 464.15L135.65 468.55Z" fill="#e40000"/>
<path d="M132.63 468.90L135.13 464.50L137.63 468.90Z" fill="#e40000"/>
<path d="M134.62 469.22L137.12 464.82L139.62 469.22Z" fill="#e40000"/>
<path d="M136.60 469.61L139.10 465.21L141.60 469.61Z" fill="#e40000"/>
<path d="M138.59 470.17L141.09 465.77L143.59 470.17Z" fill="#e40000"/>
<path d="M140.57 471.28L143.07 466.88L145.57 471.28Z" fill="#e40000"/>
<path d="M142.56 472.92L145.06 468.52L147.56 472.92Z" fill="#e40000"/>
<path d="M144.54 474.71L147.04 470.31L149.54 474.71Z" fill="#e40000"/>
<path d="M146.52 476.62L149.02 472.22L151.52 476.62Z" fill="#e40000"/>
<path d="M148.51 478.81L151.01 474.41L153.51 478.81Z" fill="#e40000"/>
<path d="M150.49 481.37L152.99 476.97L155.49 481.37Z" fill="#e40000"/>
<path d="M152.48 484.43L154.98 480.03L157.48 484.43Z" fill="#e40000"/>
<path d="M154.46 488.49L156.96 484.09L159.46 488.49Z" fill="#e40000"/>
<path d="M156.44 494.91L158.94 490.51L161.44 494.91Z" fill="#e40000"/>
<path d="M158.43 502.33L160.93 497.93L163.43 502.33Z" fill="#e40000"/>
<path d="M160.41 512.58L162.91 508.18L165.41 512.58Z" fill="#e40000"/>
<path d="M162.40 529.06L164.90 524.66L167.40 529.06Z" fill="#e40000"/>
<path d="M164.38 548.80L166.88 544.40L169.38 548.80Z" fill="#e40000"/>
<path d="M166.37 559.20L168.87 554.80L171.37 559.20Z" fill="#e40000"/>
<path d="M168.35 559.20L170.85 554.80L173.35 559.20Z" fill="#e40000"/>
<path d="M170.33 553.16L172.83 548.76L175.33 553.16Z" fill="#e40000"/>
<path d="M172.32 520.07L174.82 515.67L177.32 520.07Z" fill="#e40000"/>
<path d="M174.30 501.39L176.80 496.99L179.30 501.39Z" fill="#e40000"/>
<path d="M176.29 492.03L178.79 487.63L181.29 492.03Z" fill="#e40000"/>
<path d="M178.27 488.46L180.77 484.06L183.27 488.46Z" fill="#e40000"/>
<path d="M180.25 485.58L182.75 481.18L185.25 485.58Z" fill="#e40000"/>
<path d="M182.24 482.86L184.74 478.46L187.24 482.86Z" fill="#e40000"/>
<path d="M184.22 480.51L186.72 476.11L189.22 480.51Z" fill="#e40000"/>
<path d="M186.21 478.53L188.71 474.13L191.21 478.53Z" fill="#e40000"/>
<path d="M188.19 476.79L190.69 472.39L193.19 476.79Z" fill="#e40000"/>
<path d="M190.18 475.24L192.68 470.84L195.18 475.24Z" fill="#e40000"/>
<path d="M192.16 473.89L194.66 469.49L197.16 473.89Z" fill="#e40000"/>
<path d="M194.14 472.74L196.64 468.34L199.14 472.74Z" fill="#e40000"/>
<path d="M196.13 471.67L198.63 467.27L201.13 471.67Z" fill="#e40000"/>
<path d="M198.11 470.71L200.61 466.31L203.11 470.71Z" fill="#e40000"/>
<path d="M200.10 469.99L202.60 465.59L205.10 469.99Z" fill="#e40000"/>
<path d="M202.08 469.59L204.58 465.19L207.08 469.59Z" fill="#e40000"/>
<path d="M204.06 469.32L206.56 464.92L209.06 469.32Z" fill="#e40000"/>
<path d="M206.05 469.14L208.55 464.74L211.05 469.14Z" fill="#e40000"/>
<path d="M208.03 469.13L210.53 464.73L213.03 469.13Z" fill="#e40000"/>
<path d="M210.02 469.59L212.52 465.19L215.02 469.59Z" fill="#e40000"/>
<path d="M212.00 470.42L214.50 466.02L217.00 470.42Z" fill="#e40000"/>
<path d="M213.99 471.41L216.49 467.01L218.99 471.41Z" fill="#e40000"/>
<path d="M215.97 472.37L218.47 467.97L220.97 472.37Z" fill="#e40000"/>
<path d="M219.14 474.19L221.64 469.79L224.14 474.19Z" fill="#e40000"/>
<path d="M222.32 476.24L224.82 471.84L227.32 476.24Z" fill="#e40000"/>
<path d="M225.49 478.15L227.99 473.75L230.49 478.15Z" fill="#e40000"/>
<path d="M228.67 479.87L231.17 475.47L233.67 479.87Z" fill="#e40000"/>
<path d="M231.84 481.50L234.34 477.10L236.84 481.50Z" fill="#e40000"/>
<path d="M236.01 483.34L238.51 478.94L241.01 483.34Z" fill="#e40000"/>
<path d="M240.18 484.87L242.68 480.47L245.18 484.87Z" fill="#e40000"/>
<path d="M244.34 486.20L246.84 481.80L249.34 486.20Z" fill="#e40000"/>
<path d="M248.51 487.41L251.01 483.01L253.51 487.41Z" fill="#e40000"/>
<path d="M252.68 488.51L255.18 484.11L257.68 488.51Z" fill="#e40000"/>
<path d="M256.84 489.52L259.34 485.12L261.84 489.52Z" fill="#e40000"/>
<path d="M261.01 490.45L263.51 486.05L266.01 490.45Z" fill="#e40000"/>
<path d="M265.18 491.31L267.68 486.91L270.18 491.31Z" fill="#e40000"/>
<path d="M269.34 492.12L271.84 487.72L274.34 492.12Z" fill="#e40000"/>
<path d="M273.51 492.93L276.01 488.53L278.51 492.93Z" fill="#e40000"/>
<path d="M277.68 493.74L280.18 489.34L282.68 493.74Z" fill="#e40000"/>
<path d="M281.84 494.51L284.34 490.11L286.84 494.51Z" fill="#e40000"/>
<path d="M286.01 495.21L288.51 490.81L291.01 495.21Z" fill="#e40000"/>
<path d="M287.30 495.40L289.80 491.00L292.30 495.40Z" fill="#e40000"/>
<text x="66.3" y="344.5" class="pl">(c)</text>
<path d="M220.1 336.70H243.2" stroke="#000" stroke-width="1.6"/>
<circle cx="231.65" cy="336.70" r="2.12" fill="#000"/>
<text x="245.7" y="340.40" class="lg" fill="#000" textLength="42.7" lengthAdjust="spacingAndGlyphs">30 wt % IL</text>
<path d="M220.1 347.45H243.2" stroke="#0000e0" stroke-width="1.6"/>
<rect x="229.69" y="345.50" width="3.91" height="3.91" fill="#0000e0"/>
<text x="245.7" y="351.15" class="lg" fill="#0000e0" textLength="42.7" lengthAdjust="spacingAndGlyphs">20 wt % IL</text>
<path d="M220.1 358.20H243.2" stroke="#e40000" stroke-width="1.6"/>
<path d="M229.52 360.07L231.65 356.33L233.77 360.07Z" fill="#e40000"/>
<text x="245.7" y="361.90" class="lg" fill="#e40000" textLength="37.3" lengthAdjust="spacingAndGlyphs">5 wt % IL</text>
<text x="234" y="384" class="fq">f=90 kHz</text>
<text x="133.24" y="592.00" class="axx">H</text>
<text x="144.64" y="600.30" class="subx">dc</text>
<text x="160.78" y="592.20" class="axx">(Oe)</text>
<text transform="translate(16.40,469.55) rotate(-90)" class="ax">(mV/cm.Oe)</text>
<text transform="translate(17.30,493.35) rotate(-90)" class="alpha">α</text>
<text transform="translate(24.40,483.45) rotate(-90)" class="sub">MI</text>
<rect x="369.80" y="317.10" width="241.20" height="241.30" fill="none" stroke="#474747" stroke-width="1.45" stroke-linejoin="round"/>
<text x="362.50" y="561.00" text-anchor="end" class="t">0</text>
<path d="M369.80 510.14h4.0M611.00 510.14h-4.0" stroke="#3a3a3a" stroke-width="1"/>
<text x="362.50" y="512.74" text-anchor="end" class="t">50</text>
<path d="M369.80 461.88h4.0M611.00 461.88h-4.0" stroke="#3a3a3a" stroke-width="1"/>
<text x="362.50" y="464.48" text-anchor="end" class="t">100</text>
<path d="M369.80 413.62h4.0M611.00 413.62h-4.0" stroke="#3a3a3a" stroke-width="1"/>
<text x="362.50" y="416.22" text-anchor="end" class="t">150</text>
<path d="M369.80 365.36h4.0M611.00 365.36h-4.0" stroke="#3a3a3a" stroke-width="1"/>
<text x="362.50" y="367.96" text-anchor="end" class="t">200</text>
<text x="362.50" y="319.70" text-anchor="end" class="t">250</text>
<text x="369.50" y="572.90" text-anchor="middle" class="t">-30</text>
<path d="M410.00 558.40v-4.0" stroke="#3a3a3a" stroke-width="1"/>
<text x="409.70" y="572.90" text-anchor="middle" class="t">-20</text>
<path d="M450.20 558.40v-4.0" stroke="#3a3a3a" stroke-width="1"/>
<text x="449.90" y="572.90" text-anchor="middle" class="t">-10</text>
<path d="M490.40 558.40v-4.0" stroke="#3a3a3a" stroke-width="1"/>
<text x="490.10" y="572.90" text-anchor="middle" class="t">0</text>
<path d="M530.60 558.40v-4.0" stroke="#3a3a3a" stroke-width="1"/>
<text x="530.30" y="572.90" text-anchor="middle" class="t">10</text>
<path d="M570.80 558.40v-4.0" stroke="#3a3a3a" stroke-width="1"/>
<text x="570.50" y="572.90" text-anchor="middle" class="t">20</text>
<text x="610.70" y="572.90" text-anchor="middle" class="t">30</text>
<path d="M370.0 438.5 L370.4 438.5 L370.8 438.4 L371.2 438.3 L371.6 438.3 L372.0 438.2 L372.4 438.1 L372.8 438.0 L373.2 437.9 L373.6 437.8 L374.0 437.7 L374.4 437.6 L374.8 437.5 L375.2 437.4 L375.6 437.3 L376.0 437.1 L376.4 437.0 L376.8 436.9 L377.2 436.7 L377.6 436.6 L378.0 436.5 L378.4 436.4 L378.8 436.3 L379.2 436.1 L379.6 436.0 L380.0 435.9 L380.4 435.8 L380.8 435.7 L381.2 435.6 L381.6 435.5 L382.0 435.3 L382.4 435.2 L382.8 435.1 L383.2 435.0 L383.6 434.9 L384.0 434.8 L384.4 434.7 L384.8 434.5 L385.2 434.4 L385.6 434.3 L386.0 434.2 L386.4 434.1 L386.8 434.0 L387.2 433.9 L387.6 433.8 L388.0 433.6 L388.4 433.5 L388.8 433.4 L389.2 433.3 L389.6 433.2 L390.0 433.1 L390.4 433.0 L390.8 432.9 L391.2 432.7 L391.6 432.6 L392.0 432.5 L392.4 432.4 L392.8 432.3 L393.2 432.1 L393.6 432.0 L394.0 431.9 L394.4 431.7 L394.8 431.6 L395.2 431.5 L395.6 431.3 L396.0 431.2 L396.4 431.1 L396.8 430.9 L397.2 430.8 L397.6 430.6 L398.0 430.5 L398.4 430.4 L398.8 430.2 L399.2 430.1 L399.6 429.9 L400.0 429.8 L400.4 429.6 L400.8 429.5 L401.2 429.3 L401.6 429.2 L402.0 429.0 L402.4 428.9 L402.8 428.7 L403.2 428.6 L403.6 428.4 L404.0 428.2 L404.4 428.1 L404.8 427.9 L405.2 427.8 L405.6 427.6 L406.0 427.4 L406.4 427.3 L406.8 427.1 L407.2 426.9 L407.6 426.8 L408.0 426.6 L408.4 426.4 L408.8 426.2 L409.2 426.1 L409.6 425.9 L410.0 425.7 L410.4 425.5 L410.8 425.4 L411.2 425.2 L411.6 425.0 L412.0 424.8 L412.4 424.7 L412.8 424.5 L413.2 424.3 L413.6 424.1 L414.0 423.9 L414.4 423.7 L414.8 423.4 L415.2 423.2 L415.6 423.0 L416.0 422.7 L416.4 422.5 L416.8 422.2 L417.2 421.9 L417.6 421.6 L418.0 421.3 L418.4 420.9 L418.8 420.6 L419.2 420.3 L419.6 419.9 L420.0 419.5 L420.4 419.2 L420.8 418.8 L421.2 418.4 L421.6 418.1 L422.0 417.7 L422.4 417.4 L422.8 417.0 L423.2 416.7 L423.6 416.3 L424.0 415.9 L424.4 415.6 L424.8 415.2 L425.2 414.8 L425.6 414.4 L426.0 414.0 L426.4 413.5 L426.8 413.0 L427.2 412.5 L427.6 411.9 L428.0 411.3 L428.4 410.6 L428.8 409.9 L429.2 409.1 L429.6 408.4 L430.0 407.7 L430.4 407.0 L430.8 406.4 L431.2 405.7 L431.6 405.0 L432.0 404.3 L432.4 403.6 L432.8 402.9 L433.2 402.2 L433.6 401.5 L434.0 400.7 L434.4 400.0 L434.8 399.3 L435.2 398.5 L435.6 397.8 L436.0 397.1 L436.4 396.3 L436.8 395.5 L437.2 394.6 L437.6 393.6 L438.0 392.6 L438.4 391.5 L438.8 390.1 L439.2 388.6 L439.6 387.1 L440.0 385.5 L440.4 384.0 L440.8 382.5 L441.2 381.2 L441.6 380.0 L442.0 378.9 L442.4 377.9 L442.8 376.8 L443.2 375.8 L443.6 374.7 L444.0 373.6 L444.4 372.5 L444.8 371.3 L445.2 370.1 L445.6 368.9 L446.0 367.6 L446.4 366.3 L446.8 365.1 L447.2 363.9 L447.6 362.5 L448.0 361.0 L448.4 359.4 L448.8 357.2 L449.2 354.3 L449.6 351.5 L450.0 349.5 L450.4 348.0 L450.8 346.6 L451.2 345.5 L451.6 344.5 L452.0 343.8 L452.4 343.2 L452.8 342.6 L453.2 342.1 L453.6 341.6 L454.0 341.1 L454.4 340.7 L454.8 340.4 L455.2 340.2 L455.6 340.0 L456.0 340.0 L456.4 340.1 L456.8 340.4 L457.2 340.7 L457.6 341.2 L458.0 341.8 L458.4 342.4 L458.8 343.1 L459.2 343.8 L459.6 344.5 L460.0 345.2 L460.4 346.0 L460.8 346.9 L461.2 348.0 L461.6 349.2 L462.0 350.4 L462.4 351.6 L462.8 352.9 L463.2 354.3 L463.6 355.8 L464.0 357.3 L464.4 358.9 L464.8 360.5 L465.2 362.0 L465.6 363.6 L466.0 365.3 L466.4 367.1 L466.8 368.9 L467.2 370.9 L467.6 373.0 L468.0 375.2 L468.4 377.5 L468.8 379.9 L469.2 382.3 L469.6 384.8 L470.0 387.3 L470.4 390.0 L470.8 392.9 L471.2 396.2 L471.6 399.8 L472.0 403.4 L472.4 406.9 L472.8 410.1 L473.2 413.2 L473.6 416.2 L474.0 419.2 L474.4 422.2 L474.8 425.2 L475.2 428.1 L475.6 431.0 L476.0 434.0 L476.4 437.3 L476.8 440.9 L477.2 445.0 L477.6 449.4 L478.0 453.8 L478.4 457.9 L478.8 461.5 L479.2 464.8 L479.6 467.9 L480.0 471.2 L480.4 474.8 L480.8 478.9 L481.2 484.1 L481.6 490.2 L482.0 496.6 L482.4 502.7 L482.8 508.5 L483.2 514.5 L483.6 520.2 L484.0 525.5 L484.4 529.8 L484.8 533.5 L485.2 537.0 L485.6 540.1 L486.0 542.9 L486.4 545.4 L486.8 547.4 L487.2 549.0 L487.6 550.7 L488.0 552.2 L488.4 553.7 L488.8 555.0 L489.2 556.1 L489.6 556.9 L490.0 557.5 L490.4 557.8 L490.8 557.5 L491.2 556.5 L491.6 554.8 L492.0 552.7 L492.4 550.3 L492.8 547.8 L493.2 544.9 L493.6 541.2 L494.0 536.8 L494.4 531.9 L494.8 526.6 L495.2 519.8 L495.6 511.9 L496.0 504.0 L496.4 497.0 L496.8 491.1 L497.2 485.6 L497.6 480.5 L498.0 475.6 L498.4 470.9 L498.8 466.4 L499.2 462.0 L499.6 457.9 L500.0 453.9 L500.4 450.0 L500.8 446.1 L501.2 442.4 L501.6 439.0 L502.0 436.2 L502.4 434.1 L502.8 431.9 L503.2 428.8 L503.6 424.4 L504.0 419.8 L504.4 415.8 L504.8 412.8 L505.2 410.2 L505.6 407.7 L506.0 405.4 L506.4 402.9 L506.8 400.3 L507.2 397.7 L507.6 395.0 L508.0 392.4 L508.4 389.9 L508.8 387.4 L509.2 384.9 L509.6 382.5 L510.0 380.1 L510.4 377.9 L510.8 375.8 L511.2 373.7 L511.6 371.7 L512.0 369.8 L512.4 367.9 L512.8 366.0 L513.2 364.2 L513.6 362.4 L514.0 360.6 L514.4 358.9 L514.8 357.2 L515.2 355.6 L515.6 354.0 L516.0 352.4 L516.4 350.9 L516.8 349.2 L517.2 347.5 L517.6 346.0 L518.0 345.0 L518.4 344.3 L518.8 343.7 L519.2 343.1 L519.6 342.6 L520.0 342.1 L520.4 341.7 L520.8 341.4 L521.2 341.2 L521.6 341.1 L522.0 341.0 L522.4 341.0 L522.8 341.2 L523.2 341.4 L523.6 341.6 L524.0 342.0 L524.4 342.3 L524.8 342.8 L525.2 343.2 L525.6 343.6 L526.0 344.1 L526.4 344.7 L526.8 345.5 L527.2 346.4 L527.6 347.4 L528.0 348.5 L528.4 349.6 L528.8 350.6 L529.2 351.7 L529.6 352.8 L530.0 354.0 L530.4 355.2 L530.8 356.4 L531.2 357.7 L531.6 358.9 L532.0 360.2 L532.4 361.5 L532.8 362.8 L533.2 364.1 L533.6 365.4 L534.0 366.8 L534.4 368.3 L534.8 369.8 L535.2 371.3 L535.6 372.9 L536.0 374.6 L536.4 376.4 L536.8 378.4 L537.2 380.5 L537.6 382.6 L538.0 384.6 L538.4 386.3 L538.8 387.8 L539.2 389.2 L539.6 390.5 L540.0 391.7 L540.4 392.9 L540.8 394.1 L541.2 395.1 L541.6 396.2 L542.0 397.2 L542.4 398.1 L542.8 399.1 L543.2 399.9 L543.6 400.7 L544.0 401.5 L544.4 402.3 L544.8 403.1 L545.2 403.8 L545.6 404.6 L546.0 405.3 L546.4 406.1 L546.8 406.9 L547.2 407.7 L547.6 408.6 L548.0 409.4 L548.4 410.2 L548.8 411.0 L549.2 411.7 L549.6 412.4 L550.0 413.1 L550.4 413.6 L550.8 414.2 L551.2 414.7 L551.6 415.3 L552.0 415.8 L552.4 416.2 L552.8 416.7 L553.2 417.1 L553.6 417.5 L554.0 417.9 L554.4 418.2 L554.8 418.6 L555.2 418.9 L555.6 419.2 L556.0 419.4 L556.4 419.7 L556.8 420.0 L557.2 420.2 L557.6 420.5 L558.0 420.8 L558.4 421.0 L558.8 421.3 L559.2 421.6 L559.6 421.9 L560.0 422.2 L560.4 422.5 L560.8 422.8 L561.2 423.1 L561.6 423.5 L562.0 423.8 L562.4 424.1 L562.8 424.4 L563.2 424.7 L563.6 424.9 L564.0 425.2 L564.4 425.5 L564.8 425.7 L565.2 426.0 L565.6 426.2 L566.0 426.5 L566.4 426.7 L566.8 426.9 L567.2 427.1 L567.6 427.3 L568.0 427.6 L568.4 427.8 L568.8 428.0 L569.2 428.2 L569.6 428.4 L570.0 428.6 L570.4 428.7 L570.8 428.9 L571.2 429.1 L571.6 429.3 L572.0 429.4 L572.4 429.6 L572.8 429.8 L573.2 429.9 L573.6 430.1 L574.0 430.2 L574.4 430.4 L574.8 430.5 L575.2 430.7 L575.6 430.8 L576.0 431.0 L576.4 431.1 L576.8 431.2 L577.2 431.4 L577.6 431.5 L578.0 431.6 L578.4 431.7 L578.8 431.9 L579.2 432.0 L579.6 432.1 L580.0 432.2 L580.4 432.3 L580.8 432.5 L581.2 432.6 L581.6 432.7 L582.0 432.8 L582.4 432.9 L582.8 433.0 L583.2 433.1 L583.6 433.2 L584.0 433.4 L584.4 433.5 L584.8 433.6 L585.2 433.7 L585.6 433.8 L586.0 433.9 L586.4 434.0 L586.8 434.1 L587.2 434.2 L587.6 434.3 L588.0 434.4 L588.4 434.5 L588.8 434.6 L589.2 434.7 L589.6 434.8 L590.0 434.8 L590.4 434.9 L590.8 435.0 L591.2 435.1 L591.6 435.2 L592.0 435.3 L592.4 435.4 L592.8 435.5 L593.2 435.6 L593.6 435.7 L594.0 435.8 L594.4 435.9 L594.8 436.0 L595.2 436.1 L595.6 436.1 L596.0 436.2 L596.4 436.3 L596.8 436.4 L597.2 436.5 L597.6 436.6 L598.0 436.6 L598.4 436.7 L598.8 436.8 L599.2 436.9 L599.6 437.0 L600.0 437.0 L600.4 437.1 L600.8 437.2 L601.2 437.2 L601.6 437.3 L602.0 437.4 L602.4 437.5 L602.8 437.5 L603.2 437.6 L603.6 437.7 L604.0 437.7 L604.4 437.8 L604.8 437.9 L605.2 437.9 L605.6 438.0 L606.0 438.1 L606.4 438.1 L606.8 438.2 L607.2 438.3 L607.6 438.3 L608.0 438.4 L608.4 438.5 L608.8 438.5 L609.2 438.6 L609.6 438.7 L610.0 438.7 L610.4 438.8 L610.5 438.8" fill="none" stroke="#000" stroke-width="1.45" stroke-linejoin="round"/>
<circle cx="370.00" cy="438.50" r="2.50" fill="#000"/>
<circle cx="372.06" cy="438.19" r="2.50" fill="#000"/>
<circle cx="376.68" cy="436.91" r="2.50" fill="#000"/>
<circle cx="381.30" cy="435.54" r="2.50" fill="#000"/>
<circle cx="385.93" cy="434.22" r="2.50" fill="#000"/>
<circle cx="390.55" cy="432.93" r="2.50" fill="#000"/>
<circle cx="395.17" cy="431.49" r="2.50" fill="#000"/>
<circle cx="399.79" cy="429.85" r="2.50" fill="#000"/>
<circle cx="404.42" cy="428.08" r="2.50" fill="#000"/>
<circle cx="409.04" cy="426.14" r="2.50" fill="#000"/>
<circle cx="413.66" cy="424.04" r="2.50" fill="#000"/>
<circle cx="418.29" cy="421.04" r="2.50" fill="#000"/>
<circle cx="422.91" cy="416.91" r="2.50" fill="#000"/>
<circle cx="427.53" cy="412.01" r="2.50" fill="#000"/>
<circle cx="432.16" cy="404.04" r="2.50" fill="#000"/>
<circle cx="436.38" cy="396.33" r="2.50" fill="#000"/>
<circle cx="440.02" cy="385.47" r="2.50" fill="#000"/>
<circle cx="443.15" cy="375.91" r="2.50" fill="#000"/>
<circle cx="445.86" cy="368.03" r="2.50" fill="#000"/>
<circle cx="448.19" cy="360.26" r="2.50" fill="#000"/>
<circle cx="450.20" cy="348.71" r="2.50" fill="#000"/>
<circle cx="452.21" cy="343.51" r="2.50" fill="#000"/>
<circle cx="454.22" cy="340.88" r="2.50" fill="#000"/>
<circle cx="456.23" cy="340.05" r="2.50" fill="#000"/>
<circle cx="458.24" cy="342.14" r="2.50" fill="#000"/>
<circle cx="460.25" cy="345.67" r="2.50" fill="#000"/>
<circle cx="462.26" cy="351.15" r="2.50" fill="#000"/>
<circle cx="464.27" cy="358.39" r="2.50" fill="#000"/>
<circle cx="466.28" cy="366.52" r="2.50" fill="#000"/>
<circle cx="468.29" cy="376.89" r="2.50" fill="#000"/>
<circle cx="470.30" cy="389.32" r="2.50" fill="#000"/>
<circle cx="472.31" cy="406.15" r="2.50" fill="#000"/>
<circle cx="474.32" cy="421.59" r="2.50" fill="#000"/>
<circle cx="476.33" cy="436.68" r="2.50" fill="#000"/>
<circle cx="478.34" cy="457.32" r="2.50" fill="#000"/>
<circle cx="480.35" cy="474.29" r="2.50" fill="#000"/>
<circle cx="482.36" cy="502.13" r="2.50" fill="#000"/>
<circle cx="484.37" cy="529.51" r="2.50" fill="#000"/>
<circle cx="486.38" cy="545.26" r="2.50" fill="#000"/>
<circle cx="488.39" cy="553.63" r="2.50" fill="#000"/>
<circle cx="490.40" cy="557.79" r="2.50" fill="#000"/>
<circle cx="492.41" cy="550.24" r="2.50" fill="#000"/>
<circle cx="494.42" cy="531.66" r="2.50" fill="#000"/>
<circle cx="496.43" cy="496.54" r="2.50" fill="#000"/>
<circle cx="498.44" cy="470.44" r="2.50" fill="#000"/>
<circle cx="500.45" cy="449.52" r="2.50" fill="#000"/>
<circle cx="502.46" cy="433.75" r="2.50" fill="#000"/>
<circle cx="504.47" cy="415.24" r="2.50" fill="#000"/>
<circle cx="506.48" cy="402.38" r="2.50" fill="#000"/>
<circle cx="508.49" cy="389.34" r="2.50" fill="#000"/>
<circle cx="510.50" cy="377.36" r="2.50" fill="#000"/>
<circle cx="512.51" cy="367.38" r="2.50" fill="#000"/>
<circle cx="514.52" cy="358.39" r="2.50" fill="#000"/>
<circle cx="516.53" cy="350.39" r="2.50" fill="#000"/>
<circle cx="518.54" cy="344.11" r="2.50" fill="#000"/>
<circle cx="520.55" cy="341.62" r="2.50" fill="#000"/>
<circle cx="522.56" cy="341.09" r="2.50" fill="#000"/>
<circle cx="524.57" cy="342.51" r="2.50" fill="#000"/>
<circle cx="526.58" cy="345.07" r="2.50" fill="#000"/>
<circle cx="528.59" cy="350.08" r="2.50" fill="#000"/>
<circle cx="530.60" cy="355.81" r="2.50" fill="#000"/>
<circle cx="532.61" cy="362.16" r="2.50" fill="#000"/>
<circle cx="534.94" cy="370.30" r="2.50" fill="#000"/>
<circle cx="537.65" cy="382.89" r="2.50" fill="#000"/>
<circle cx="540.78" cy="394.01" r="2.50" fill="#000"/>
<circle cx="544.42" cy="402.35" r="2.50" fill="#000"/>
<circle cx="548.64" cy="410.70" r="2.50" fill="#000"/>
<circle cx="553.27" cy="417.19" r="2.50" fill="#000"/>
<circle cx="557.89" cy="420.70" r="2.50" fill="#000"/>
<circle cx="562.51" cy="424.16" r="2.50" fill="#000"/>
<circle cx="567.14" cy="427.09" r="2.50" fill="#000"/>
<circle cx="571.76" cy="429.34" r="2.50" fill="#000"/>
<circle cx="576.38" cy="431.08" r="2.50" fill="#000"/>
<circle cx="581.01" cy="432.53" r="2.50" fill="#000"/>
<circle cx="585.63" cy="433.78" r="2.50" fill="#000"/>
<circle cx="590.25" cy="434.91" r="2.50" fill="#000"/>
<circle cx="594.87" cy="435.98" r="2.50" fill="#000"/>
<circle cx="599.50" cy="436.93" r="2.50" fill="#000"/>
<circle cx="604.12" cy="437.75" r="2.50" fill="#000"/>
<circle cx="608.74" cy="438.52" r="2.50" fill="#000"/>
<circle cx="610.50" cy="438.80" r="2.50" fill="#000"/>
<path d="M370.0 506.8 L370.4 506.7 L370.8 506.6 L371.2 506.5 L371.6 506.5 L372.0 506.4 L372.4 506.3 L372.8 506.2 L373.2 506.1 L373.6 506.0 L374.0 505.9 L374.4 505.8 L374.8 505.7 L375.2 505.6 L375.6 505.5 L376.0 505.5 L376.4 505.4 L376.8 505.3 L377.2 505.2 L377.6 505.1 L378.0 505.0 L378.4 504.9 L378.8 504.8 L379.2 504.7 L379.6 504.6 L380.0 504.5 L380.4 504.4 L380.8 504.3 L381.2 504.2 L381.6 504.1 L382.0 504.0 L382.4 503.8 L382.8 503.7 L383.2 503.6 L383.6 503.5 L384.0 503.4 L384.4 503.2 L384.8 503.1 L385.2 503.0 L385.6 502.9 L386.0 502.8 L386.4 502.7 L386.8 502.6 L387.2 502.5 L387.6 502.4 L388.0 502.3 L388.4 502.3 L388.8 502.2 L389.2 502.2 L389.6 502.1 L390.0 502.1 L390.4 502.0 L390.8 502.0 L391.2 502.0 L391.6 501.9 L392.0 501.9 L392.4 501.9 L392.8 501.9 L393.2 501.8 L393.6 501.8 L394.0 501.8 L394.4 501.8 L394.8 501.7 L395.2 501.7 L395.6 501.7 L396.0 501.7 L396.4 501.6 L396.8 501.6 L397.2 501.6 L397.6 501.6 L398.0 501.5 L398.4 501.5 L398.8 501.4 L399.2 501.4 L399.6 501.4 L400.0 501.3 L400.4 501.2 L400.8 501.2 L401.2 501.1 L401.6 501.0 L402.0 500.9 L402.4 500.8 L402.8 500.7 L403.2 500.5 L403.6 500.4 L404.0 500.3 L404.4 500.1 L404.8 500.0 L405.2 499.8 L405.6 499.7 L406.0 499.5 L406.4 499.4 L406.8 499.3 L407.2 499.1 L407.6 499.0 L408.0 498.8 L408.4 498.7 L408.8 498.5 L409.2 498.3 L409.6 498.2 L410.0 498.0 L410.4 497.8 L410.8 497.7 L411.2 497.5 L411.6 497.3 L412.0 497.1 L412.4 497.0 L412.8 496.8 L413.2 496.6 L413.6 496.5 L414.0 496.3 L414.4 496.2 L414.8 496.0 L415.2 495.9 L415.6 495.7 L416.0 495.6 L416.4 495.4 L416.8 495.3 L417.2 495.1 L417.6 495.0 L418.0 494.8 L418.4 494.6 L418.8 494.5 L419.2 494.3 L419.6 494.1 L420.0 493.9 L420.4 493.7 L420.8 493.5 L421.2 493.3 L421.6 493.1 L422.0 492.8 L422.4 492.6 L422.8 492.3 L423.2 492.1 L423.6 491.8 L424.0 491.5 L424.4 491.3 L424.8 491.0 L425.2 490.7 L425.6 490.4 L426.0 490.0 L426.4 489.7 L426.8 489.3 L427.2 488.9 L427.6 488.5 L428.0 488.1 L428.4 487.7 L428.8 487.2 L429.2 486.8 L429.6 486.4 L430.0 485.9 L430.4 485.5 L430.8 485.1 L431.2 484.7 L431.6 484.2 L432.0 483.8 L432.4 483.4 L432.8 482.9 L433.2 482.5 L433.6 482.1 L434.0 481.6 L434.4 481.2 L434.8 480.7 L435.2 480.2 L435.6 479.8 L436.0 479.3 L436.4 478.8 L436.8 478.3 L437.2 477.9 L437.6 477.4 L438.0 476.9 L438.4 476.4 L438.8 475.8 L439.2 475.3 L439.6 474.8 L440.0 474.3 L440.4 473.8 L440.8 473.3 L441.2 472.7 L441.6 472.2 L442.0 471.6 L442.4 471.0 L442.8 470.4 L443.2 469.8 L443.6 469.2 L444.0 468.6 L444.4 468.0 L444.8 467.4 L445.2 466.8 L445.6 466.3 L446.0 465.9 L446.4 465.5 L446.8 465.1 L447.2 464.8 L447.6 464.5 L448.0 464.1 L448.4 463.8 L448.8 463.5 L449.2 463.2 L449.6 463.0 L450.0 462.7 L450.4 462.4 L450.8 462.2 L451.2 462.0 L451.6 461.8 L452.0 461.7 L452.4 461.5 L452.8 461.4 L453.2 461.3 L453.6 461.3 L454.0 461.2 L454.4 461.1 L454.8 461.1 L455.2 461.0 L455.6 461.0 L456.0 460.9 L456.4 460.9 L456.8 460.9 L457.2 460.8 L457.6 460.8 L458.0 460.8 L458.4 460.7 L458.8 460.7 L459.2 460.7 L459.6 460.7 L460.0 460.7 L460.4 460.7 L460.8 460.7 L461.2 460.7 L461.6 460.7 L462.0 460.8 L462.4 460.8 L462.8 460.8 L463.2 460.9 L463.6 460.9 L464.0 460.9 L464.4 461.0 L464.8 461.0 L465.2 461.1 L465.6 461.1 L466.0 461.2 L466.4 461.3 L466.8 461.3 L467.2 461.5 L467.6 461.7 L468.0 462.0 L468.4 462.3 L468.8 462.7 L469.2 463.1 L469.6 463.5 L470.0 463.9 L470.4 464.4 L470.8 464.8 L471.2 465.4 L471.6 466.0 L472.0 466.6 L472.4 467.4 L472.8 468.1 L473.2 468.9 L473.6 469.8 L474.0 470.7 L474.4 471.5 L474.8 472.5 L475.2 473.4 L475.6 474.4 L476.0 475.5 L476.4 476.7 L476.8 477.9 L477.2 479.3 L477.6 480.9 L478.0 482.8 L478.4 484.8 L478.8 486.9 L479.2 489.0 L479.6 491.0 L480.0 493.1 L480.4 495.2 L480.8 497.4 L481.2 499.9 L481.6 502.7 L482.0 505.9 L482.4 509.4 L482.8 512.9 L483.2 516.7 L483.6 520.9 L484.0 525.0 L484.4 528.8 L484.8 532.2 L485.2 535.5 L485.6 538.5 L486.0 541.5 L486.4 544.3 L486.8 547.3 L487.2 550.0 L487.6 552.0 L488.0 553.6 L488.4 555.1 L488.8 556.3 L489.2 557.2 L489.6 557.7 L490.0 557.7 L490.4 557.6 L490.8 557.6 L491.2 557.2 L491.6 555.6 L492.0 553.1 L492.4 550.0 L492.8 546.0 L493.2 540.1 L493.6 533.8 L494.0 528.8 L494.4 525.3 L494.8 522.2 L495.2 519.4 L495.6 517.0 L496.0 514.6 L496.4 512.4 L496.8 510.3 L497.2 508.4 L497.6 506.6 L498.0 504.8 L498.4 503.1 L498.8 501.4 L499.2 499.8 L499.6 498.3 L500.0 496.8 L500.4 495.2 L500.8 493.4 L501.2 491.4 L501.6 489.1 L502.0 486.8 L502.4 484.7 L502.8 482.9 L503.2 481.4 L503.6 480.1 L504.0 478.9 L504.4 477.6 L504.8 476.2 L505.2 474.5 L505.6 472.7 L506.0 471.0 L506.4 469.4 L506.8 468.4 L507.2 467.5 L507.6 466.7 L508.0 466.0 L508.4 465.3 L508.8 464.7 L509.2 464.1 L509.6 463.6 L510.0 463.2 L510.4 462.8 L510.8 462.5 L511.2 462.2 L511.6 461.9 L512.0 461.6 L512.4 461.4 L512.8 461.1 L513.2 460.9 L513.6 460.7 L514.0 460.5 L514.4 460.3 L514.8 460.2 L515.2 460.1 L515.6 460.0 L516.0 460.0 L516.4 460.0 L516.8 460.0 L517.2 460.0 L517.6 460.0 L518.0 460.0 L518.4 460.0 L518.8 460.0 L519.2 460.0 L519.6 460.0 L520.0 460.0 L520.4 460.0 L520.8 460.0 L521.2 460.0 L521.6 460.0 L522.0 460.0 L522.4 460.0 L522.8 460.0 L523.2 460.0 L523.6 460.1 L524.0 460.1 L524.4 460.2 L524.8 460.3 L525.2 460.4 L525.6 460.5 L526.0 460.6 L526.4 460.8 L526.8 460.9 L527.2 461.1 L527.6 461.3 L528.0 461.4 L528.4 461.6 L528.8 461.8 L529.2 462.0 L529.6 462.1 L530.0 462.4 L530.4 462.6 L530.8 462.9 L531.2 463.2 L531.6 463.6 L532.0 463.9 L532.4 464.3 L532.8 464.7 L533.2 465.1 L533.6 465.5 L534.0 466.0 L534.4 466.4 L534.8 466.8 L535.2 467.3 L535.6 467.8 L536.0 468.3 L536.4 468.8 L536.8 469.4 L537.2 470.0 L537.6 470.6 L538.0 471.2 L538.4 471.8 L538.8 472.4 L539.2 473.0 L539.6 473.6 L540.0 474.1 L540.4 474.7 L540.8 475.3 L541.2 475.9 L541.6 476.5 L542.0 477.1 L542.4 477.8 L542.8 478.4 L543.2 479.0 L543.6 479.6 L544.0 480.2 L544.4 480.7 L544.8 481.3 L545.2 481.9 L545.6 482.4 L546.0 483.0 L546.4 483.5 L546.8 484.0 L547.2 484.6 L547.6 485.1 L548.0 485.6 L548.4 486.1 L548.8 486.6 L549.2 487.1 L549.6 487.6 L550.0 488.0 L550.4 488.4 L550.8 488.8 L551.2 489.1 L551.6 489.5 L552.0 489.8 L552.4 490.2 L552.8 490.5 L553.2 490.8 L553.6 491.1 L554.0 491.4 L554.4 491.6 L554.8 491.9 L555.2 492.2 L555.6 492.4 L556.0 492.7 L556.4 492.9 L556.8 493.1 L557.2 493.3 L557.6 493.6 L558.0 493.8 L558.4 494.0 L558.8 494.2 L559.2 494.4 L559.6 494.5 L560.0 494.7 L560.4 494.9 L560.8 495.1 L561.2 495.3 L561.6 495.5 L562.0 495.6 L562.4 495.8 L562.8 496.0 L563.2 496.2 L563.6 496.3 L564.0 496.5 L564.4 496.7 L564.8 496.9 L565.2 497.0 L565.6 497.2 L566.0 497.4 L566.4 497.5 L566.8 497.7 L567.2 497.8 L567.6 498.0 L568.0 498.1 L568.4 498.3 L568.8 498.5 L569.2 498.6 L569.6 498.8 L570.0 498.9 L570.4 499.1 L570.8 499.2 L571.2 499.4 L571.6 499.5 L572.0 499.7 L572.4 499.8 L572.8 500.0 L573.2 500.1 L573.6 500.3 L574.0 500.4 L574.4 500.6 L574.8 500.7 L575.2 500.8 L575.6 500.9 L576.0 501.0 L576.4 501.1 L576.8 501.2 L577.2 501.3 L577.6 501.4 L578.0 501.4 L578.4 501.5 L578.8 501.5 L579.2 501.6 L579.6 501.6 L580.0 501.7 L580.4 501.7 L580.8 501.8 L581.2 501.8 L581.6 501.9 L582.0 501.9 L582.4 502.0 L582.8 502.0 L583.2 502.1 L583.6 502.2 L584.0 502.3 L584.4 502.4 L584.8 502.4 L585.2 502.5 L585.6 502.6 L586.0 502.7 L586.4 502.8 L586.8 502.9 L587.2 503.0 L587.6 503.1 L588.0 503.2 L588.4 503.2 L588.8 503.3 L589.2 503.4 L589.6 503.5 L590.0 503.6 L590.4 503.7 L590.8 503.7 L591.2 503.8 L591.6 503.9 L592.0 503.9 L592.4 504.0 L592.8 504.1 L593.2 504.1 L593.6 504.2 L594.0 504.2 L594.4 504.3 L594.8 504.3 L595.2 504.4 L595.6 504.4 L596.0 504.5 L596.4 504.6 L596.8 504.6 L597.2 504.7 L597.6 504.7 L598.0 504.8 L598.4 504.8 L598.8 504.8 L599.2 504.9 L599.6 504.9 L600.0 505.0 L600.4 505.0 L600.8 505.1 L601.2 505.1 L601.6 505.2 L602.0 505.2 L602.4 505.3 L602.8 505.3 L603.2 505.3 L603.6 505.4 L604.0 505.4 L604.4 505.5 L604.8 505.5 L605.2 505.5 L605.6 505.6 L606.0 505.6 L606.4 505.7 L606.8 505.7 L607.2 505.7 L607.6 505.8 L608.0 505.8 L608.4 505.8 L608.8 505.9 L609.2 505.9 L609.6 505.9 L610.0 506.0 L610.4 506.0 L610.5 506.0" fill="none" stroke="#0000e0" stroke-width="1.25" stroke-linejoin="round"/>
<rect x="367.70" y="504.50" width="4.60" height="4.60" fill="#0000e0"/>
<rect x="368.10" y="504.41" width="4.60" height="4.60" fill="#0000e0"/>
<rect x="372.32" y="503.47" width="4.60" height="4.60" fill="#0000e0"/>
<rect x="376.54" y="502.48" width="4.60" height="4.60" fill="#0000e0"/>
<rect x="380.77" y="501.34" width="4.60" height="4.60" fill="#0000e0"/>
<rect x="384.99" y="500.18" width="4.60" height="4.60" fill="#0000e0"/>
<rect x="389.21" y="499.64" width="4.60" height="4.60" fill="#0000e0"/>
<rect x="393.43" y="499.39" width="4.60" height="4.60" fill="#0000e0"/>
<rect x="397.65" y="499.01" width="4.60" height="4.60" fill="#0000e0"/>
<rect x="401.87" y="497.90" width="4.60" height="4.60" fill="#0000e0"/>
<rect x="406.09" y="496.37" width="4.60" height="4.60" fill="#0000e0"/>
<rect x="410.31" y="494.58" width="4.60" height="4.60" fill="#0000e0"/>
<rect x="414.53" y="492.95" width="4.60" height="4.60" fill="#0000e0"/>
<rect x="418.75" y="491.05" width="4.60" height="4.60" fill="#0000e0"/>
<rect x="422.98" y="488.32" width="4.60" height="4.60" fill="#0000e0"/>
<rect x="425.79" y="485.69" width="4.60" height="4.60" fill="#0000e0"/>
<rect x="428.60" y="482.68" width="4.60" height="4.60" fill="#0000e0"/>
<rect x="431.42" y="479.62" width="4.60" height="4.60" fill="#0000e0"/>
<rect x="434.23" y="476.37" width="4.60" height="4.60" fill="#0000e0"/>
<rect x="437.05" y="472.85" width="4.60" height="4.60" fill="#0000e0"/>
<rect x="439.86" y="469.09" width="4.60" height="4.60" fill="#0000e0"/>
<rect x="441.87" y="466.00" width="4.60" height="4.60" fill="#0000e0"/>
<rect x="443.88" y="463.39" width="4.60" height="4.60" fill="#0000e0"/>
<rect x="445.89" y="461.69" width="4.60" height="4.60" fill="#0000e0"/>
<rect x="447.90" y="460.27" width="4.60" height="4.60" fill="#0000e0"/>
<rect x="449.91" y="459.28" width="4.60" height="4.60" fill="#0000e0"/>
<rect x="451.92" y="458.86" width="4.60" height="4.60" fill="#0000e0"/>
<rect x="453.93" y="458.61" width="4.60" height="4.60" fill="#0000e0"/>
<rect x="455.94" y="458.45" width="4.60" height="4.60" fill="#0000e0"/>
<rect x="457.95" y="458.40" width="4.60" height="4.60" fill="#0000e0"/>
<rect x="459.96" y="458.48" width="4.60" height="4.60" fill="#0000e0"/>
<rect x="461.97" y="458.66" width="4.60" height="4.60" fill="#0000e0"/>
<rect x="463.98" y="458.95" width="4.60" height="4.60" fill="#0000e0"/>
<rect x="465.99" y="459.90" width="4.60" height="4.60" fill="#0000e0"/>
<rect x="468.00" y="461.96" width="4.60" height="4.60" fill="#0000e0"/>
<rect x="470.01" y="464.89" width="4.60" height="4.60" fill="#0000e0"/>
<rect x="472.02" y="469.07" width="4.60" height="4.60" fill="#0000e0"/>
<rect x="474.03" y="474.15" width="4.60" height="4.60" fill="#0000e0"/>
<rect x="476.04" y="482.19" width="4.60" height="4.60" fill="#0000e0"/>
<rect x="478.05" y="492.59" width="4.60" height="4.60" fill="#0000e0"/>
<rect x="480.06" y="506.70" width="4.60" height="4.60" fill="#0000e0"/>
<rect x="482.07" y="526.23" width="4.60" height="4.60" fill="#0000e0"/>
<rect x="484.08" y="541.90" width="4.60" height="4.60" fill="#0000e0"/>
<rect x="486.09" y="552.72" width="4.60" height="4.60" fill="#0000e0"/>
<rect x="488.10" y="555.34" width="4.60" height="4.60" fill="#0000e0"/>
<rect x="490.11" y="547.61" width="4.60" height="4.60" fill="#0000e0"/>
<rect x="492.12" y="522.82" width="4.60" height="4.60" fill="#0000e0"/>
<rect x="494.13" y="509.94" width="4.60" height="4.60" fill="#0000e0"/>
<rect x="496.14" y="500.64" width="4.60" height="4.60" fill="#0000e0"/>
<rect x="498.15" y="492.68" width="4.60" height="4.60" fill="#0000e0"/>
<rect x="500.16" y="482.07" width="4.60" height="4.60" fill="#0000e0"/>
<rect x="502.17" y="475.11" width="4.60" height="4.60" fill="#0000e0"/>
<rect x="504.18" y="466.89" width="4.60" height="4.60" fill="#0000e0"/>
<rect x="506.19" y="462.85" width="4.60" height="4.60" fill="#0000e0"/>
<rect x="508.20" y="460.46" width="4.60" height="4.60" fill="#0000e0"/>
<rect x="510.21" y="459.00" width="4.60" height="4.60" fill="#0000e0"/>
<rect x="512.22" y="457.97" width="4.60" height="4.60" fill="#0000e0"/>
<rect x="514.23" y="457.70" width="4.60" height="4.60" fill="#0000e0"/>
<rect x="516.24" y="457.70" width="4.60" height="4.60" fill="#0000e0"/>
<rect x="518.25" y="457.70" width="4.60" height="4.60" fill="#0000e0"/>
<rect x="520.26" y="457.70" width="4.60" height="4.60" fill="#0000e0"/>
<rect x="522.27" y="457.93" width="4.60" height="4.60" fill="#0000e0"/>
<rect x="524.28" y="458.54" width="4.60" height="4.60" fill="#0000e0"/>
<rect x="526.29" y="459.38" width="4.60" height="4.60" fill="#0000e0"/>
<rect x="528.30" y="460.47" width="4.60" height="4.60" fill="#0000e0"/>
<rect x="530.31" y="462.22" width="4.60" height="4.60" fill="#0000e0"/>
<rect x="532.32" y="464.32" width="4.60" height="4.60" fill="#0000e0"/>
<rect x="534.33" y="466.86" width="4.60" height="4.60" fill="#0000e0"/>
<rect x="536.34" y="469.84" width="4.60" height="4.60" fill="#0000e0"/>
<rect x="539.15" y="474.01" width="4.60" height="4.60" fill="#0000e0"/>
<rect x="541.97" y="478.25" width="4.60" height="4.60" fill="#0000e0"/>
<rect x="544.78" y="482.12" width="4.60" height="4.60" fill="#0000e0"/>
<rect x="547.60" y="485.59" width="4.60" height="4.60" fill="#0000e0"/>
<rect x="550.41" y="488.11" width="4.60" height="4.60" fill="#0000e0"/>
<rect x="553.22" y="490.07" width="4.60" height="4.60" fill="#0000e0"/>
<rect x="557.45" y="492.31" width="4.60" height="4.60" fill="#0000e0"/>
<rect x="561.67" y="494.20" width="4.60" height="4.60" fill="#0000e0"/>
<rect x="565.89" y="495.92" width="4.60" height="4.60" fill="#0000e0"/>
<rect x="570.11" y="497.54" width="4.60" height="4.60" fill="#0000e0"/>
<rect x="574.33" y="498.89" width="4.60" height="4.60" fill="#0000e0"/>
<rect x="578.55" y="499.46" width="4.60" height="4.60" fill="#0000e0"/>
<rect x="582.77" y="500.20" width="4.60" height="4.60" fill="#0000e0"/>
<rect x="586.99" y="501.14" width="4.60" height="4.60" fill="#0000e0"/>
<rect x="591.21" y="501.86" width="4.60" height="4.60" fill="#0000e0"/>
<rect x="595.43" y="502.42" width="4.60" height="4.60" fill="#0000e0"/>
<rect x="599.66" y="502.90" width="4.60" height="4.60" fill="#0000e0"/>
<rect x="603.88" y="503.33" width="4.60" height="4.60" fill="#0000e0"/>
<rect x="608.10" y="503.69" width="4.60" height="4.60" fill="#0000e0"/>
<rect x="608.20" y="503.70" width="4.60" height="4.60" fill="#0000e0"/>
<path d="M370.0 520.7 L370.4 520.6 L370.8 520.6 L371.2 520.5 L371.6 520.4 L372.0 520.4 L372.4 520.3 L372.8 520.2 L373.2 520.2 L373.6 520.1 L374.0 520.0 L374.4 520.0 L374.8 519.9 L375.2 519.8 L375.6 519.8 L376.0 519.7 L376.4 519.6 L376.8 519.6 L377.2 519.5 L377.6 519.4 L378.0 519.4 L378.4 519.3 L378.8 519.2 L379.2 519.2 L379.6 519.1 L380.0 519.0 L380.4 519.0 L380.8 518.9 L381.2 518.8 L381.6 518.8 L382.0 518.7 L382.4 518.6 L382.8 518.6 L383.2 518.5 L383.6 518.4 L384.0 518.4 L384.4 518.3 L384.8 518.3 L385.2 518.2 L385.6 518.1 L386.0 518.1 L386.4 518.0 L386.8 517.9 L387.2 517.9 L387.6 517.8 L388.0 517.7 L388.4 517.7 L388.8 517.6 L389.2 517.6 L389.6 517.5 L390.0 517.4 L390.4 517.4 L390.8 517.3 L391.2 517.3 L391.6 517.2 L392.0 517.2 L392.4 517.1 L392.8 517.1 L393.2 517.0 L393.6 517.0 L394.0 516.9 L394.4 516.9 L394.8 516.8 L395.2 516.7 L395.6 516.7 L396.0 516.6 L396.4 516.6 L396.8 516.5 L397.2 516.4 L397.6 516.4 L398.0 516.3 L398.4 516.2 L398.8 516.2 L399.2 516.1 L399.6 516.0 L400.0 515.9 L400.4 515.8 L400.8 515.7 L401.2 515.6 L401.6 515.4 L402.0 515.3 L402.4 515.1 L402.8 514.9 L403.2 514.8 L403.6 514.6 L404.0 514.4 L404.4 514.2 L404.8 514.0 L405.2 513.8 L405.6 513.7 L406.0 513.5 L406.4 513.3 L406.8 513.2 L407.2 513.0 L407.6 512.8 L408.0 512.7 L408.4 512.5 L408.8 512.4 L409.2 512.2 L409.6 512.0 L410.0 511.9 L410.4 511.7 L410.8 511.6 L411.2 511.4 L411.6 511.2 L412.0 511.1 L412.4 510.9 L412.8 510.8 L413.2 510.6 L413.6 510.5 L414.0 510.3 L414.4 510.2 L414.8 510.1 L415.2 509.9 L415.6 509.8 L416.0 509.7 L416.4 509.5 L416.8 509.4 L417.2 509.3 L417.6 509.1 L418.0 509.0 L418.4 508.9 L418.8 508.7 L419.2 508.6 L419.6 508.4 L420.0 508.3 L420.4 508.2 L420.8 508.0 L421.2 507.9 L421.6 507.7 L422.0 507.6 L422.4 507.4 L422.8 507.3 L423.2 507.2 L423.6 507.0 L424.0 506.9 L424.4 506.7 L424.8 506.6 L425.2 506.4 L425.6 506.3 L426.0 506.1 L426.4 506.0 L426.8 505.8 L427.2 505.7 L427.6 505.5 L428.0 505.4 L428.4 505.2 L428.8 505.0 L429.2 504.9 L429.6 504.7 L430.0 504.5 L430.4 504.4 L430.8 504.2 L431.2 504.1 L431.6 503.9 L432.0 503.8 L432.4 503.6 L432.8 503.5 L433.2 503.3 L433.6 503.2 L434.0 503.1 L434.4 502.9 L434.8 502.8 L435.2 502.7 L435.6 502.5 L436.0 502.4 L436.4 502.3 L436.8 502.2 L437.2 502.1 L437.6 501.9 L438.0 501.8 L438.4 501.7 L438.8 501.6 L439.2 501.5 L439.6 501.4 L440.0 501.3 L440.4 501.2 L440.8 501.1 L441.2 501.0 L441.6 500.9 L442.0 500.8 L442.4 500.6 L442.8 500.5 L443.2 500.4 L443.6 500.3 L444.0 500.2 L444.4 500.1 L444.8 500.1 L445.2 500.0 L445.6 500.0 L446.0 499.9 L446.4 499.9 L446.8 499.9 L447.2 499.9 L447.6 499.9 L448.0 499.9 L448.4 499.9 L448.8 499.9 L449.2 499.9 L449.6 499.9 L450.0 499.9 L450.4 499.9 L450.8 499.9 L451.2 499.9 L451.6 499.9 L452.0 499.9 L452.4 499.9 L452.8 499.9 L453.2 499.9 L453.6 499.9 L454.0 499.9 L454.4 500.0 L454.8 500.0 L455.2 500.1 L455.6 500.1 L456.0 500.2 L456.4 500.3 L456.8 500.4 L457.2 500.5 L457.6 500.6 L458.0 500.8 L458.4 500.9 L458.8 501.0 L459.2 501.1 L459.6 501.2 L460.0 501.3 L460.4 501.4 L460.8 501.6 L461.2 501.7 L461.6 501.8 L462.0 501.9 L462.4 502.1 L462.8 502.2 L463.2 502.4 L463.6 502.5 L464.0 502.7 L464.4 502.8 L464.8 503.0 L465.2 503.2 L465.6 503.4 L466.0 503.6 L466.4 503.8 L466.8 504.0 L467.2 504.3 L467.6 504.5 L468.0 504.8 L468.4 505.2 L468.8 505.5 L469.2 505.9 L469.6 506.2 L470.0 506.6 L470.4 507.0 L470.8 507.4 L471.2 507.9 L471.6 508.3 L472.0 508.7 L472.4 509.1 L472.8 509.6 L473.2 510.1 L473.6 510.5 L474.0 511.0 L474.4 511.6 L474.8 512.1 L475.2 512.7 L475.6 513.4 L476.0 514.1 L476.4 514.8 L476.8 515.7 L477.2 516.6 L477.6 517.6 L478.0 518.6 L478.4 519.7 L478.8 520.9 L479.2 522.1 L479.6 523.4 L480.0 524.9 L480.4 526.4 L480.8 528.0 L481.2 529.7 L481.6 531.4 L482.0 533.3 L482.4 535.4 L482.8 537.5 L483.2 539.6 L483.6 541.8 L484.0 544.0 L484.4 546.2 L484.8 548.4 L485.2 550.5 L485.6 552.7 L486.0 555.1 L486.4 557.2 L486.8 558.0 L487.2 558.0 L487.6 558.0 L488.0 557.9 L488.4 557.9 L488.8 557.8 L489.2 557.7 L489.6 557.6 L490.0 557.5 L490.4 557.1 L490.8 556.4 L491.2 555.2 L491.6 553.9 L492.0 552.3 L492.4 550.6 L492.8 548.9 L493.2 547.1 L493.6 544.9 L494.0 542.3 L494.4 539.7 L494.8 537.1 L495.2 534.9 L495.6 532.6 L496.0 530.4 L496.4 528.4 L496.8 526.7 L497.2 525.4 L497.6 524.2 L498.0 523.2 L498.4 522.3 L498.8 521.4 L499.2 520.6 L499.6 519.9 L500.0 519.2 L500.4 518.5 L500.8 517.9 L501.2 517.3 L501.6 516.8 L502.0 516.3 L502.4 515.8 L502.8 515.3 L503.2 514.8 L503.6 514.4 L504.0 513.9 L504.4 513.4 L504.8 513.0 L505.2 512.6 L505.6 512.1 L506.0 511.7 L506.4 511.3 L506.8 510.9 L507.2 510.5 L507.6 510.1 L508.0 509.7 L508.4 509.4 L508.8 509.0 L509.2 508.7 L509.6 508.4 L510.0 508.0 L510.4 507.7 L510.8 507.4 L511.2 507.1 L511.6 506.8 L512.0 506.5 L512.4 506.2 L512.8 505.9 L513.2 505.6 L513.6 505.3 L514.0 505.1 L514.4 504.8 L514.8 504.6 L515.2 504.3 L515.6 504.1 L516.0 503.9 L516.4 503.7 L516.8 503.5 L517.2 503.3 L517.6 503.1 L518.0 502.9 L518.4 502.7 L518.8 502.5 L519.2 502.4 L519.6 502.2 L520.0 502.0 L520.4 501.9 L520.8 501.8 L521.2 501.6 L521.6 501.5 L522.0 501.4 L522.4 501.3 L522.8 501.3 L523.2 501.2 L523.6 501.1 L524.0 501.1 L524.4 501.0 L524.8 501.0 L525.2 500.9 L525.6 500.9 L526.0 500.8 L526.4 500.8 L526.8 500.7 L527.2 500.7 L527.6 500.7 L528.0 500.6 L528.4 500.6 L528.8 500.6 L529.2 500.6 L529.6 500.6 L530.0 500.6 L530.4 500.7 L530.8 500.8 L531.2 500.8 L531.6 501.0 L532.0 501.1 L532.4 501.2 L532.8 501.3 L533.2 501.5 L533.6 501.6 L534.0 501.8 L534.4 502.0 L534.8 502.1 L535.2 502.3 L535.6 502.4 L536.0 502.6 L536.4 502.8 L536.8 502.9 L537.2 503.1 L537.6 503.3 L538.0 503.5 L538.4 503.7 L538.8 503.9 L539.2 504.1 L539.6 504.3 L540.0 504.6 L540.4 504.8 L540.8 505.0 L541.2 505.2 L541.6 505.4 L542.0 505.6 L542.4 505.8 L542.8 506.0 L543.2 506.2 L543.6 506.4 L544.0 506.5 L544.4 506.7 L544.8 506.9 L545.2 507.1 L545.6 507.2 L546.0 507.4 L546.4 507.6 L546.8 507.7 L547.2 507.9 L547.6 508.1 L548.0 508.2 L548.4 508.4 L548.8 508.6 L549.2 508.7 L549.6 508.9 L550.0 509.0 L550.4 509.2 L550.8 509.4 L551.2 509.6 L551.6 509.7 L552.0 509.9 L552.4 510.1 L552.8 510.2 L553.2 510.4 L553.6 510.6 L554.0 510.8 L554.4 510.9 L554.8 511.1 L555.2 511.3 L555.6 511.4 L556.0 511.6 L556.4 511.8 L556.8 511.9 L557.2 512.1 L557.6 512.2 L558.0 512.4 L558.4 512.5 L558.8 512.7 L559.2 512.8 L559.6 513.0 L560.0 513.1 L560.4 513.2 L560.8 513.4 L561.2 513.5 L561.6 513.6 L562.0 513.8 L562.4 513.9 L562.8 514.0 L563.2 514.1 L563.6 514.3 L564.0 514.4 L564.4 514.5 L564.8 514.6 L565.2 514.8 L565.6 514.9 L566.0 515.0 L566.4 515.1 L566.8 515.3 L567.2 515.4 L567.6 515.5 L568.0 515.6 L568.4 515.8 L568.8 515.9 L569.2 516.0 L569.6 516.1 L570.0 516.2 L570.4 516.3 L570.8 516.4 L571.2 516.5 L571.6 516.6 L572.0 516.7 L572.4 516.8 L572.8 516.8 L573.2 516.9 L573.6 517.0 L574.0 517.1 L574.4 517.2 L574.8 517.2 L575.2 517.3 L575.6 517.4 L576.0 517.5 L576.4 517.6 L576.8 517.6 L577.2 517.7 L577.6 517.8 L578.0 517.9 L578.4 517.9 L578.8 518.0 L579.2 518.1 L579.6 518.1 L580.0 518.2 L580.4 518.3 L580.8 518.4 L581.2 518.4 L581.6 518.5 L582.0 518.6 L582.4 518.6 L582.8 518.7 L583.2 518.8 L583.6 518.8 L584.0 518.9 L584.4 519.0 L584.8 519.1 L585.2 519.1 L585.6 519.2 L586.0 519.2 L586.4 519.3 L586.8 519.4 L587.2 519.4 L587.6 519.5 L588.0 519.6 L588.4 519.6 L588.8 519.7 L589.2 519.7 L589.6 519.8 L590.0 519.8 L590.4 519.9 L590.8 519.9 L591.2 520.0 L591.6 520.0 L592.0 520.1 L592.4 520.1 L592.8 520.2 L593.2 520.2 L593.6 520.2 L594.0 520.3 L594.4 520.3 L594.8 520.4 L595.2 520.4 L595.6 520.5 L596.0 520.5 L596.4 520.5 L596.8 520.6 L597.2 520.6 L597.6 520.7 L598.0 520.7 L598.4 520.7 L598.8 520.8 L599.2 520.8 L599.6 520.8 L600.0 520.9 L600.4 520.9 L600.8 520.9 L601.2 521.0 L601.6 521.0 L602.0 521.1 L602.4 521.1 L602.8 521.1 L603.2 521.2 L603.6 521.2 L604.0 521.2 L604.4 521.3 L604.8 521.3 L605.2 521.3 L605.6 521.4 L606.0 521.4 L606.4 521.5 L606.8 521.5 L607.2 521.5 L607.6 521.6 L608.0 521.6 L608.4 521.6 L608.8 521.7 L609.2 521.7 L609.6 521.7 L610.0 521.8 L610.4 521.8 L610.5 521.8" fill="none" stroke="#e40000" stroke-width="1.25" stroke-linejoin="round"/>
<path d="M367.50 522.90L370.00 518.50L372.50 522.90Z" fill="#e40000"/>
<path d="M368.71 522.70L371.21 518.30L373.71 522.70Z" fill="#e40000"/>
<path d="M372.93 521.99L375.43 517.59L377.93 521.99Z" fill="#e40000"/>
<path d="M377.15 521.29L379.65 516.89L382.15 521.29Z" fill="#e40000"/>
<path d="M381.37 520.60L383.87 516.20L386.37 520.60Z" fill="#e40000"/>
<path d="M385.59 519.93L388.09 515.53L390.59 519.93Z" fill="#e40000"/>
<path d="M389.81 519.33L392.31 514.93L394.81 519.33Z" fill="#e40000"/>
<path d="M394.03 518.75L396.53 514.35L399.03 518.75Z" fill="#e40000"/>
<path d="M398.25 517.90L400.75 513.50L403.25 517.90Z" fill="#e40000"/>
<path d="M402.47 516.15L404.97 511.75L407.47 516.15Z" fill="#e40000"/>
<path d="M406.70 514.40L409.20 510.00L411.70 514.40Z" fill="#e40000"/>
<path d="M410.92 512.76L413.42 508.36L415.92 512.76Z" fill="#e40000"/>
<path d="M415.14 511.31L417.64 506.91L420.14 511.31Z" fill="#e40000"/>
<path d="M419.36 509.84L421.86 505.44L424.36 509.84Z" fill="#e40000"/>
<path d="M423.58 508.29L426.08 503.89L428.58 508.29Z" fill="#e40000"/>
<path d="M426.80 507.03L429.30 502.63L431.80 507.03Z" fill="#e40000"/>
<path d="M430.01 505.78L432.51 501.38L435.01 505.78Z" fill="#e40000"/>
<path d="M433.23 504.71L435.73 500.31L438.23 504.71Z" fill="#e40000"/>
<path d="M436.44 503.77L438.94 499.37L441.44 503.77Z" fill="#e40000"/>
<path d="M439.66 502.91L442.16 498.51L444.66 502.91Z" fill="#e40000"/>
<path d="M441.67 502.39L444.17 497.99L446.67 502.39Z" fill="#e40000"/>
<path d="M443.68 502.11L446.18 497.71L448.68 502.11Z" fill="#e40000"/>
<path d="M445.69 502.10L448.19 497.70L450.69 502.10Z" fill="#e40000"/>
<path d="M447.70 502.10L450.20 497.70L452.70 502.10Z" fill="#e40000"/>
<path d="M449.71 502.10L452.21 497.70L454.71 502.10Z" fill="#e40000"/>
<path d="M451.72 502.14L454.22 497.74L456.72 502.14Z" fill="#e40000"/>
<path d="M453.73 502.48L456.23 498.08L458.73 502.48Z" fill="#e40000"/>
<path d="M455.74 503.02L458.24 498.62L460.74 503.02Z" fill="#e40000"/>
<path d="M457.75 503.60L460.25 499.20L462.75 503.60Z" fill="#e40000"/>
<path d="M459.76 504.22L462.26 499.82L464.76 504.22Z" fill="#e40000"/>
<path d="M461.77 504.98L464.27 500.58L466.77 504.98Z" fill="#e40000"/>
<path d="M463.78 505.93L466.28 501.53L468.78 505.93Z" fill="#e40000"/>
<path d="M465.79 507.27L468.29 502.87L470.79 507.27Z" fill="#e40000"/>
<path d="M467.80 509.12L470.30 504.72L472.80 509.12Z" fill="#e40000"/>
<path d="M469.81 511.24L472.31 506.84L474.81 511.24Z" fill="#e40000"/>
<path d="M471.82 513.67L474.32 509.27L476.82 513.67Z" fill="#e40000"/>
<path d="M473.83 516.90L476.33 512.50L478.83 516.90Z" fill="#e40000"/>
<path d="M475.84 521.78L478.34 517.38L480.84 521.78Z" fill="#e40000"/>
<path d="M477.85 528.41L480.35 524.01L482.85 528.41Z" fill="#e40000"/>
<path d="M479.86 537.37L482.36 532.97L484.86 537.37Z" fill="#e40000"/>
<path d="M481.87 548.22L484.37 543.82L486.87 548.22Z" fill="#e40000"/>
<path d="M483.88 559.28L486.38 554.88L488.88 559.28Z" fill="#e40000"/>
<path d="M485.89 560.07L488.39 555.67L490.89 560.07Z" fill="#e40000"/>
<path d="M487.90 559.34L490.40 554.94L492.90 559.34Z" fill="#e40000"/>
<path d="M489.91 552.74L492.41 548.34L494.91 552.74Z" fill="#e40000"/>
<path d="M491.92 541.73L494.42 537.33L496.92 541.73Z" fill="#e40000"/>
<path d="M493.93 530.47L496.43 526.07L498.93 530.47Z" fill="#e40000"/>
<path d="M495.94 524.37L498.44 519.97L500.94 524.37Z" fill="#e40000"/>
<path d="M497.95 520.67L500.45 516.27L502.95 520.67Z" fill="#e40000"/>
<path d="M499.96 517.90L502.46 513.50L504.96 517.90Z" fill="#e40000"/>
<path d="M501.97 515.57L504.47 511.17L506.97 515.57Z" fill="#e40000"/>
<path d="M503.98 513.41L506.48 509.01L508.98 513.41Z" fill="#e40000"/>
<path d="M505.99 511.50L508.49 507.10L510.99 511.50Z" fill="#e40000"/>
<path d="M508.00 509.82L510.50 505.42L513.00 509.82Z" fill="#e40000"/>
<path d="M510.01 508.28L512.51 503.88L515.01 508.28Z" fill="#e40000"/>
<path d="M512.02 506.93L514.52 502.53L517.02 506.93Z" fill="#e40000"/>
<path d="M514.03 505.83L516.53 501.43L519.03 505.83Z" fill="#e40000"/>
<path d="M516.04 504.86L518.54 500.46L521.04 504.86Z" fill="#e40000"/>
<path d="M518.05 504.04L520.55 499.64L523.05 504.04Z" fill="#e40000"/>
<path d="M520.06 503.51L522.56 499.11L525.06 503.51Z" fill="#e40000"/>
<path d="M522.07 503.19L524.57 498.79L527.07 503.19Z" fill="#e40000"/>
<path d="M524.08 502.94L526.58 498.54L529.08 502.94Z" fill="#e40000"/>
<path d="M526.09 502.81L528.59 498.41L531.09 502.81Z" fill="#e40000"/>
<path d="M528.10 502.92L530.60 498.52L533.10 502.92Z" fill="#e40000"/>
<path d="M530.11 503.47L532.61 499.07L535.11 503.47Z" fill="#e40000"/>
<path d="M532.12 504.25L534.62 499.85L537.12 504.25Z" fill="#e40000"/>
<path d="M534.13 505.05L536.63 500.65L539.13 505.05Z" fill="#e40000"/>
<path d="M536.14 506.03L538.64 501.63L541.14 506.03Z" fill="#e40000"/>
<path d="M539.36 507.74L541.86 503.34L544.36 507.74Z" fill="#e40000"/>
<path d="M542.57 509.20L545.07 504.80L547.57 509.20Z" fill="#e40000"/>
<path d="M545.79 510.54L548.29 506.14L550.79 510.54Z" fill="#e40000"/>
<path d="M549.00 511.88L551.50 507.48L554.00 511.88Z" fill="#e40000"/>
<path d="M552.22 513.26L554.72 508.86L557.22 513.26Z" fill="#e40000"/>
<path d="M556.44 514.92L558.94 510.52L561.44 514.92Z" fill="#e40000"/>
<path d="M560.66 516.33L563.16 511.93L565.66 516.33Z" fill="#e40000"/>
<path d="M564.88 517.65L567.38 513.25L569.88 517.65Z" fill="#e40000"/>
<path d="M569.10 518.80L571.60 514.40L574.10 518.80Z" fill="#e40000"/>
<path d="M573.33 519.64L575.83 515.24L578.33 519.64Z" fill="#e40000"/>
<path d="M577.55 520.43L580.05 516.03L582.55 520.43Z" fill="#e40000"/>
<path d="M581.77 521.16L584.27 516.76L586.77 521.16Z" fill="#e40000"/>
<path d="M585.99 521.83L588.49 517.43L590.99 521.83Z" fill="#e40000"/>
<path d="M590.21 522.35L592.71 517.95L595.21 522.35Z" fill="#e40000"/>
<path d="M594.43 522.79L596.93 518.39L599.43 522.79Z" fill="#e40000"/>
<path d="M598.65 523.18L601.15 518.78L603.65 523.18Z" fill="#e40000"/>
<path d="M602.87 523.56L605.37 519.16L607.87 523.56Z" fill="#e40000"/>
<path d="M607.09 523.93L609.59 519.53L612.09 523.93Z" fill="#e40000"/>
<path d="M608.00 524.00L610.50 519.60L613.00 524.00Z" fill="#e40000"/>
<text x="384.3" y="342" class="pl">(d)</text>
<path d="M537.5 333.90H561.5" stroke="#000" stroke-width="1.6"/>
<circle cx="549.50" cy="333.90" r="2.12" fill="#000"/>
<text x="563.8" y="337.60" class="lg" fill="#000" textLength="43.0" lengthAdjust="spacingAndGlyphs">30 wt % IL</text>
<path d="M537.5 344.05H561.5" stroke="#0000e0" stroke-width="1.6"/>
<rect x="547.54" y="342.09" width="3.91" height="3.91" fill="#0000e0"/>
<text x="563.8" y="347.75" class="lg" fill="#0000e0" textLength="43.0" lengthAdjust="spacingAndGlyphs">20 wt % IL</text>
<path d="M537.5 354.20H561.5" stroke="#e40000" stroke-width="1.6"/>
<path d="M547.38 356.07L549.50 352.33L551.62 356.07Z" fill="#e40000"/>
<text x="563.8" y="357.90" class="lg" fill="#e40000" textLength="37.5" lengthAdjust="spacingAndGlyphs">5 wt % IL</text>
<text x="551" y="382.9" class="fq">f=150 kHz</text>
<text x="452.34" y="592.40" class="axx">H</text>
<text x="463.74" y="600.70" class="subx">dc</text>
<text x="479.88" y="592.60" class="axx">(Oe)</text>
<text transform="translate(335.00,468.15) rotate(-90)" class="ax">(mV/cm.Oe)</text>
<text transform="translate(335.90,491.95) rotate(-90)" class="alpha">α</text>
<text transform="translate(343.00,482.05) rotate(-90)" class="sub">MI</text>
</svg>
</body></html>
